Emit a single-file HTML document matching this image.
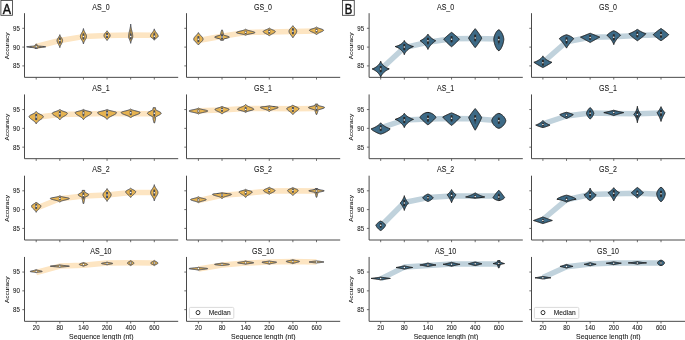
<!DOCTYPE html><html><head><meta charset="utf-8"><style>html,body{margin:0;padding:0;background:#fff;}svg{display:block;will-change:transform;font-family:"Liberation Sans",sans-serif;}text{stroke:#1a1a1a;stroke-width:0.08px;}</style></head><body>
<svg width="685" height="340" viewBox="0 0 685 340">
<rect width="685" height="340" fill="#fff"/>
<text font-size="8.30" fill="#1a1a1a" text-anchor="middle" transform="translate(100.95,9.85) scale(0.850,1)">AS_0</text>
<path d="M36.20,46.50 L59.82,40.50 L83.44,36.60 L107.06,35.60 L130.68,34.95 L154.30,35.20" fill="none" stroke="#FDE5C2" stroke-width="5.50" stroke-linejoin="round"/>
<path d="M36.51,44.00 L36.58,44.11 L36.65,44.22 L36.72,44.33 L36.79,44.44 L36.86,44.55 L36.93,44.66 L36.99,44.77 L37.06,44.88 L37.13,44.99 L37.20,45.10 L37.27,45.21 L37.34,45.32 L37.41,45.43 L37.45,45.54 L37.45,45.65 L37.45,45.76 L37.45,45.87 L37.85,45.98 L38.79,46.09 L39.98,46.20 L41.36,46.31 L42.80,46.42 L44.13,46.53 L45.15,46.64 L45.69,46.75 L45.69,46.86 L45.30,46.97 L44.57,47.08 L43.59,47.19 L42.46,47.30 L41.29,47.41 L40.16,47.52 L39.15,47.63 L38.30,47.74 L37.62,47.85 L37.45,47.96 L37.45,48.07 L37.45,48.18 L37.45,48.29 L37.45,48.40 L34.95,48.40 L34.95,48.29 L34.95,48.18 L34.95,48.07 L34.95,47.96 L34.78,47.85 L34.10,47.74 L33.25,47.63 L32.24,47.52 L31.11,47.41 L29.94,47.30 L28.81,47.19 L27.83,47.08 L27.10,46.97 L26.71,46.86 L26.71,46.75 L27.25,46.64 L28.27,46.53 L29.60,46.42 L31.04,46.31 L32.42,46.20 L33.61,46.09 L34.55,45.98 L34.95,45.87 L34.95,45.76 L34.95,45.65 L34.95,45.54 L34.99,45.43 L35.06,45.32 L35.13,45.21 L35.20,45.10 L35.27,44.99 L35.34,44.88 L35.41,44.77 L35.48,44.66 L35.54,44.55 L35.61,44.44 L35.68,44.33 L35.75,44.22 L35.82,44.11 L35.89,44.00Z" fill="#E6B350" stroke="#474c58" stroke-width="1.0" stroke-linejoin="round"/>
<line x1="36.20" y1="45.20" x2="36.20" y2="47.20" stroke="#474c58" stroke-width="0.6"/>
<rect x="35.25" y="45.60" width="1.9" height="2.40" fill="#474c58"/>
<circle cx="36.20" cy="46.80" r="0.75" fill="#fff"/>
<path d="M59.82,34.70 L59.92,35.02 L60.03,35.34 L60.16,35.67 L60.31,35.99 L60.48,36.31 L60.66,36.63 L60.86,36.96 L61.07,37.28 L61.28,37.60 L61.50,37.92 L61.71,38.25 L61.92,38.57 L62.10,38.89 L62.26,39.21 L62.39,39.54 L62.49,39.86 L62.55,40.18 L62.57,40.50 L62.56,40.83 L62.51,41.15 L62.45,41.47 L62.36,41.80 L62.24,42.12 L62.11,42.44 L61.96,42.76 L61.80,43.09 L61.63,43.41 L61.46,43.73 L61.28,44.05 L61.11,44.38 L60.93,44.70 L60.77,45.02 L60.61,45.34 L60.46,45.66 L60.32,45.99 L60.20,46.31 L60.09,46.63 L59.99,46.95 L59.90,47.28 L59.82,47.60 L59.82,47.60 L59.74,47.28 L59.65,46.95 L59.55,46.63 L59.44,46.31 L59.32,45.99 L59.18,45.66 L59.03,45.34 L58.87,45.02 L58.71,44.70 L58.53,44.38 L58.36,44.05 L58.18,43.73 L58.01,43.41 L57.84,43.09 L57.68,42.76 L57.53,42.44 L57.40,42.12 L57.28,41.80 L57.19,41.47 L57.13,41.15 L57.08,40.83 L57.07,40.50 L57.09,40.18 L57.15,39.86 L57.25,39.54 L57.38,39.21 L57.54,38.89 L57.72,38.57 L57.93,38.25 L58.14,37.92 L58.36,37.60 L58.57,37.28 L58.78,36.96 L58.98,36.63 L59.16,36.31 L59.33,35.99 L59.48,35.67 L59.61,35.34 L59.72,35.02 L59.82,34.70Z" fill="#E6B350" stroke="#474c58" stroke-width="1.0" stroke-linejoin="round"/>
<line x1="59.82" y1="38.45" x2="59.82" y2="43.85" stroke="#474c58" stroke-width="0.6"/>
<rect x="58.87" y="37.50" width="1.9" height="6.00" fill="#474c58"/>
<circle cx="59.82" cy="40.50" r="0.75" fill="#fff"/>
<path d="M83.44,28.60 L83.51,28.99 L83.60,29.37 L83.70,29.76 L83.82,30.14 L83.95,30.53 L84.10,30.91 L84.28,31.30 L84.46,31.68 L84.66,32.06 L84.87,32.45 L85.09,32.84 L85.31,33.22 L85.53,33.61 L85.74,33.99 L85.93,34.38 L86.11,34.76 L86.25,35.15 L86.37,35.53 L86.44,35.91 L86.48,36.30 L86.48,36.69 L86.44,37.07 L86.36,37.45 L86.23,37.84 L86.07,38.23 L85.89,38.61 L85.68,39.00 L85.45,39.38 L85.22,39.77 L84.99,40.15 L84.76,40.53 L84.55,40.92 L84.34,41.30 L84.16,41.69 L83.99,42.08 L83.84,42.46 L83.71,42.84 L83.61,43.23 L83.52,43.61 L83.44,44.00 L83.44,44.00 L83.36,43.61 L83.27,43.23 L83.17,42.84 L83.04,42.46 L82.89,42.08 L82.72,41.69 L82.54,41.30 L82.33,40.92 L82.12,40.53 L81.89,40.15 L81.66,39.77 L81.43,39.38 L81.20,39.00 L80.99,38.61 L80.81,38.23 L80.65,37.84 L80.52,37.45 L80.44,37.07 L80.40,36.69 L80.40,36.30 L80.44,35.91 L80.51,35.53 L80.63,35.15 L80.77,34.76 L80.95,34.38 L81.14,33.99 L81.35,33.61 L81.57,33.22 L81.79,32.84 L82.01,32.45 L82.22,32.06 L82.42,31.68 L82.60,31.30 L82.78,30.91 L82.93,30.53 L83.06,30.14 L83.18,29.76 L83.28,29.37 L83.37,28.99 L83.44,28.60Z" fill="#E6B350" stroke="#474c58" stroke-width="1.0" stroke-linejoin="round"/>
<line x1="83.44" y1="33.10" x2="83.44" y2="39.50" stroke="#474c58" stroke-width="0.6"/>
<rect x="82.49" y="33.50" width="1.9" height="6.00" fill="#474c58"/>
<circle cx="83.44" cy="36.50" r="0.75" fill="#fff"/>
<path d="M107.06,30.80 L107.22,31.04 L107.40,31.29 L107.58,31.53 L107.77,31.77 L107.97,32.01 L108.18,32.26 L108.39,32.50 L108.60,32.74 L108.81,32.98 L109.02,33.23 L109.21,33.47 L109.40,33.71 L109.56,33.95 L109.71,34.20 L109.84,34.44 L109.95,34.68 L110.03,34.92 L110.08,35.16 L110.11,35.41 L110.11,35.65 L110.08,35.89 L110.02,36.13 L109.95,36.38 L109.85,36.62 L109.73,36.86 L109.59,37.11 L109.43,37.35 L109.26,37.59 L109.08,37.83 L108.90,38.08 L108.70,38.32 L108.50,38.56 L108.30,38.80 L108.11,39.05 L107.91,39.29 L107.73,39.53 L107.55,39.77 L107.37,40.02 L107.21,40.26 L107.06,40.50 L107.06,40.50 L106.91,40.26 L106.75,40.02 L106.57,39.77 L106.39,39.53 L106.21,39.29 L106.01,39.05 L105.82,38.80 L105.62,38.56 L105.42,38.32 L105.22,38.08 L105.04,37.83 L104.86,37.59 L104.69,37.35 L104.53,37.11 L104.39,36.86 L104.27,36.62 L104.17,36.38 L104.10,36.13 L104.04,35.89 L104.01,35.65 L104.01,35.41 L104.04,35.16 L104.09,34.92 L104.17,34.68 L104.28,34.44 L104.41,34.20 L104.56,33.95 L104.72,33.71 L104.91,33.47 L105.10,33.23 L105.31,32.98 L105.52,32.74 L105.73,32.50 L105.94,32.26 L106.15,32.01 L106.35,31.77 L106.54,31.53 L106.72,31.29 L106.90,31.04 L107.06,30.80Z" fill="#E6B350" stroke="#474c58" stroke-width="1.0" stroke-linejoin="round"/>
<line x1="107.06" y1="33.59" x2="107.06" y2="37.71" stroke="#474c58" stroke-width="0.6"/>
<rect x="106.11" y="33.03" width="1.9" height="4.94" fill="#474c58"/>
<circle cx="107.06" cy="35.50" r="0.75" fill="#fff"/>
<path d="M130.68,24.10 L130.72,24.58 L130.76,25.06 L130.81,25.54 L130.87,26.02 L130.93,26.50 L131.00,26.98 L131.08,27.46 L131.17,27.94 L131.26,28.42 L131.36,28.90 L131.47,29.38 L131.58,29.86 L131.69,30.34 L131.81,30.82 L131.93,31.30 L132.04,31.78 L132.16,32.26 L132.27,32.74 L132.37,33.22 L132.46,33.70 L132.54,34.18 L132.61,34.66 L132.66,35.14 L132.70,35.62 L132.72,36.10 L132.73,36.58 L132.69,37.06 L132.60,37.54 L132.46,38.02 L132.29,38.50 L132.09,38.98 L131.88,39.46 L131.66,39.94 L131.46,40.42 L131.27,40.90 L131.10,41.38 L130.96,41.86 L130.85,42.34 L130.75,42.82 L130.68,43.30 L130.68,43.30 L130.61,42.82 L130.51,42.34 L130.40,41.86 L130.26,41.38 L130.09,40.90 L129.90,40.42 L129.70,39.94 L129.48,39.46 L129.27,38.98 L129.07,38.50 L128.90,38.02 L128.76,37.54 L128.67,37.06 L128.63,36.58 L128.64,36.10 L128.66,35.62 L128.70,35.14 L128.75,34.66 L128.82,34.18 L128.90,33.70 L128.99,33.22 L129.09,32.74 L129.20,32.26 L129.32,31.78 L129.43,31.30 L129.55,30.82 L129.67,30.34 L129.78,29.86 L129.89,29.38 L130.00,28.90 L130.10,28.42 L130.19,27.94 L130.28,27.46 L130.36,26.98 L130.43,26.50 L130.49,26.02 L130.55,25.54 L130.60,25.06 L130.64,24.58 L130.68,24.10Z" fill="#E6B350" stroke="#474c58" stroke-width="1.0" stroke-linejoin="round"/>
<line x1="130.68" y1="29.74" x2="130.68" y2="37.66" stroke="#474c58" stroke-width="0.6"/>
<rect x="129.73" y="33.50" width="1.9" height="6.00" fill="#474c58"/>
<circle cx="130.68" cy="36.50" r="0.75" fill="#fff"/>
<path d="M154.30,28.90 L154.37,29.18 L154.45,29.47 L154.54,29.75 L154.65,30.03 L154.77,30.31 L154.90,30.60 L155.05,30.88 L155.21,31.16 L155.39,31.44 L155.58,31.73 L155.77,32.01 L155.98,32.29 L156.20,32.57 L156.42,32.86 L156.64,33.14 L156.86,33.42 L157.07,33.70 L157.28,33.98 L157.47,34.27 L157.64,34.55 L157.79,34.83 L157.92,35.12 L158.02,35.40 L158.10,35.68 L158.14,35.96 L158.15,36.25 L158.08,36.53 L157.91,36.81 L157.65,37.09 L157.33,37.38 L156.95,37.66 L156.55,37.94 L156.15,38.22 L155.76,38.51 L155.41,38.79 L155.10,39.07 L154.83,39.35 L154.61,39.64 L154.44,39.92 L154.30,40.20 L154.30,40.20 L154.16,39.92 L153.99,39.64 L153.77,39.35 L153.50,39.07 L153.19,38.79 L152.84,38.51 L152.45,38.22 L152.05,37.94 L151.65,37.66 L151.27,37.38 L150.95,37.09 L150.69,36.81 L150.52,36.53 L150.45,36.25 L150.46,35.96 L150.50,35.68 L150.58,35.40 L150.68,35.12 L150.81,34.83 L150.96,34.55 L151.13,34.27 L151.32,33.98 L151.53,33.70 L151.74,33.42 L151.96,33.14 L152.18,32.86 L152.40,32.57 L152.62,32.29 L152.83,32.01 L153.02,31.73 L153.21,31.44 L153.39,31.16 L153.55,30.88 L153.70,30.60 L153.83,30.31 L153.95,30.03 L154.06,29.75 L154.15,29.47 L154.23,29.18 L154.30,28.90Z" fill="#E6B350" stroke="#474c58" stroke-width="1.0" stroke-linejoin="round"/>
<line x1="154.30" y1="32.17" x2="154.30" y2="36.93" stroke="#474c58" stroke-width="0.6"/>
<rect x="153.35" y="33.34" width="1.9" height="5.71" fill="#474c58"/>
<circle cx="154.30" cy="36.20" r="0.75" fill="#fff"/>
<path d="M24.50,13.20 V77.35 H178.20" fill="none" stroke="#4a4a4a" stroke-width="1.0"/>
<line x1="22.30" y1="65.90" x2="24.50" y2="65.90" stroke="#4a4a4a" stroke-width="0.8"/>
<text font-size="7.20" fill="#1a1a1a" text-anchor="end" transform="translate(19.90,68.30) scale(0.850,1)">85</text>
<line x1="22.30" y1="47.10" x2="24.50" y2="47.10" stroke="#4a4a4a" stroke-width="0.8"/>
<text font-size="7.20" fill="#1a1a1a" text-anchor="end" transform="translate(19.90,49.50) scale(0.850,1)">90</text>
<line x1="22.30" y1="28.30" x2="24.50" y2="28.30" stroke="#4a4a4a" stroke-width="0.8"/>
<text font-size="7.20" fill="#1a1a1a" text-anchor="end" transform="translate(19.90,30.70) scale(0.850,1)">95</text>
<line x1="36.20" y1="77.35" x2="36.20" y2="79.55" stroke="#4a4a4a" stroke-width="0.8"/>
<line x1="59.82" y1="77.35" x2="59.82" y2="79.55" stroke="#4a4a4a" stroke-width="0.8"/>
<line x1="83.44" y1="77.35" x2="83.44" y2="79.55" stroke="#4a4a4a" stroke-width="0.8"/>
<line x1="107.06" y1="77.35" x2="107.06" y2="79.55" stroke="#4a4a4a" stroke-width="0.8"/>
<line x1="130.68" y1="77.35" x2="130.68" y2="79.55" stroke="#4a4a4a" stroke-width="0.8"/>
<line x1="154.30" y1="77.35" x2="154.30" y2="79.55" stroke="#4a4a4a" stroke-width="0.8"/>
<text font-size="6.50" fill="#1a1a1a" text-anchor="middle" transform="translate(8.90,45.88) scale(0.830,1) rotate(-90)">Accuracy</text>
<text font-size="8.30" fill="#1a1a1a" text-anchor="middle" transform="translate(100.95,91.10) scale(0.850,1)">AS_1</text>
<path d="M36.20,117.20 L59.82,114.60 L83.44,113.90 L107.06,113.60 L130.68,113.70 L154.30,113.80" fill="none" stroke="#FDE5C2" stroke-width="5.50" stroke-linejoin="round"/>
<path d="M36.20,111.50 L36.41,111.81 L36.68,112.12 L37.01,112.43 L37.41,112.74 L37.87,113.05 L38.40,113.36 L38.98,113.67 L39.60,113.98 L40.25,114.29 L40.89,114.60 L41.51,114.91 L42.07,115.22 L42.55,115.53 L42.92,115.84 L43.16,116.15 L43.25,116.46 L43.22,116.77 L43.13,117.08 L42.97,117.39 L42.75,117.70 L42.48,118.01 L42.16,118.32 L41.79,118.63 L41.40,118.94 L40.98,119.25 L40.55,119.56 L40.11,119.87 L39.67,120.18 L39.25,120.49 L38.84,120.80 L38.45,121.11 L38.08,121.42 L37.74,121.73 L37.43,122.04 L37.16,122.35 L36.91,122.66 L36.69,122.97 L36.50,123.28 L36.34,123.59 L36.20,123.90 L36.20,123.90 L36.06,123.59 L35.90,123.28 L35.71,122.97 L35.49,122.66 L35.24,122.35 L34.97,122.04 L34.66,121.73 L34.32,121.42 L33.95,121.11 L33.56,120.80 L33.15,120.49 L32.73,120.18 L32.29,119.87 L31.85,119.56 L31.42,119.25 L31.00,118.94 L30.61,118.63 L30.24,118.32 L29.92,118.01 L29.65,117.70 L29.43,117.39 L29.27,117.08 L29.18,116.77 L29.15,116.46 L29.24,116.15 L29.48,115.84 L29.85,115.53 L30.33,115.22 L30.89,114.91 L31.51,114.60 L32.15,114.29 L32.80,113.98 L33.42,113.67 L34.00,113.36 L34.53,113.05 L34.99,112.74 L35.39,112.43 L35.72,112.12 L35.99,111.81 L36.20,111.50Z" fill="#E6B350" stroke="#474c58" stroke-width="1.0" stroke-linejoin="round"/>
<line x1="36.20" y1="115.10" x2="36.20" y2="120.30" stroke="#474c58" stroke-width="0.6"/>
<rect x="35.25" y="114.00" width="1.9" height="6.00" fill="#474c58"/>
<circle cx="36.20" cy="117.00" r="0.75" fill="#fff"/>
<path d="M59.82,109.40 L60.07,109.66 L60.39,109.92 L60.79,110.19 L61.28,110.45 L61.85,110.71 L62.49,110.97 L63.19,111.24 L63.94,111.50 L64.69,111.76 L65.42,112.02 L66.08,112.29 L66.63,112.55 L67.05,112.81 L67.30,113.08 L67.37,113.34 L67.33,113.60 L67.22,113.86 L67.05,114.12 L66.82,114.39 L66.54,114.65 L66.21,114.91 L65.85,115.17 L65.45,115.44 L65.03,115.70 L64.59,115.96 L64.14,116.22 L63.70,116.49 L63.26,116.75 L62.84,117.01 L62.43,117.28 L62.04,117.54 L61.68,117.80 L61.35,118.06 L61.05,118.33 L60.77,118.59 L60.53,118.85 L60.31,119.11 L60.12,119.38 L59.96,119.64 L59.82,119.90 L59.82,119.90 L59.68,119.64 L59.52,119.38 L59.33,119.11 L59.11,118.85 L58.87,118.59 L58.59,118.33 L58.29,118.06 L57.96,117.80 L57.60,117.54 L57.21,117.28 L56.80,117.01 L56.38,116.75 L55.94,116.49 L55.50,116.22 L55.05,115.96 L54.61,115.70 L54.19,115.44 L53.79,115.17 L53.43,114.91 L53.10,114.65 L52.82,114.39 L52.59,114.12 L52.42,113.86 L52.31,113.60 L52.27,113.34 L52.34,113.08 L52.59,112.81 L53.01,112.55 L53.56,112.29 L54.22,112.02 L54.95,111.76 L55.70,111.50 L56.45,111.24 L57.15,110.97 L57.79,110.71 L58.36,110.45 L58.85,110.19 L59.25,109.92 L59.57,109.66 L59.82,109.40Z" fill="#E6B350" stroke="#474c58" stroke-width="1.0" stroke-linejoin="round"/>
<line x1="59.82" y1="112.43" x2="59.82" y2="116.87" stroke="#474c58" stroke-width="0.6"/>
<rect x="58.87" y="111.14" width="1.9" height="5.33" fill="#474c58"/>
<circle cx="59.82" cy="113.80" r="0.75" fill="#fff"/>
<path d="M83.44,109.40 L83.78,109.66 L84.23,109.91 L84.80,110.17 L85.51,110.43 L86.34,110.69 L87.27,110.94 L88.24,111.20 L89.22,111.46 L90.11,111.72 L90.86,111.97 L91.39,112.23 L91.66,112.49 L91.68,112.75 L91.62,113.00 L91.49,113.26 L91.31,113.52 L91.08,113.78 L90.80,114.03 L90.48,114.29 L90.12,114.55 L89.73,114.81 L89.32,115.06 L88.89,115.32 L88.45,115.58 L88.01,115.84 L87.57,116.09 L87.13,116.35 L86.71,116.61 L86.30,116.87 L85.92,117.12 L85.55,117.38 L85.22,117.64 L84.91,117.90 L84.62,118.16 L84.36,118.41 L84.13,118.67 L83.92,118.93 L83.74,119.19 L83.58,119.44 L83.44,119.70 L83.44,119.70 L83.30,119.44 L83.14,119.19 L82.96,118.93 L82.75,118.67 L82.52,118.41 L82.26,118.16 L81.97,117.90 L81.66,117.64 L81.33,117.38 L80.96,117.12 L80.58,116.87 L80.17,116.61 L79.75,116.35 L79.31,116.09 L78.87,115.84 L78.43,115.58 L77.99,115.32 L77.56,115.06 L77.15,114.81 L76.76,114.55 L76.40,114.29 L76.08,114.03 L75.80,113.78 L75.57,113.52 L75.39,113.26 L75.26,113.00 L75.20,112.75 L75.22,112.49 L75.49,112.23 L76.02,111.97 L76.77,111.72 L77.66,111.46 L78.64,111.20 L79.61,110.94 L80.54,110.69 L81.37,110.43 L82.08,110.17 L82.65,109.91 L83.10,109.66 L83.44,109.40Z" fill="#E6B350" stroke="#474c58" stroke-width="1.0" stroke-linejoin="round"/>
<line x1="83.44" y1="112.37" x2="83.44" y2="116.73" stroke="#474c58" stroke-width="0.6"/>
<rect x="82.49" y="110.38" width="1.9" height="5.23" fill="#474c58"/>
<circle cx="83.44" cy="113.00" r="0.75" fill="#fff"/>
<path d="M107.06,109.40 L107.43,109.65 L107.93,109.90 L108.56,110.15 L109.33,110.40 L110.24,110.65 L111.25,110.90 L112.33,111.15 L113.42,111.40 L114.45,111.65 L115.33,111.90 L116.01,112.15 L116.41,112.40 L116.51,112.65 L116.46,112.90 L116.34,113.15 L116.15,113.40 L115.91,113.65 L115.60,113.90 L115.24,114.15 L114.83,114.40 L114.39,114.65 L113.92,114.90 L113.42,115.15 L112.91,115.40 L112.40,115.65 L111.88,115.90 L111.38,116.15 L110.88,116.40 L110.41,116.65 L109.96,116.90 L109.53,117.15 L109.14,117.40 L108.77,117.65 L108.44,117.90 L108.13,118.15 L107.86,118.40 L107.62,118.65 L107.41,118.90 L107.22,119.15 L107.06,119.40 L107.06,119.40 L106.90,119.15 L106.71,118.90 L106.50,118.65 L106.26,118.40 L105.99,118.15 L105.68,117.90 L105.35,117.65 L104.98,117.40 L104.59,117.15 L104.16,116.90 L103.71,116.65 L103.24,116.40 L102.74,116.15 L102.24,115.90 L101.72,115.65 L101.21,115.40 L100.70,115.15 L100.20,114.90 L99.73,114.65 L99.29,114.40 L98.88,114.15 L98.52,113.90 L98.21,113.65 L97.97,113.40 L97.78,113.15 L97.66,112.90 L97.61,112.65 L97.71,112.40 L98.11,112.15 L98.79,111.90 L99.67,111.65 L100.70,111.40 L101.79,111.15 L102.87,110.90 L103.88,110.65 L104.79,110.40 L105.56,110.15 L106.19,109.90 L106.69,109.65 L107.06,109.40Z" fill="#E6B350" stroke="#474c58" stroke-width="1.0" stroke-linejoin="round"/>
<line x1="107.06" y1="112.28" x2="107.06" y2="116.52" stroke="#474c58" stroke-width="0.6"/>
<rect x="106.11" y="110.46" width="1.9" height="5.09" fill="#474c58"/>
<circle cx="107.06" cy="113.00" r="0.75" fill="#fff"/>
<path d="M130.68,109.00 L130.96,109.22 L131.32,109.44 L131.76,109.66 L132.28,109.88 L132.89,110.10 L133.58,110.32 L134.35,110.54 L135.17,110.76 L136.02,110.98 L136.88,111.20 L137.71,111.42 L138.47,111.64 L139.13,111.86 L139.65,112.08 L140.00,112.30 L140.17,112.52 L140.16,112.74 L140.05,112.96 L139.86,113.18 L139.58,113.40 L139.22,113.62 L138.79,113.84 L138.30,114.06 L137.77,114.28 L137.21,114.50 L136.62,114.72 L136.02,114.94 L135.43,115.16 L134.85,115.38 L134.29,115.60 L133.75,115.82 L133.25,116.04 L132.79,116.26 L132.37,116.48 L131.99,116.70 L131.65,116.92 L131.35,117.14 L131.09,117.36 L130.87,117.58 L130.68,117.80 L130.68,117.80 L130.49,117.58 L130.27,117.36 L130.01,117.14 L129.71,116.92 L129.37,116.70 L128.99,116.48 L128.57,116.26 L128.11,116.04 L127.61,115.82 L127.07,115.60 L126.51,115.38 L125.93,115.16 L125.34,114.94 L124.74,114.72 L124.15,114.50 L123.59,114.28 L123.06,114.06 L122.57,113.84 L122.14,113.62 L121.78,113.40 L121.50,113.18 L121.31,112.96 L121.20,112.74 L121.19,112.52 L121.36,112.30 L121.71,112.08 L122.23,111.86 L122.89,111.64 L123.65,111.42 L124.48,111.20 L125.34,110.98 L126.19,110.76 L127.01,110.54 L127.78,110.32 L128.47,110.10 L129.08,109.88 L129.60,109.66 L130.04,109.44 L130.40,109.22 L130.68,109.00Z" fill="#E6B350" stroke="#474c58" stroke-width="1.0" stroke-linejoin="round"/>
<line x1="130.68" y1="111.52" x2="130.68" y2="115.28" stroke="#474c58" stroke-width="0.6"/>
<rect x="129.73" y="110.54" width="1.9" height="4.51" fill="#474c58"/>
<circle cx="130.68" cy="112.80" r="0.75" fill="#fff"/>
<path d="M155.55,107.80 L155.55,108.18 L155.55,108.55 L155.55,108.93 L155.55,109.31 L155.70,109.69 L156.25,110.06 L156.89,110.44 L157.61,110.82 L158.38,111.20 L159.14,111.58 L159.84,111.95 L160.44,112.33 L160.88,112.71 L161.11,113.08 L161.13,113.46 L160.94,113.84 L160.55,114.22 L160.01,114.59 L159.35,114.97 L158.63,115.35 L157.89,115.73 L157.17,116.11 L156.52,116.48 L155.94,116.86 L155.55,117.24 L155.55,117.62 L155.55,117.99 L155.55,118.37 L155.55,118.75 L155.52,119.12 L155.43,119.50 L155.34,119.88 L155.25,120.26 L155.16,120.64 L155.07,121.01 L154.98,121.39 L154.88,121.77 L154.79,122.15 L154.70,122.52 L154.61,122.90 L153.99,122.90 L153.90,122.52 L153.81,122.15 L153.72,121.77 L153.62,121.39 L153.53,121.01 L153.44,120.64 L153.35,120.26 L153.26,119.88 L153.17,119.50 L153.08,119.12 L153.05,118.75 L153.05,118.37 L153.05,117.99 L153.05,117.62 L153.05,117.24 L152.66,116.86 L152.08,116.48 L151.43,116.11 L150.71,115.73 L149.97,115.35 L149.25,114.97 L148.59,114.59 L148.05,114.22 L147.66,113.84 L147.47,113.46 L147.49,113.08 L147.72,112.71 L148.16,112.33 L148.76,111.95 L149.46,111.58 L150.22,111.20 L150.99,110.82 L151.71,110.44 L152.35,110.06 L152.90,109.69 L153.05,109.31 L153.05,108.93 L153.05,108.55 L153.05,108.18 L153.05,107.80Z" fill="#E6B350" stroke="#474c58" stroke-width="1.0" stroke-linejoin="round"/>
<line x1="154.30" y1="112.21" x2="154.30" y2="118.49" stroke="#474c58" stroke-width="0.6"/>
<rect x="153.35" y="110.30" width="1.9" height="6.00" fill="#474c58"/>
<circle cx="154.30" cy="113.30" r="0.75" fill="#fff"/>
<path d="M24.50,94.45 V158.68 H178.20" fill="none" stroke="#4a4a4a" stroke-width="1.0"/>
<line x1="22.30" y1="147.15" x2="24.50" y2="147.15" stroke="#4a4a4a" stroke-width="0.8"/>
<text font-size="7.20" fill="#1a1a1a" text-anchor="end" transform="translate(19.90,149.55) scale(0.850,1)">85</text>
<line x1="22.30" y1="128.35" x2="24.50" y2="128.35" stroke="#4a4a4a" stroke-width="0.8"/>
<text font-size="7.20" fill="#1a1a1a" text-anchor="end" transform="translate(19.90,130.75) scale(0.850,1)">90</text>
<line x1="22.30" y1="109.55" x2="24.50" y2="109.55" stroke="#4a4a4a" stroke-width="0.8"/>
<text font-size="7.20" fill="#1a1a1a" text-anchor="end" transform="translate(19.90,111.95) scale(0.850,1)">95</text>
<line x1="36.20" y1="158.68" x2="36.20" y2="160.88" stroke="#4a4a4a" stroke-width="0.8"/>
<line x1="59.82" y1="158.68" x2="59.82" y2="160.88" stroke="#4a4a4a" stroke-width="0.8"/>
<line x1="83.44" y1="158.68" x2="83.44" y2="160.88" stroke="#4a4a4a" stroke-width="0.8"/>
<line x1="107.06" y1="158.68" x2="107.06" y2="160.88" stroke="#4a4a4a" stroke-width="0.8"/>
<line x1="130.68" y1="158.68" x2="130.68" y2="160.88" stroke="#4a4a4a" stroke-width="0.8"/>
<line x1="154.30" y1="158.68" x2="154.30" y2="160.88" stroke="#4a4a4a" stroke-width="0.8"/>
<text font-size="6.50" fill="#1a1a1a" text-anchor="middle" transform="translate(8.90,127.16) scale(0.830,1) rotate(-90)">Accuracy</text>
<text font-size="8.30" fill="#1a1a1a" text-anchor="middle" transform="translate(100.95,172.35) scale(0.850,1)">AS_2</text>
<path d="M36.20,208.30 L59.82,198.80 L83.44,196.10 L107.06,194.90 L130.68,192.60 L154.30,192.50" fill="none" stroke="#FDE5C2" stroke-width="5.50" stroke-linejoin="round"/>
<path d="M36.20,202.00 L36.39,202.26 L36.62,202.51 L36.89,202.77 L37.21,203.03 L37.56,203.29 L37.94,203.54 L38.35,203.80 L38.77,204.06 L39.20,204.32 L39.60,204.57 L39.98,204.83 L40.30,205.09 L40.56,205.35 L40.74,205.60 L40.84,205.86 L40.85,206.12 L40.81,206.38 L40.74,206.63 L40.63,206.89 L40.49,207.15 L40.32,207.41 L40.12,207.66 L39.90,207.92 L39.66,208.18 L39.41,208.44 L39.15,208.69 L38.88,208.95 L38.61,209.21 L38.34,209.47 L38.08,209.72 L37.83,209.98 L37.59,210.24 L37.36,210.50 L37.14,210.75 L36.94,211.01 L36.76,211.27 L36.60,211.53 L36.45,211.78 L36.32,212.04 L36.20,212.30 L36.20,212.30 L36.08,212.04 L35.95,211.78 L35.80,211.53 L35.64,211.27 L35.46,211.01 L35.26,210.75 L35.04,210.50 L34.81,210.24 L34.57,209.98 L34.32,209.72 L34.06,209.47 L33.79,209.21 L33.52,208.95 L33.25,208.69 L32.99,208.44 L32.74,208.18 L32.50,207.92 L32.28,207.66 L32.08,207.41 L31.91,207.15 L31.77,206.89 L31.66,206.63 L31.59,206.38 L31.55,206.12 L31.56,205.86 L31.66,205.60 L31.84,205.35 L32.10,205.09 L32.42,204.83 L32.80,204.57 L33.20,204.32 L33.63,204.06 L34.05,203.80 L34.46,203.54 L34.84,203.29 L35.19,203.03 L35.51,202.77 L35.78,202.51 L36.01,202.26 L36.20,202.00Z" fill="#E6B350" stroke="#474c58" stroke-width="1.0" stroke-linejoin="round"/>
<line x1="36.20" y1="204.97" x2="36.20" y2="209.33" stroke="#474c58" stroke-width="0.6"/>
<rect x="35.25" y="203.68" width="1.9" height="5.23" fill="#474c58"/>
<circle cx="36.20" cy="206.30" r="0.75" fill="#fff"/>
<path d="M59.82,195.70 L59.97,195.86 L60.18,196.03 L60.46,196.19 L60.82,196.35 L61.27,196.51 L61.82,196.68 L62.47,196.84 L63.21,197.00 L64.04,197.16 L64.92,197.33 L65.82,197.49 L66.71,197.65 L67.54,197.81 L68.26,197.97 L68.82,198.14 L69.20,198.30 L69.36,198.46 L69.33,198.62 L69.17,198.79 L68.89,198.95 L68.49,199.11 L68.00,199.28 L67.43,199.44 L66.81,199.60 L66.14,199.76 L65.46,199.93 L64.77,200.09 L64.11,200.25 L63.47,200.41 L62.88,200.57 L62.34,200.74 L61.85,200.90 L61.42,201.06 L61.05,201.22 L60.74,201.39 L60.47,201.55 L60.25,201.71 L60.07,201.88 L59.93,202.04 L59.82,202.20 L59.82,202.20 L59.71,202.04 L59.57,201.88 L59.39,201.71 L59.17,201.55 L58.90,201.39 L58.59,201.22 L58.22,201.06 L57.79,200.90 L57.30,200.74 L56.76,200.57 L56.17,200.41 L55.53,200.25 L54.87,200.09 L54.18,199.93 L53.50,199.76 L52.83,199.60 L52.21,199.44 L51.64,199.28 L51.15,199.11 L50.75,198.95 L50.47,198.79 L50.31,198.62 L50.28,198.46 L50.44,198.30 L50.82,198.14 L51.38,197.97 L52.10,197.81 L52.93,197.65 L53.82,197.49 L54.72,197.33 L55.60,197.16 L56.43,197.00 L57.17,196.84 L57.82,196.68 L58.37,196.51 L58.82,196.35 L59.18,196.19 L59.46,196.03 L59.67,195.86 L59.82,195.70Z" fill="#E6B350" stroke="#474c58" stroke-width="1.0" stroke-linejoin="round"/>
<line x1="59.82" y1="197.53" x2="59.82" y2="200.37" stroke="#474c58" stroke-width="0.6"/>
<rect x="58.87" y="196.80" width="1.9" height="3.41" fill="#474c58"/>
<circle cx="59.82" cy="198.50" r="0.75" fill="#fff"/>
<path d="M84.69,190.40 L84.69,190.73 L84.69,191.06 L84.69,191.38 L84.69,191.71 L84.69,192.04 L85.18,192.37 L85.75,192.69 L86.37,193.02 L87.01,193.35 L87.61,193.68 L88.12,194.00 L88.48,194.33 L88.67,194.66 L88.65,194.99 L88.42,195.31 L88.00,195.64 L87.44,195.97 L86.79,196.30 L86.12,196.62 L85.49,196.95 L84.92,197.28 L84.69,197.60 L84.69,197.93 L84.69,198.26 L84.69,198.59 L84.69,198.91 L84.64,199.24 L84.57,199.57 L84.50,199.90 L84.43,200.22 L84.37,200.55 L84.30,200.88 L84.23,201.21 L84.16,201.53 L84.09,201.86 L84.03,202.19 L83.96,202.52 L83.89,202.84 L83.82,203.17 L83.75,203.50 L83.13,203.50 L83.06,203.17 L82.99,202.84 L82.92,202.52 L82.85,202.19 L82.79,201.86 L82.72,201.53 L82.65,201.21 L82.58,200.88 L82.51,200.55 L82.45,200.22 L82.38,199.90 L82.31,199.57 L82.24,199.24 L82.19,198.91 L82.19,198.59 L82.19,198.26 L82.19,197.93 L82.19,197.60 L81.96,197.28 L81.39,196.95 L80.76,196.62 L80.09,196.30 L79.44,195.97 L78.88,195.64 L78.46,195.31 L78.23,194.99 L78.21,194.66 L78.40,194.33 L78.76,194.00 L79.27,193.68 L79.87,193.35 L80.51,193.02 L81.13,192.69 L81.70,192.37 L82.19,192.04 L82.19,191.71 L82.19,191.38 L82.19,191.06 L82.19,190.73 L82.19,190.40Z" fill="#E6B350" stroke="#474c58" stroke-width="1.0" stroke-linejoin="round"/>
<line x1="83.44" y1="194.21" x2="83.44" y2="199.69" stroke="#474c58" stroke-width="0.6"/>
<rect x="82.49" y="192.40" width="1.9" height="6.00" fill="#474c58"/>
<circle cx="83.44" cy="195.40" r="0.75" fill="#fff"/>
<path d="M107.06,188.60 L107.23,188.92 L107.42,189.24 L107.63,189.56 L107.85,189.88 L108.10,190.20 L108.36,190.52 L108.63,190.84 L108.91,191.16 L109.20,191.48 L109.48,191.80 L109.76,192.12 L110.03,192.44 L110.28,192.76 L110.50,193.08 L110.70,193.40 L110.86,193.72 L110.99,194.04 L111.07,194.36 L111.11,194.68 L111.10,195.00 L111.06,195.32 L110.98,195.64 L110.86,195.96 L110.70,196.28 L110.52,196.60 L110.31,196.92 L110.08,197.24 L109.84,197.56 L109.58,197.88 L109.31,198.20 L109.04,198.52 L108.78,198.84 L108.51,199.16 L108.26,199.48 L108.02,199.80 L107.80,200.12 L107.59,200.44 L107.39,200.76 L107.22,201.08 L107.06,201.40 L107.06,201.40 L106.90,201.08 L106.73,200.76 L106.53,200.44 L106.32,200.12 L106.10,199.80 L105.86,199.48 L105.61,199.16 L105.34,198.84 L105.08,198.52 L104.81,198.20 L104.54,197.88 L104.28,197.56 L104.04,197.24 L103.81,196.92 L103.60,196.60 L103.42,196.28 L103.26,195.96 L103.14,195.64 L103.06,195.32 L103.02,195.00 L103.01,194.68 L103.05,194.36 L103.13,194.04 L103.26,193.72 L103.42,193.40 L103.62,193.08 L103.84,192.76 L104.09,192.44 L104.36,192.12 L104.64,191.80 L104.92,191.48 L105.21,191.16 L105.49,190.84 L105.76,190.52 L106.02,190.20 L106.27,189.88 L106.49,189.56 L106.70,189.24 L106.89,188.92 L107.06,188.60Z" fill="#E6B350" stroke="#474c58" stroke-width="1.0" stroke-linejoin="round"/>
<line x1="107.06" y1="192.32" x2="107.06" y2="197.68" stroke="#474c58" stroke-width="0.6"/>
<rect x="106.11" y="192.00" width="1.9" height="6.00" fill="#474c58"/>
<circle cx="107.06" cy="195.00" r="0.75" fill="#fff"/>
<path d="M130.68,188.20 L130.95,188.43 L131.26,188.67 L131.61,188.90 L132.00,189.13 L132.41,189.36 L132.85,189.60 L133.30,189.83 L133.74,190.06 L134.17,190.29 L134.57,190.53 L134.93,190.76 L135.22,190.99 L135.44,191.22 L135.58,191.46 L135.63,191.69 L135.62,191.92 L135.57,192.15 L135.49,192.39 L135.38,192.62 L135.24,192.85 L135.07,193.08 L134.88,193.31 L134.67,193.55 L134.44,193.78 L134.20,194.01 L133.94,194.25 L133.67,194.48 L133.41,194.71 L133.13,194.94 L132.86,195.18 L132.60,195.41 L132.34,195.64 L132.09,195.87 L131.85,196.10 L131.62,196.34 L131.40,196.57 L131.20,196.80 L131.01,197.03 L130.84,197.27 L130.68,197.50 L130.68,197.50 L130.52,197.27 L130.35,197.03 L130.16,196.80 L129.96,196.57 L129.74,196.34 L129.51,196.10 L129.27,195.87 L129.02,195.64 L128.76,195.41 L128.50,195.18 L128.23,194.94 L127.95,194.71 L127.69,194.48 L127.42,194.25 L127.16,194.01 L126.92,193.78 L126.69,193.55 L126.48,193.31 L126.29,193.08 L126.12,192.85 L125.98,192.62 L125.87,192.39 L125.79,192.15 L125.74,191.92 L125.73,191.69 L125.78,191.46 L125.92,191.22 L126.14,190.99 L126.43,190.76 L126.79,190.53 L127.19,190.29 L127.62,190.06 L128.06,189.83 L128.51,189.60 L128.95,189.36 L129.36,189.13 L129.75,188.90 L130.10,188.67 L130.41,188.43 L130.68,188.20Z" fill="#E6B350" stroke="#474c58" stroke-width="1.0" stroke-linejoin="round"/>
<line x1="130.68" y1="190.87" x2="130.68" y2="194.83" stroke="#474c58" stroke-width="0.6"/>
<rect x="129.73" y="190.12" width="1.9" height="4.75" fill="#474c58"/>
<circle cx="130.68" cy="192.50" r="0.75" fill="#fff"/>
<path d="M154.30,184.70 L154.39,185.11 L154.50,185.51 L154.63,185.92 L154.79,186.32 L154.97,186.73 L155.17,187.13 L155.40,187.53 L155.65,187.94 L155.91,188.34 L156.19,188.75 L156.47,189.16 L156.75,189.56 L157.02,189.97 L157.26,190.37 L157.49,190.78 L157.67,191.18 L157.81,191.59 L157.91,191.99 L157.95,192.40 L157.94,192.80 L157.88,193.20 L157.78,193.61 L157.63,194.01 L157.46,194.42 L157.25,194.82 L157.02,195.23 L156.77,195.63 L156.51,196.04 L156.25,196.44 L155.99,196.85 L155.74,197.25 L155.50,197.66 L155.28,198.06 L155.08,198.47 L154.90,198.87 L154.74,199.28 L154.60,199.68 L154.48,200.09 L154.38,200.49 L154.30,200.90 L154.30,200.90 L154.22,200.49 L154.12,200.09 L154.00,199.68 L153.86,199.28 L153.70,198.87 L153.52,198.47 L153.32,198.06 L153.10,197.66 L152.86,197.25 L152.61,196.85 L152.35,196.44 L152.09,196.04 L151.83,195.63 L151.58,195.23 L151.35,194.82 L151.14,194.42 L150.97,194.01 L150.82,193.61 L150.72,193.20 L150.66,192.80 L150.65,192.40 L150.69,191.99 L150.79,191.59 L150.93,191.18 L151.11,190.78 L151.34,190.37 L151.58,189.97 L151.85,189.56 L152.13,189.16 L152.41,188.75 L152.69,188.34 L152.95,187.94 L153.20,187.53 L153.43,187.13 L153.63,186.73 L153.81,186.32 L153.97,185.92 L154.10,185.51 L154.21,185.11 L154.30,184.70Z" fill="#E6B350" stroke="#474c58" stroke-width="1.0" stroke-linejoin="round"/>
<line x1="154.30" y1="189.44" x2="154.30" y2="196.16" stroke="#474c58" stroke-width="0.6"/>
<rect x="153.35" y="189.70" width="1.9" height="6.00" fill="#474c58"/>
<circle cx="154.30" cy="192.70" r="0.75" fill="#fff"/>
<path d="M24.50,175.70 V240.01 H178.20" fill="none" stroke="#4a4a4a" stroke-width="1.0"/>
<line x1="22.30" y1="228.40" x2="24.50" y2="228.40" stroke="#4a4a4a" stroke-width="0.8"/>
<text font-size="7.20" fill="#1a1a1a" text-anchor="end" transform="translate(19.90,230.80) scale(0.850,1)">85</text>
<line x1="22.30" y1="209.60" x2="24.50" y2="209.60" stroke="#4a4a4a" stroke-width="0.8"/>
<text font-size="7.20" fill="#1a1a1a" text-anchor="end" transform="translate(19.90,212.00) scale(0.850,1)">90</text>
<line x1="22.30" y1="190.80" x2="24.50" y2="190.80" stroke="#4a4a4a" stroke-width="0.8"/>
<text font-size="7.20" fill="#1a1a1a" text-anchor="end" transform="translate(19.90,193.20) scale(0.850,1)">95</text>
<line x1="36.20" y1="240.01" x2="36.20" y2="242.21" stroke="#4a4a4a" stroke-width="0.8"/>
<line x1="59.82" y1="240.01" x2="59.82" y2="242.21" stroke="#4a4a4a" stroke-width="0.8"/>
<line x1="83.44" y1="240.01" x2="83.44" y2="242.21" stroke="#4a4a4a" stroke-width="0.8"/>
<line x1="107.06" y1="240.01" x2="107.06" y2="242.21" stroke="#4a4a4a" stroke-width="0.8"/>
<line x1="130.68" y1="240.01" x2="130.68" y2="242.21" stroke="#4a4a4a" stroke-width="0.8"/>
<line x1="154.30" y1="240.01" x2="154.30" y2="242.21" stroke="#4a4a4a" stroke-width="0.8"/>
<text font-size="6.50" fill="#1a1a1a" text-anchor="middle" transform="translate(8.90,208.45) scale(0.830,1) rotate(-90)">Accuracy</text>
<text font-size="8.30" fill="#1a1a1a" text-anchor="middle" transform="translate(100.95,253.60) scale(0.850,1)">AS_10</text>
<path d="M36.20,272.50 L59.82,266.10 L83.44,265.30 L107.06,263.10 L130.68,262.80 L154.30,262.90" fill="none" stroke="#FDE5C2" stroke-width="5.50" stroke-linejoin="round"/>
<path d="M36.20,269.40 L36.26,269.48 L36.34,269.57 L36.44,269.65 L36.55,269.73 L36.69,269.81 L36.85,269.90 L37.04,269.98 L37.26,270.06 L37.50,270.14 L37.78,270.23 L38.08,270.31 L38.41,270.39 L38.76,270.47 L39.14,270.56 L39.52,270.64 L39.91,270.72 L40.29,270.80 L40.67,270.88 L41.02,270.97 L41.35,271.05 L41.63,271.13 L41.87,271.22 L42.06,271.30 L42.18,271.38 L42.24,271.46 L42.22,271.55 L42.01,271.63 L41.63,271.71 L41.11,271.79 L40.48,271.88 L39.81,271.96 L39.14,272.04 L38.50,272.12 L37.93,272.20 L37.44,272.29 L37.04,272.37 L36.73,272.45 L36.49,272.53 L36.32,272.62 L36.20,272.70 L36.20,272.70 L36.08,272.62 L35.91,272.53 L35.67,272.45 L35.36,272.37 L34.96,272.29 L34.47,272.20 L33.90,272.12 L33.26,272.04 L32.59,271.96 L31.92,271.88 L31.29,271.79 L30.77,271.71 L30.39,271.63 L30.18,271.55 L30.16,271.46 L30.22,271.38 L30.34,271.30 L30.53,271.22 L30.77,271.13 L31.05,271.05 L31.38,270.97 L31.73,270.88 L32.11,270.80 L32.49,270.72 L32.88,270.64 L33.26,270.56 L33.64,270.47 L33.99,270.39 L34.32,270.31 L34.62,270.23 L34.90,270.14 L35.14,270.06 L35.36,269.98 L35.55,269.90 L35.71,269.81 L35.85,269.73 L35.96,269.65 L36.06,269.57 L36.14,269.48 L36.20,269.40Z" fill="#E6B350" stroke="#474c58" stroke-width="1.0" stroke-linejoin="round"/>
<line x1="36.20" y1="270.27" x2="36.20" y2="271.83" stroke="#474c58" stroke-width="0.6"/>
<rect x="35.25" y="270.56" width="1.9" height="1.87" fill="#474c58"/>
<circle cx="36.20" cy="271.50" r="0.75" fill="#fff"/>
<path d="M59.82,264.70 L59.93,264.77 L60.08,264.83 L60.27,264.90 L60.49,264.97 L60.77,265.04 L61.10,265.10 L61.49,265.17 L61.94,265.24 L62.46,265.31 L63.02,265.38 L63.64,265.44 L64.30,265.51 L64.99,265.58 L65.69,265.64 L66.39,265.71 L67.06,265.78 L67.68,265.85 L68.23,265.91 L68.69,265.98 L69.04,266.05 L69.27,266.12 L69.37,266.19 L69.31,266.25 L69.04,266.32 L68.58,266.39 L67.96,266.45 L67.22,266.52 L66.39,266.59 L65.52,266.66 L64.64,266.72 L63.80,266.79 L63.02,266.86 L62.32,266.93 L61.71,267.00 L61.20,267.06 L60.77,267.13 L60.43,267.20 L60.17,267.26 L59.97,267.33 L59.82,267.40 L59.82,267.40 L59.67,267.33 L59.47,267.26 L59.21,267.20 L58.87,267.13 L58.44,267.06 L57.93,267.00 L57.32,266.93 L56.62,266.86 L55.84,266.79 L55.00,266.72 L54.12,266.66 L53.25,266.59 L52.42,266.52 L51.68,266.45 L51.06,266.39 L50.60,266.32 L50.33,266.25 L50.27,266.19 L50.37,266.12 L50.60,266.05 L50.95,265.98 L51.41,265.91 L51.96,265.85 L52.58,265.78 L53.25,265.71 L53.95,265.64 L54.65,265.58 L55.34,265.51 L56.00,265.44 L56.62,265.38 L57.18,265.31 L57.70,265.24 L58.15,265.17 L58.54,265.10 L58.87,265.04 L59.15,264.97 L59.37,264.90 L59.56,264.83 L59.71,264.77 L59.82,264.70Z" fill="#E6B350" stroke="#474c58" stroke-width="1.0" stroke-linejoin="round"/>
<line x1="59.82" y1="265.39" x2="59.82" y2="266.71" stroke="#474c58" stroke-width="0.6"/>
<rect x="58.87" y="265.41" width="1.9" height="1.58" fill="#474c58"/>
<circle cx="59.82" cy="266.20" r="0.75" fill="#fff"/>
<path d="M83.44,262.50 L83.65,262.59 L83.87,262.69 L84.10,262.78 L84.35,262.87 L84.61,262.96 L84.87,263.06 L85.14,263.15 L85.41,263.24 L85.68,263.33 L85.95,263.43 L86.21,263.52 L86.45,263.61 L86.68,263.70 L86.89,263.80 L87.08,263.89 L87.24,263.98 L87.38,264.07 L87.48,264.17 L87.55,264.26 L87.58,264.35 L87.59,264.44 L87.55,264.53 L87.47,264.63 L87.36,264.72 L87.22,264.81 L87.04,264.90 L86.84,265.00 L86.61,265.09 L86.36,265.18 L86.09,265.27 L85.82,265.37 L85.53,265.46 L85.25,265.55 L84.96,265.64 L84.68,265.74 L84.41,265.83 L84.14,265.92 L83.89,266.01 L83.66,266.11 L83.44,266.20 L83.44,266.20 L83.22,266.11 L82.99,266.01 L82.74,265.92 L82.47,265.83 L82.20,265.74 L81.92,265.64 L81.63,265.55 L81.35,265.46 L81.06,265.37 L80.79,265.27 L80.52,265.18 L80.27,265.09 L80.04,265.00 L79.84,264.90 L79.66,264.81 L79.52,264.72 L79.41,264.63 L79.33,264.53 L79.29,264.44 L79.30,264.35 L79.33,264.26 L79.40,264.17 L79.50,264.07 L79.64,263.98 L79.80,263.89 L79.99,263.80 L80.20,263.70 L80.43,263.61 L80.67,263.52 L80.93,263.43 L81.20,263.33 L81.47,263.24 L81.74,263.15 L82.01,263.06 L82.27,262.96 L82.53,262.87 L82.78,262.78 L83.01,262.69 L83.23,262.59 L83.44,262.50Z" fill="#E6B350" stroke="#474c58" stroke-width="1.0" stroke-linejoin="round"/>
<line x1="83.44" y1="263.49" x2="83.44" y2="265.21" stroke="#474c58" stroke-width="0.6"/>
<rect x="82.49" y="263.37" width="1.9" height="2.06" fill="#474c58"/>
<circle cx="83.44" cy="264.40" r="0.75" fill="#fff"/>
<path d="M107.06,262.00 L107.19,262.07 L107.35,262.14 L107.53,262.22 L107.75,262.29 L108.00,262.36 L108.28,262.44 L108.59,262.51 L108.93,262.58 L109.30,262.65 L109.68,262.73 L110.08,262.80 L110.49,262.87 L110.89,262.94 L111.28,263.01 L111.64,263.09 L111.96,263.16 L112.23,263.23 L112.45,263.31 L112.61,263.38 L112.69,263.45 L112.71,263.52 L112.64,263.59 L112.49,263.67 L112.27,263.74 L111.98,263.81 L111.64,263.88 L111.25,263.96 L110.83,264.03 L110.40,264.10 L109.97,264.17 L109.54,264.25 L109.14,264.32 L108.76,264.39 L108.41,264.46 L108.09,264.54 L107.82,264.61 L107.58,264.68 L107.37,264.75 L107.20,264.83 L107.06,264.90 L107.06,264.90 L106.92,264.83 L106.75,264.75 L106.54,264.68 L106.30,264.61 L106.03,264.54 L105.71,264.46 L105.36,264.39 L104.98,264.32 L104.58,264.25 L104.15,264.17 L103.72,264.10 L103.29,264.03 L102.87,263.96 L102.48,263.88 L102.14,263.81 L101.85,263.74 L101.63,263.67 L101.48,263.59 L101.41,263.52 L101.43,263.45 L101.51,263.38 L101.67,263.31 L101.89,263.23 L102.16,263.16 L102.48,263.09 L102.84,263.01 L103.23,262.94 L103.63,262.87 L104.04,262.80 L104.44,262.73 L104.82,262.65 L105.19,262.58 L105.53,262.51 L105.84,262.44 L106.12,262.36 L106.37,262.29 L106.59,262.22 L106.77,262.14 L106.93,262.07 L107.06,262.00Z" fill="#E6B350" stroke="#474c58" stroke-width="1.0" stroke-linejoin="round"/>
<line x1="107.06" y1="262.75" x2="107.06" y2="264.15" stroke="#474c58" stroke-width="0.6"/>
<rect x="106.11" y="262.66" width="1.9" height="1.68" fill="#474c58"/>
<circle cx="107.06" cy="263.50" r="0.75" fill="#fff"/>
<path d="M130.68,260.60 L130.85,260.73 L131.03,260.85 L131.21,260.98 L131.41,261.10 L131.62,261.23 L131.83,261.35 L132.05,261.48 L132.27,261.60 L132.49,261.73 L132.70,261.85 L132.90,261.98 L133.10,262.10 L133.28,262.23 L133.44,262.35 L133.58,262.48 L133.71,262.60 L133.80,262.73 L133.87,262.85 L133.92,262.98 L133.93,263.10 L133.92,263.22 L133.87,263.35 L133.80,263.47 L133.71,263.60 L133.58,263.72 L133.44,263.85 L133.28,263.97 L133.10,264.10 L132.90,264.22 L132.70,264.35 L132.49,264.47 L132.27,264.60 L132.05,264.72 L131.83,264.85 L131.62,264.97 L131.41,265.10 L131.21,265.22 L131.03,265.35 L130.85,265.47 L130.68,265.60 L130.68,265.60 L130.51,265.47 L130.33,265.35 L130.15,265.22 L129.95,265.10 L129.74,264.97 L129.53,264.85 L129.31,264.72 L129.09,264.60 L128.87,264.47 L128.66,264.35 L128.46,264.22 L128.26,264.10 L128.08,263.97 L127.92,263.85 L127.78,263.72 L127.65,263.60 L127.56,263.47 L127.49,263.35 L127.44,263.22 L127.43,263.10 L127.44,262.98 L127.49,262.85 L127.56,262.73 L127.65,262.60 L127.78,262.48 L127.92,262.35 L128.08,262.23 L128.26,262.10 L128.46,261.98 L128.66,261.85 L128.87,261.73 L129.09,261.60 L129.31,261.48 L129.53,261.35 L129.74,261.23 L129.95,261.10 L130.15,260.98 L130.33,260.85 L130.51,260.73 L130.68,260.60Z" fill="#E6B350" stroke="#474c58" stroke-width="1.0" stroke-linejoin="round"/>
<line x1="130.68" y1="261.98" x2="130.68" y2="264.22" stroke="#474c58" stroke-width="0.6"/>
<rect x="129.73" y="261.76" width="1.9" height="2.69" fill="#474c58"/>
<circle cx="130.68" cy="263.10" r="0.75" fill="#fff"/>
<path d="M154.30,260.40 L154.44,260.53 L154.60,260.66 L154.77,260.79 L154.96,260.92 L155.16,261.05 L155.37,261.18 L155.60,261.31 L155.83,261.44 L156.07,261.57 L156.31,261.70 L156.55,261.83 L156.78,261.96 L157.00,262.09 L157.21,262.22 L157.40,262.35 L157.57,262.48 L157.71,262.61 L157.82,262.74 L157.90,262.87 L157.94,263.00 L157.95,263.13 L157.92,263.26 L157.85,263.39 L157.74,263.52 L157.60,263.65 L157.42,263.78 L157.22,263.91 L157.00,264.04 L156.75,264.17 L156.50,264.30 L156.24,264.43 L155.99,264.56 L155.73,264.69 L155.48,264.82 L155.24,264.95 L155.02,265.08 L154.81,265.21 L154.62,265.34 L154.45,265.47 L154.30,265.60 L154.30,265.60 L154.15,265.47 L153.98,265.34 L153.79,265.21 L153.58,265.08 L153.36,264.95 L153.12,264.82 L152.87,264.69 L152.61,264.56 L152.36,264.43 L152.10,264.30 L151.85,264.17 L151.60,264.04 L151.38,263.91 L151.18,263.78 L151.00,263.65 L150.86,263.52 L150.75,263.39 L150.68,263.26 L150.65,263.13 L150.66,263.00 L150.70,262.87 L150.78,262.74 L150.89,262.61 L151.03,262.48 L151.20,262.35 L151.39,262.22 L151.60,262.09 L151.82,261.96 L152.05,261.83 L152.29,261.70 L152.53,261.57 L152.77,261.44 L153.00,261.31 L153.23,261.18 L153.44,261.05 L153.64,260.92 L153.83,260.79 L154.00,260.66 L154.16,260.53 L154.30,260.40Z" fill="#E6B350" stroke="#474c58" stroke-width="1.0" stroke-linejoin="round"/>
<line x1="154.30" y1="261.84" x2="154.30" y2="264.16" stroke="#474c58" stroke-width="0.6"/>
<rect x="153.35" y="261.71" width="1.9" height="2.78" fill="#474c58"/>
<circle cx="154.30" cy="263.10" r="0.75" fill="#fff"/>
<path d="M24.50,256.95 V321.34 H178.20" fill="none" stroke="#4a4a4a" stroke-width="1.0"/>
<line x1="22.30" y1="309.65" x2="24.50" y2="309.65" stroke="#4a4a4a" stroke-width="0.8"/>
<text font-size="7.20" fill="#1a1a1a" text-anchor="end" transform="translate(19.90,312.05) scale(0.850,1)">85</text>
<line x1="22.30" y1="290.85" x2="24.50" y2="290.85" stroke="#4a4a4a" stroke-width="0.8"/>
<text font-size="7.20" fill="#1a1a1a" text-anchor="end" transform="translate(19.90,293.25) scale(0.850,1)">90</text>
<line x1="22.30" y1="272.05" x2="24.50" y2="272.05" stroke="#4a4a4a" stroke-width="0.8"/>
<text font-size="7.20" fill="#1a1a1a" text-anchor="end" transform="translate(19.90,274.45) scale(0.850,1)">95</text>
<line x1="36.20" y1="321.34" x2="36.20" y2="323.54" stroke="#4a4a4a" stroke-width="0.8"/>
<text font-size="7.20" fill="#1a1a1a" text-anchor="middle" transform="translate(36.20,330.00) scale(0.850,1)">20</text>
<line x1="59.82" y1="321.34" x2="59.82" y2="323.54" stroke="#4a4a4a" stroke-width="0.8"/>
<text font-size="7.20" fill="#1a1a1a" text-anchor="middle" transform="translate(59.82,330.00) scale(0.850,1)">80</text>
<line x1="83.44" y1="321.34" x2="83.44" y2="323.54" stroke="#4a4a4a" stroke-width="0.8"/>
<text font-size="7.20" fill="#1a1a1a" text-anchor="middle" transform="translate(83.44,330.00) scale(0.850,1)">140</text>
<line x1="107.06" y1="321.34" x2="107.06" y2="323.54" stroke="#4a4a4a" stroke-width="0.8"/>
<text font-size="7.20" fill="#1a1a1a" text-anchor="middle" transform="translate(107.06,330.00) scale(0.850,1)">200</text>
<line x1="130.68" y1="321.34" x2="130.68" y2="323.54" stroke="#4a4a4a" stroke-width="0.8"/>
<text font-size="7.20" fill="#1a1a1a" text-anchor="middle" transform="translate(130.68,330.00) scale(0.850,1)">400</text>
<line x1="154.30" y1="321.34" x2="154.30" y2="323.54" stroke="#4a4a4a" stroke-width="0.8"/>
<text font-size="7.20" fill="#1a1a1a" text-anchor="middle" transform="translate(154.30,330.00) scale(0.850,1)">600</text>
<text font-size="6.50" fill="#1a1a1a" text-anchor="middle" transform="translate(8.90,289.75) scale(0.830,1) rotate(-90)">Accuracy</text>
<text font-size="7.10" fill="#1a1a1a" text-anchor="middle" transform="translate(101.35,338.50) scale(0.980,1)">Sequence length (nt)</text>
<text font-size="8.30" fill="#1a1a1a" text-anchor="middle" transform="translate(262.95,9.85) scale(0.850,1)">GS_0</text>
<path d="M198.40,40.50 L222.02,36.30 L245.64,32.50 L269.26,31.90 L292.88,31.40 L316.50,30.90" fill="none" stroke="#FDE5C2" stroke-width="5.50" stroke-linejoin="round"/>
<path d="M198.40,32.60 L198.58,32.91 L198.77,33.22 L198.98,33.53 L199.21,33.84 L199.46,34.15 L199.73,34.46 L200.01,34.77 L200.29,35.08 L200.59,35.39 L200.89,35.70 L201.19,36.01 L201.48,36.32 L201.76,36.63 L202.02,36.94 L202.27,37.25 L202.48,37.56 L202.67,37.87 L202.82,38.18 L202.94,38.49 L203.01,38.80 L203.05,39.11 L203.04,39.42 L202.97,39.73 L202.85,40.04 L202.68,40.35 L202.47,40.66 L202.22,40.97 L201.93,41.28 L201.62,41.59 L201.30,41.90 L200.96,42.21 L200.62,42.52 L200.28,42.83 L199.96,43.14 L199.64,43.45 L199.35,43.76 L199.08,44.07 L198.83,44.38 L198.60,44.69 L198.40,45.00 L198.40,45.00 L198.20,44.69 L197.97,44.38 L197.72,44.07 L197.45,43.76 L197.16,43.45 L196.84,43.14 L196.52,42.83 L196.18,42.52 L195.84,42.21 L195.50,41.90 L195.18,41.59 L194.87,41.28 L194.58,40.97 L194.33,40.66 L194.12,40.35 L193.95,40.04 L193.83,39.73 L193.76,39.42 L193.75,39.11 L193.79,38.80 L193.86,38.49 L193.98,38.18 L194.13,37.87 L194.32,37.56 L194.53,37.25 L194.78,36.94 L195.04,36.63 L195.32,36.32 L195.61,36.01 L195.91,35.70 L196.21,35.39 L196.51,35.08 L196.79,34.77 L197.07,34.46 L197.34,34.15 L197.59,33.84 L197.82,33.53 L198.03,33.22 L198.22,32.91 L198.40,32.60Z" fill="#E6B350" stroke="#474c58" stroke-width="1.0" stroke-linejoin="round"/>
<line x1="198.40" y1="36.20" x2="198.40" y2="41.40" stroke="#474c58" stroke-width="0.6"/>
<rect x="197.45" y="36.20" width="1.9" height="6.00" fill="#474c58"/>
<circle cx="198.40" cy="39.20" r="0.75" fill="#fff"/>
<path d="M222.40,30.00 L222.47,30.25 L222.54,30.51 L222.61,30.77 L222.68,31.02 L222.75,31.27 L222.83,31.53 L222.90,31.79 L222.97,32.04 L223.04,32.30 L223.11,32.55 L223.18,32.80 L223.26,33.06 L223.33,33.31 L223.40,33.57 L223.47,33.83 L223.52,34.08 L223.52,34.34 L223.52,34.59 L223.52,34.84 L223.61,35.10 L224.36,35.36 L225.23,35.61 L226.20,35.87 L227.18,36.12 L228.08,36.38 L228.80,36.63 L229.25,36.89 L229.37,37.14 L229.14,37.40 L228.60,37.65 L227.81,37.91 L226.88,38.16 L225.89,38.42 L224.95,38.67 L224.11,38.93 L223.52,39.18 L223.52,39.44 L223.52,39.69 L223.52,39.95 L223.52,40.20 L220.52,40.20 L220.52,39.95 L220.52,39.69 L220.52,39.44 L220.52,39.18 L219.93,38.93 L219.09,38.67 L218.15,38.42 L217.16,38.16 L216.23,37.91 L215.44,37.65 L214.90,37.40 L214.67,37.14 L214.79,36.89 L215.24,36.63 L215.96,36.38 L216.86,36.12 L217.84,35.87 L218.81,35.61 L219.68,35.36 L220.43,35.10 L220.52,34.84 L220.52,34.59 L220.52,34.34 L220.52,34.08 L220.57,33.83 L220.64,33.57 L220.71,33.31 L220.78,33.06 L220.86,32.80 L220.93,32.55 L221.00,32.30 L221.07,32.04 L221.14,31.79 L221.21,31.53 L221.29,31.27 L221.36,31.02 L221.43,30.77 L221.50,30.51 L221.57,30.25 L221.65,30.00Z" fill="#E6B350" stroke="#474c58" stroke-width="1.0" stroke-linejoin="round"/>
<line x1="222.02" y1="32.94" x2="222.02" y2="37.26" stroke="#474c58" stroke-width="0.6"/>
<rect x="221.07" y="34.31" width="1.9" height="5.18" fill="#474c58"/>
<circle cx="222.02" cy="36.90" r="0.75" fill="#fff"/>
<path d="M245.64,29.20 L245.83,29.35 L246.06,29.50 L246.33,29.65 L246.64,29.80 L246.99,29.95 L247.38,30.10 L247.82,30.25 L248.31,30.40 L248.83,30.55 L249.38,30.70 L249.96,30.85 L250.56,31.00 L251.17,31.15 L251.77,31.30 L252.35,31.45 L252.90,31.60 L253.41,31.75 L253.86,31.90 L254.24,32.05 L254.54,32.20 L254.75,32.35 L254.87,32.50 L254.88,32.65 L254.74,32.80 L254.44,32.95 L253.99,33.10 L253.41,33.25 L252.74,33.40 L251.99,33.55 L251.21,33.70 L250.42,33.85 L249.65,34.00 L248.91,34.15 L248.23,34.30 L247.62,34.45 L247.08,34.60 L246.61,34.75 L246.22,34.90 L245.90,35.05 L245.64,35.20 L245.64,35.20 L245.38,35.05 L245.06,34.90 L244.67,34.75 L244.20,34.60 L243.66,34.45 L243.05,34.30 L242.37,34.15 L241.63,34.00 L240.86,33.85 L240.07,33.70 L239.29,33.55 L238.54,33.40 L237.87,33.25 L237.29,33.10 L236.84,32.95 L236.54,32.80 L236.40,32.65 L236.41,32.50 L236.53,32.35 L236.74,32.20 L237.04,32.05 L237.42,31.90 L237.87,31.75 L238.38,31.60 L238.93,31.45 L239.51,31.30 L240.11,31.15 L240.72,31.00 L241.32,30.85 L241.90,30.70 L242.45,30.55 L242.97,30.40 L243.46,30.25 L243.90,30.10 L244.29,29.95 L244.64,29.80 L244.95,29.65 L245.22,29.50 L245.45,29.35 L245.64,29.20Z" fill="#E6B350" stroke="#474c58" stroke-width="1.0" stroke-linejoin="round"/>
<line x1="245.64" y1="30.88" x2="245.64" y2="33.52" stroke="#474c58" stroke-width="0.6"/>
<rect x="244.69" y="30.72" width="1.9" height="3.17" fill="#474c58"/>
<circle cx="245.64" cy="32.30" r="0.75" fill="#fff"/>
<path d="M269.26,28.00 L269.47,28.20 L269.71,28.39 L270.00,28.59 L270.32,28.79 L270.68,28.99 L271.08,29.19 L271.51,29.38 L271.96,29.58 L272.42,29.78 L272.90,29.98 L273.36,30.17 L273.80,30.37 L274.21,30.57 L274.57,30.77 L274.87,30.96 L275.10,31.16 L275.24,31.36 L275.31,31.56 L275.29,31.75 L275.21,31.95 L275.08,32.15 L274.89,32.35 L274.64,32.54 L274.36,32.74 L274.03,32.94 L273.68,33.14 L273.31,33.33 L272.92,33.53 L272.52,33.73 L272.13,33.93 L271.75,34.12 L271.38,34.32 L271.02,34.52 L270.69,34.72 L270.39,34.91 L270.11,35.11 L269.85,35.31 L269.63,35.51 L269.43,35.70 L269.26,35.90 L269.26,35.90 L269.09,35.70 L268.89,35.51 L268.67,35.31 L268.41,35.11 L268.13,34.91 L267.83,34.72 L267.50,34.52 L267.14,34.32 L266.77,34.12 L266.39,33.93 L266.00,33.73 L265.60,33.53 L265.21,33.33 L264.84,33.14 L264.49,32.94 L264.16,32.74 L263.88,32.54 L263.63,32.35 L263.44,32.15 L263.31,31.95 L263.23,31.75 L263.21,31.56 L263.28,31.36 L263.42,31.16 L263.65,30.96 L263.95,30.77 L264.31,30.57 L264.72,30.37 L265.16,30.17 L265.62,29.98 L266.10,29.78 L266.56,29.58 L267.01,29.38 L267.44,29.19 L267.84,28.99 L268.20,28.79 L268.52,28.59 L268.81,28.39 L269.05,28.20 L269.26,28.00Z" fill="#E6B350" stroke="#474c58" stroke-width="1.0" stroke-linejoin="round"/>
<line x1="269.26" y1="30.25" x2="269.26" y2="33.65" stroke="#474c58" stroke-width="0.6"/>
<rect x="268.31" y="29.56" width="1.9" height="4.08" fill="#474c58"/>
<circle cx="269.26" cy="31.60" r="0.75" fill="#fff"/>
<path d="M292.88,25.70 L293.10,26.00 L293.33,26.30 L293.58,26.61 L293.85,26.91 L294.12,27.21 L294.40,27.52 L294.69,27.82 L294.97,28.12 L295.25,28.42 L295.51,28.73 L295.77,29.03 L296.00,29.33 L296.20,29.63 L296.38,29.94 L296.53,30.24 L296.63,30.54 L296.70,30.84 L296.73,31.15 L296.72,31.45 L296.68,31.75 L296.62,32.05 L296.53,32.36 L296.41,32.66 L296.27,32.96 L296.10,33.26 L295.92,33.57 L295.73,33.87 L295.51,34.17 L295.29,34.47 L295.06,34.78 L294.83,35.08 L294.59,35.38 L294.35,35.68 L294.12,35.98 L293.89,36.29 L293.67,36.59 L293.46,36.89 L293.25,37.20 L293.06,37.50 L292.88,37.80 L292.88,37.80 L292.70,37.50 L292.51,37.20 L292.30,36.89 L292.09,36.59 L291.87,36.29 L291.64,35.98 L291.41,35.68 L291.17,35.38 L290.93,35.08 L290.70,34.78 L290.47,34.47 L290.25,34.17 L290.03,33.87 L289.84,33.57 L289.66,33.26 L289.49,32.96 L289.35,32.66 L289.23,32.36 L289.14,32.05 L289.08,31.75 L289.04,31.45 L289.03,31.15 L289.06,30.84 L289.13,30.54 L289.23,30.24 L289.38,29.94 L289.56,29.63 L289.76,29.33 L289.99,29.03 L290.25,28.73 L290.51,28.42 L290.79,28.12 L291.07,27.82 L291.36,27.52 L291.64,27.21 L291.91,26.91 L292.18,26.61 L292.43,26.30 L292.66,26.00 L292.88,25.70Z" fill="#E6B350" stroke="#474c58" stroke-width="1.0" stroke-linejoin="round"/>
<line x1="292.88" y1="29.21" x2="292.88" y2="34.29" stroke="#474c58" stroke-width="0.6"/>
<rect x="291.93" y="28.20" width="1.9" height="6.00" fill="#474c58"/>
<circle cx="292.88" cy="31.20" r="0.75" fill="#fff"/>
<path d="M316.50,27.00 L316.71,27.19 L316.97,27.39 L317.28,27.58 L317.66,27.77 L318.10,27.96 L318.60,28.16 L319.16,28.35 L319.75,28.54 L320.38,28.73 L321.00,28.93 L321.61,29.12 L322.18,29.31 L322.68,29.50 L323.08,29.70 L323.37,29.89 L323.52,30.08 L323.54,30.27 L323.48,30.46 L323.35,30.66 L323.15,30.85 L322.90,31.04 L322.58,31.23 L322.23,31.43 L321.84,31.62 L321.41,31.81 L320.98,32.01 L320.53,32.20 L320.08,32.39 L319.64,32.58 L319.22,32.78 L318.82,32.97 L318.44,33.16 L318.09,33.35 L317.77,33.55 L317.48,33.74 L317.23,33.93 L317.00,34.12 L316.81,34.32 L316.64,34.51 L316.50,34.70 L316.50,34.70 L316.36,34.51 L316.19,34.32 L316.00,34.12 L315.77,33.93 L315.52,33.74 L315.23,33.55 L314.91,33.35 L314.56,33.16 L314.18,32.97 L313.78,32.78 L313.36,32.58 L312.92,32.39 L312.47,32.20 L312.02,32.01 L311.59,31.81 L311.16,31.62 L310.77,31.43 L310.42,31.23 L310.10,31.04 L309.85,30.85 L309.65,30.66 L309.52,30.46 L309.46,30.27 L309.48,30.08 L309.63,29.89 L309.92,29.70 L310.32,29.50 L310.82,29.31 L311.39,29.12 L312.00,28.93 L312.62,28.73 L313.25,28.54 L313.84,28.35 L314.40,28.16 L314.90,27.96 L315.34,27.77 L315.72,27.58 L316.03,27.39 L316.29,27.19 L316.50,27.00Z" fill="#E6B350" stroke="#474c58" stroke-width="1.0" stroke-linejoin="round"/>
<line x1="316.50" y1="29.19" x2="316.50" y2="32.51" stroke="#474c58" stroke-width="0.6"/>
<rect x="315.55" y="28.51" width="1.9" height="3.98" fill="#474c58"/>
<circle cx="316.50" cy="30.50" r="0.75" fill="#fff"/>
<path d="M186.50,13.20 V77.35 H340.20" fill="none" stroke="#4a4a4a" stroke-width="1.0"/>
<line x1="184.30" y1="65.90" x2="186.50" y2="65.90" stroke="#4a4a4a" stroke-width="0.8"/>
<line x1="184.30" y1="47.10" x2="186.50" y2="47.10" stroke="#4a4a4a" stroke-width="0.8"/>
<line x1="184.30" y1="28.30" x2="186.50" y2="28.30" stroke="#4a4a4a" stroke-width="0.8"/>
<line x1="198.40" y1="77.35" x2="198.40" y2="79.55" stroke="#4a4a4a" stroke-width="0.8"/>
<line x1="222.02" y1="77.35" x2="222.02" y2="79.55" stroke="#4a4a4a" stroke-width="0.8"/>
<line x1="245.64" y1="77.35" x2="245.64" y2="79.55" stroke="#4a4a4a" stroke-width="0.8"/>
<line x1="269.26" y1="77.35" x2="269.26" y2="79.55" stroke="#4a4a4a" stroke-width="0.8"/>
<line x1="292.88" y1="77.35" x2="292.88" y2="79.55" stroke="#4a4a4a" stroke-width="0.8"/>
<line x1="316.50" y1="77.35" x2="316.50" y2="79.55" stroke="#4a4a4a" stroke-width="0.8"/>
<text font-size="8.30" fill="#1a1a1a" text-anchor="middle" transform="translate(262.95,91.10) scale(0.850,1)">GS_1</text>
<path d="M198.40,110.70 L222.02,110.10 L245.64,108.50 L269.26,108.60 L292.88,108.70 L316.50,108.60" fill="none" stroke="#FDE5C2" stroke-width="5.50" stroke-linejoin="round"/>
<path d="M198.40,108.00 L198.57,108.15 L198.79,108.31 L199.06,108.46 L199.39,108.61 L199.78,108.76 L200.24,108.92 L200.76,109.07 L201.35,109.22 L202.00,109.37 L202.70,109.53 L203.42,109.68 L204.16,109.83 L204.89,109.98 L205.59,110.14 L206.23,110.29 L206.78,110.44 L207.22,110.59 L207.54,110.75 L207.72,110.90 L207.74,111.05 L207.63,111.20 L207.37,111.36 L206.99,111.51 L206.51,111.66 L205.93,111.81 L205.28,111.97 L204.59,112.12 L203.88,112.27 L203.16,112.42 L202.47,112.58 L201.81,112.73 L201.20,112.88 L200.64,113.03 L200.14,113.19 L199.71,113.34 L199.34,113.49 L199.03,113.64 L198.77,113.80 L198.57,113.95 L198.40,114.10 L198.40,114.10 L198.23,113.95 L198.03,113.80 L197.77,113.64 L197.46,113.49 L197.09,113.34 L196.66,113.19 L196.16,113.03 L195.60,112.88 L194.99,112.73 L194.33,112.58 L193.64,112.42 L192.92,112.27 L192.21,112.12 L191.52,111.97 L190.87,111.81 L190.29,111.66 L189.81,111.51 L189.43,111.36 L189.17,111.20 L189.06,111.05 L189.08,110.90 L189.26,110.75 L189.58,110.59 L190.02,110.44 L190.57,110.29 L191.21,110.14 L191.91,109.98 L192.64,109.83 L193.38,109.68 L194.10,109.53 L194.80,109.37 L195.45,109.22 L196.04,109.07 L196.56,108.92 L197.02,108.76 L197.41,108.61 L197.74,108.46 L198.01,108.31 L198.23,108.15 L198.40,108.00Z" fill="#E6B350" stroke="#474c58" stroke-width="1.0" stroke-linejoin="round"/>
<line x1="198.40" y1="109.71" x2="198.40" y2="112.39" stroke="#474c58" stroke-width="0.6"/>
<rect x="197.45" y="109.39" width="1.9" height="3.22" fill="#474c58"/>
<circle cx="198.40" cy="111.00" r="0.75" fill="#fff"/>
<path d="M222.02,106.20 L222.23,106.40 L222.50,106.59 L222.83,106.79 L223.22,106.99 L223.68,107.19 L224.21,107.39 L224.78,107.58 L225.40,107.78 L226.04,107.98 L226.69,108.18 L227.30,108.37 L227.86,108.57 L228.34,108.77 L228.72,108.97 L228.96,109.16 L229.07,109.36 L229.05,109.56 L228.96,109.76 L228.81,109.95 L228.59,110.15 L228.32,110.35 L228.00,110.55 L227.63,110.74 L227.24,110.94 L226.82,111.14 L226.39,111.34 L225.95,111.53 L225.51,111.73 L225.08,111.93 L224.67,112.12 L224.28,112.32 L223.91,112.52 L223.57,112.72 L223.26,112.92 L222.98,113.11 L222.73,113.31 L222.51,113.51 L222.32,113.71 L222.16,113.90 L222.02,114.10 L222.02,114.10 L221.88,113.90 L221.72,113.71 L221.53,113.51 L221.31,113.31 L221.06,113.11 L220.78,112.92 L220.47,112.72 L220.13,112.52 L219.76,112.32 L219.37,112.12 L218.96,111.93 L218.53,111.73 L218.09,111.53 L217.65,111.34 L217.22,111.14 L216.80,110.94 L216.41,110.74 L216.04,110.55 L215.72,110.35 L215.45,110.15 L215.23,109.95 L215.08,109.76 L214.99,109.56 L214.97,109.36 L215.08,109.16 L215.32,108.97 L215.70,108.77 L216.18,108.57 L216.74,108.37 L217.35,108.18 L218.00,107.98 L218.64,107.78 L219.26,107.58 L219.83,107.39 L220.36,107.19 L220.82,106.99 L221.21,106.79 L221.54,106.59 L221.81,106.40 L222.02,106.20Z" fill="#E6B350" stroke="#474c58" stroke-width="1.0" stroke-linejoin="round"/>
<line x1="222.02" y1="108.45" x2="222.02" y2="111.85" stroke="#474c58" stroke-width="0.6"/>
<rect x="221.07" y="107.56" width="1.9" height="4.08" fill="#474c58"/>
<circle cx="222.02" cy="109.60" r="0.75" fill="#fff"/>
<path d="M245.64,104.40 L245.76,104.60 L245.90,104.80 L246.08,105.01 L246.28,105.21 L246.52,105.41 L246.80,105.61 L247.11,105.82 L247.47,106.02 L247.86,106.22 L248.29,106.42 L248.75,106.63 L249.23,106.83 L249.74,107.03 L250.27,107.23 L250.79,107.44 L251.31,107.64 L251.80,107.84 L252.27,108.05 L252.69,108.25 L253.05,108.45 L253.36,108.65 L253.58,108.85 L253.73,109.06 L253.79,109.26 L253.72,109.46 L253.46,109.66 L253.02,109.87 L252.43,110.07 L251.73,110.27 L250.95,110.47 L250.15,110.68 L249.36,110.88 L248.61,111.08 L247.94,111.28 L247.34,111.49 L246.84,111.69 L246.42,111.89 L246.09,112.09 L245.83,112.30 L245.64,112.50 L245.64,112.50 L245.45,112.30 L245.19,112.09 L244.86,111.89 L244.44,111.69 L243.94,111.49 L243.34,111.28 L242.67,111.08 L241.92,110.88 L241.13,110.68 L240.33,110.47 L239.55,110.27 L238.85,110.07 L238.26,109.87 L237.82,109.66 L237.56,109.46 L237.49,109.26 L237.55,109.06 L237.70,108.85 L237.92,108.65 L238.23,108.45 L238.59,108.25 L239.01,108.05 L239.48,107.84 L239.97,107.64 L240.49,107.44 L241.01,107.23 L241.54,107.03 L242.05,106.83 L242.53,106.63 L242.99,106.42 L243.42,106.22 L243.81,106.02 L244.17,105.82 L244.48,105.61 L244.76,105.41 L245.00,105.21 L245.20,105.01 L245.38,104.80 L245.52,104.60 L245.64,104.40Z" fill="#E6B350" stroke="#474c58" stroke-width="1.0" stroke-linejoin="round"/>
<line x1="245.64" y1="106.71" x2="245.64" y2="110.19" stroke="#474c58" stroke-width="0.6"/>
<rect x="244.69" y="107.31" width="1.9" height="4.18" fill="#474c58"/>
<circle cx="245.64" cy="109.40" r="0.75" fill="#fff"/>
<path d="M269.26,105.70 L269.59,105.85 L270.08,106.00 L270.77,106.14 L271.66,106.29 L272.75,106.44 L273.99,106.59 L275.27,106.73 L276.46,106.88 L277.43,107.03 L278.04,107.18 L278.21,107.32 L278.17,107.47 L278.06,107.62 L277.89,107.77 L277.66,107.91 L277.37,108.06 L277.04,108.21 L276.66,108.36 L276.25,108.50 L275.81,108.65 L275.35,108.80 L274.88,108.95 L274.40,109.09 L273.93,109.24 L273.46,109.39 L273.00,109.54 L272.56,109.68 L272.15,109.83 L271.75,109.98 L271.39,110.12 L271.05,110.27 L270.75,110.42 L270.47,110.57 L270.22,110.72 L270.00,110.86 L269.81,111.01 L269.64,111.16 L269.49,111.31 L269.37,111.45 L269.26,111.60 L269.26,111.60 L269.15,111.45 L269.03,111.31 L268.88,111.16 L268.71,111.01 L268.52,110.86 L268.30,110.72 L268.05,110.57 L267.77,110.42 L267.47,110.27 L267.13,110.12 L266.77,109.98 L266.37,109.83 L265.96,109.68 L265.52,109.54 L265.06,109.39 L264.59,109.24 L264.12,109.09 L263.64,108.95 L263.17,108.80 L262.71,108.65 L262.27,108.50 L261.86,108.36 L261.48,108.21 L261.15,108.06 L260.86,107.91 L260.63,107.77 L260.46,107.62 L260.35,107.47 L260.31,107.32 L260.48,107.18 L261.09,107.03 L262.06,106.88 L263.25,106.73 L264.53,106.59 L265.77,106.44 L266.86,106.29 L267.75,106.14 L268.44,106.00 L268.93,105.85 L269.26,105.70Z" fill="#E6B350" stroke="#474c58" stroke-width="1.0" stroke-linejoin="round"/>
<line x1="269.26" y1="107.35" x2="269.26" y2="109.95" stroke="#474c58" stroke-width="0.6"/>
<rect x="268.31" y="106.74" width="1.9" height="3.12" fill="#474c58"/>
<circle cx="269.26" cy="108.30" r="0.75" fill="#fff"/>
<path d="M292.88,105.10 L293.15,105.34 L293.48,105.57 L293.88,105.81 L294.34,106.05 L294.85,106.29 L295.41,106.52 L296.00,106.76 L296.60,107.00 L297.19,107.24 L297.72,107.47 L298.19,107.71 L298.56,107.95 L298.81,108.19 L298.92,108.42 L298.92,108.66 L298.87,108.90 L298.77,109.14 L298.64,109.38 L298.46,109.61 L298.25,109.85 L298.01,110.09 L297.74,110.33 L297.45,110.56 L297.14,110.80 L296.82,111.04 L296.49,111.28 L296.15,111.51 L295.82,111.75 L295.49,111.99 L295.17,112.23 L294.86,112.46 L294.57,112.70 L294.29,112.94 L294.03,113.18 L293.79,113.41 L293.57,113.65 L293.37,113.89 L293.19,114.13 L293.02,114.36 L292.88,114.60 L292.88,114.60 L292.74,114.36 L292.57,114.13 L292.39,113.89 L292.19,113.65 L291.97,113.41 L291.73,113.18 L291.47,112.94 L291.19,112.70 L290.90,112.46 L290.59,112.23 L290.27,111.99 L289.94,111.75 L289.61,111.51 L289.27,111.28 L288.94,111.04 L288.62,110.80 L288.31,110.56 L288.02,110.33 L287.75,110.09 L287.51,109.85 L287.30,109.61 L287.12,109.38 L286.99,109.14 L286.89,108.90 L286.84,108.66 L286.84,108.42 L286.95,108.19 L287.20,107.95 L287.57,107.71 L288.04,107.47 L288.57,107.24 L289.16,107.00 L289.76,106.76 L290.35,106.52 L290.91,106.29 L291.42,106.05 L291.88,105.81 L292.28,105.57 L292.61,105.34 L292.88,105.10Z" fill="#E6B350" stroke="#474c58" stroke-width="1.0" stroke-linejoin="round"/>
<line x1="292.88" y1="107.83" x2="292.88" y2="111.87" stroke="#474c58" stroke-width="0.6"/>
<rect x="291.93" y="106.98" width="1.9" height="4.85" fill="#474c58"/>
<circle cx="292.88" cy="109.40" r="0.75" fill="#fff"/>
<path d="M317.75,104.10 L317.75,104.36 L317.75,104.61 L317.75,104.87 L317.75,105.13 L317.97,105.39 L318.69,105.64 L319.58,105.90 L320.60,106.16 L321.69,106.42 L322.74,106.67 L323.64,106.93 L324.27,107.19 L324.54,107.45 L324.47,107.70 L324.16,107.96 L323.63,108.22 L322.94,108.48 L322.14,108.73 L321.28,108.99 L320.42,109.25 L319.62,109.51 L318.89,109.77 L318.28,110.02 L317.77,110.28 L317.75,110.54 L317.75,110.80 L317.75,111.05 L317.75,111.31 L317.75,111.57 L317.74,111.83 L317.65,112.08 L317.56,112.34 L317.46,112.60 L317.37,112.86 L317.28,113.11 L317.18,113.37 L317.09,113.63 L317.00,113.89 L316.91,114.14 L316.81,114.40 L316.19,114.40 L316.09,114.14 L316.00,113.89 L315.91,113.63 L315.82,113.37 L315.72,113.11 L315.63,112.86 L315.54,112.60 L315.44,112.34 L315.35,112.08 L315.26,111.83 L315.25,111.57 L315.25,111.31 L315.25,111.05 L315.25,110.80 L315.25,110.54 L315.23,110.28 L314.72,110.02 L314.11,109.77 L313.38,109.51 L312.58,109.25 L311.72,108.99 L310.86,108.73 L310.06,108.48 L309.37,108.22 L308.84,107.96 L308.53,107.70 L308.46,107.45 L308.73,107.19 L309.36,106.93 L310.26,106.67 L311.31,106.42 L312.40,106.16 L313.42,105.90 L314.31,105.64 L315.03,105.39 L315.25,105.13 L315.25,104.87 L315.25,104.61 L315.25,104.36 L315.25,104.10Z" fill="#E6B350" stroke="#474c58" stroke-width="1.0" stroke-linejoin="round"/>
<line x1="316.50" y1="107.07" x2="316.50" y2="111.43" stroke="#474c58" stroke-width="0.6"/>
<rect x="315.55" y="105.38" width="1.9" height="5.23" fill="#474c58"/>
<circle cx="316.50" cy="108.00" r="0.75" fill="#fff"/>
<path d="M186.50,94.45 V158.68 H340.20" fill="none" stroke="#4a4a4a" stroke-width="1.0"/>
<line x1="184.30" y1="147.15" x2="186.50" y2="147.15" stroke="#4a4a4a" stroke-width="0.8"/>
<line x1="184.30" y1="128.35" x2="186.50" y2="128.35" stroke="#4a4a4a" stroke-width="0.8"/>
<line x1="184.30" y1="109.55" x2="186.50" y2="109.55" stroke="#4a4a4a" stroke-width="0.8"/>
<line x1="198.40" y1="158.68" x2="198.40" y2="160.88" stroke="#4a4a4a" stroke-width="0.8"/>
<line x1="222.02" y1="158.68" x2="222.02" y2="160.88" stroke="#4a4a4a" stroke-width="0.8"/>
<line x1="245.64" y1="158.68" x2="245.64" y2="160.88" stroke="#4a4a4a" stroke-width="0.8"/>
<line x1="269.26" y1="158.68" x2="269.26" y2="160.88" stroke="#4a4a4a" stroke-width="0.8"/>
<line x1="292.88" y1="158.68" x2="292.88" y2="160.88" stroke="#4a4a4a" stroke-width="0.8"/>
<line x1="316.50" y1="158.68" x2="316.50" y2="160.88" stroke="#4a4a4a" stroke-width="0.8"/>
<text font-size="8.30" fill="#1a1a1a" text-anchor="middle" transform="translate(262.95,172.35) scale(0.850,1)">GS_2</text>
<path d="M198.40,200.60 L222.02,195.20 L245.64,193.40 L269.26,191.00 L292.88,190.70 L316.50,191.10" fill="none" stroke="#FDE5C2" stroke-width="5.50" stroke-linejoin="round"/>
<path d="M198.40,196.70 L198.55,196.85 L198.74,197.01 L198.98,197.16 L199.27,197.31 L199.62,197.46 L200.03,197.62 L200.50,197.77 L201.03,197.92 L201.60,198.07 L202.22,198.23 L202.85,198.38 L203.50,198.53 L204.12,198.68 L204.70,198.84 L205.22,198.99 L205.65,199.14 L205.98,199.29 L206.18,199.44 L206.25,199.60 L206.20,199.75 L206.03,199.90 L205.77,200.06 L205.41,200.21 L204.97,200.36 L204.47,200.51 L203.93,200.66 L203.36,200.82 L202.77,200.97 L202.20,201.12 L201.64,201.27 L201.11,201.43 L200.63,201.58 L200.18,201.73 L199.79,201.88 L199.45,202.04 L199.16,202.19 L198.91,202.34 L198.70,202.49 L198.53,202.65 L198.40,202.80 L198.40,202.80 L198.27,202.65 L198.10,202.49 L197.89,202.34 L197.64,202.19 L197.35,202.04 L197.01,201.88 L196.62,201.73 L196.17,201.58 L195.69,201.43 L195.16,201.27 L194.60,201.12 L194.03,200.97 L193.44,200.82 L192.87,200.66 L192.33,200.51 L191.83,200.36 L191.39,200.21 L191.03,200.06 L190.77,199.90 L190.60,199.75 L190.55,199.60 L190.62,199.44 L190.82,199.29 L191.15,199.14 L191.58,198.99 L192.10,198.84 L192.68,198.68 L193.30,198.53 L193.95,198.38 L194.58,198.23 L195.20,198.07 L195.77,197.92 L196.30,197.77 L196.77,197.62 L197.18,197.46 L197.53,197.31 L197.82,197.16 L198.06,197.01 L198.25,196.85 L198.40,196.70Z" fill="#E6B350" stroke="#474c58" stroke-width="1.0" stroke-linejoin="round"/>
<line x1="198.40" y1="198.41" x2="198.40" y2="201.09" stroke="#474c58" stroke-width="0.6"/>
<rect x="197.45" y="198.29" width="1.9" height="3.22" fill="#474c58"/>
<circle cx="198.40" cy="199.90" r="0.75" fill="#fff"/>
<path d="M222.02,192.50 L222.26,192.65 L222.64,192.81 L223.18,192.96 L223.93,193.11 L224.88,193.26 L226.03,193.41 L227.32,193.57 L228.63,193.72 L229.85,193.87 L230.82,194.03 L231.42,194.18 L231.57,194.33 L231.51,194.48 L231.37,194.63 L231.15,194.79 L230.85,194.94 L230.49,195.09 L230.07,195.25 L229.61,195.40 L229.10,195.55 L228.57,195.70 L228.02,195.85 L227.47,196.01 L226.92,196.16 L226.38,196.31 L225.86,196.47 L225.37,196.62 L224.91,196.77 L224.48,196.92 L224.09,197.07 L223.73,197.23 L223.42,197.38 L223.14,197.53 L222.89,197.69 L222.68,197.84 L222.50,197.99 L222.34,198.14 L222.22,198.29 L222.11,198.45 L222.02,198.60 L222.02,198.60 L221.93,198.45 L221.82,198.29 L221.70,198.14 L221.54,197.99 L221.36,197.84 L221.15,197.69 L220.90,197.53 L220.62,197.38 L220.31,197.23 L219.95,197.07 L219.56,196.92 L219.13,196.77 L218.67,196.62 L218.18,196.47 L217.66,196.31 L217.12,196.16 L216.57,196.01 L216.02,195.85 L215.47,195.70 L214.94,195.55 L214.43,195.40 L213.97,195.25 L213.55,195.09 L213.19,194.94 L212.89,194.79 L212.67,194.63 L212.53,194.48 L212.47,194.33 L212.62,194.18 L213.22,194.03 L214.19,193.87 L215.41,193.72 L216.72,193.57 L218.01,193.41 L219.16,193.26 L220.11,193.11 L220.86,192.96 L221.40,192.81 L221.78,192.65 L222.02,192.50Z" fill="#E6B350" stroke="#474c58" stroke-width="1.0" stroke-linejoin="round"/>
<line x1="222.02" y1="194.21" x2="222.02" y2="196.89" stroke="#474c58" stroke-width="0.6"/>
<rect x="221.07" y="193.39" width="1.9" height="3.22" fill="#474c58"/>
<circle cx="222.02" cy="195.00" r="0.75" fill="#fff"/>
<path d="M245.64,189.30 L245.90,189.51 L246.25,189.71 L246.69,189.92 L247.24,190.12 L247.87,190.33 L248.59,190.53 L249.34,190.74 L250.10,190.94 L250.82,191.15 L251.42,191.35 L251.88,191.56 L252.14,191.76 L252.19,191.97 L252.15,192.17 L252.06,192.38 L251.93,192.58 L251.75,192.78 L251.54,192.99 L251.28,193.19 L251.00,193.40 L250.69,193.61 L250.37,193.81 L250.02,194.02 L249.67,194.22 L249.32,194.43 L248.96,194.63 L248.61,194.84 L248.27,195.04 L247.95,195.25 L247.64,195.45 L247.34,195.66 L247.07,195.86 L246.82,196.06 L246.59,196.27 L246.38,196.47 L246.19,196.68 L246.03,196.88 L245.88,197.09 L245.75,197.29 L245.64,197.50 L245.64,197.50 L245.53,197.29 L245.40,197.09 L245.25,196.88 L245.09,196.68 L244.90,196.47 L244.69,196.27 L244.46,196.06 L244.21,195.86 L243.94,195.66 L243.64,195.45 L243.33,195.25 L243.01,195.04 L242.67,194.84 L242.32,194.63 L241.96,194.43 L241.61,194.22 L241.26,194.02 L240.91,193.81 L240.59,193.61 L240.28,193.40 L240.00,193.19 L239.74,192.99 L239.53,192.78 L239.35,192.58 L239.22,192.38 L239.13,192.17 L239.09,191.97 L239.14,191.76 L239.40,191.56 L239.86,191.35 L240.46,191.15 L241.18,190.94 L241.94,190.74 L242.69,190.53 L243.41,190.33 L244.04,190.12 L244.59,189.92 L245.03,189.71 L245.38,189.51 L245.64,189.30Z" fill="#E6B350" stroke="#474c58" stroke-width="1.0" stroke-linejoin="round"/>
<line x1="245.64" y1="191.64" x2="245.64" y2="195.16" stroke="#474c58" stroke-width="0.6"/>
<rect x="244.69" y="190.39" width="1.9" height="4.22" fill="#474c58"/>
<circle cx="245.64" cy="192.50" r="0.75" fill="#fff"/>
<path d="M269.26,187.20 L269.50,187.38 L269.77,187.56 L270.07,187.73 L270.40,187.91 L270.76,188.09 L271.13,188.27 L271.52,188.44 L271.93,188.62 L272.34,188.80 L272.75,188.98 L273.14,189.15 L273.52,189.33 L273.88,189.51 L274.20,189.69 L274.47,189.86 L274.69,190.04 L274.86,190.22 L274.97,190.40 L275.01,190.57 L274.99,190.75 L274.92,190.93 L274.79,191.10 L274.61,191.28 L274.39,191.46 L274.13,191.64 L273.83,191.81 L273.50,191.99 L273.15,192.17 L272.79,192.35 L272.42,192.52 L272.04,192.70 L271.66,192.88 L271.30,193.06 L270.95,193.23 L270.61,193.41 L270.29,193.59 L270.00,193.77 L269.73,193.94 L269.48,194.12 L269.26,194.30 L269.26,194.30 L269.04,194.12 L268.79,193.94 L268.52,193.77 L268.23,193.59 L267.91,193.41 L267.57,193.23 L267.22,193.06 L266.86,192.88 L266.48,192.70 L266.10,192.52 L265.73,192.35 L265.37,192.17 L265.02,191.99 L264.69,191.81 L264.39,191.64 L264.13,191.46 L263.91,191.28 L263.73,191.10 L263.60,190.93 L263.53,190.75 L263.51,190.57 L263.55,190.40 L263.66,190.22 L263.83,190.04 L264.05,189.86 L264.32,189.69 L264.64,189.51 L265.00,189.33 L265.38,189.15 L265.77,188.98 L266.18,188.80 L266.59,188.62 L267.00,188.44 L267.39,188.27 L267.76,188.09 L268.12,187.91 L268.45,187.73 L268.75,187.56 L269.02,187.38 L269.26,187.20Z" fill="#E6B350" stroke="#474c58" stroke-width="1.0" stroke-linejoin="round"/>
<line x1="269.26" y1="189.21" x2="269.26" y2="192.29" stroke="#474c58" stroke-width="0.6"/>
<rect x="268.31" y="188.75" width="1.9" height="3.70" fill="#474c58"/>
<circle cx="269.26" cy="190.60" r="0.75" fill="#fff"/>
<path d="M292.88,187.50 L293.17,187.70 L293.51,187.90 L293.90,188.09 L294.32,188.29 L294.77,188.49 L295.25,188.69 L295.74,188.88 L296.22,189.08 L296.69,189.28 L297.11,189.47 L297.48,189.67 L297.78,189.87 L297.99,190.07 L298.11,190.26 L298.13,190.46 L298.10,190.66 L298.04,190.86 L297.95,191.05 L297.82,191.25 L297.67,191.45 L297.48,191.65 L297.28,191.84 L297.05,192.04 L296.81,192.24 L296.55,192.44 L296.28,192.63 L296.00,192.83 L295.72,193.03 L295.44,193.23 L295.15,193.42 L294.88,193.62 L294.61,193.82 L294.34,194.02 L294.09,194.21 L293.86,194.41 L293.63,194.61 L293.42,194.81 L293.23,195.00 L293.05,195.20 L292.88,195.40 L292.88,195.40 L292.71,195.20 L292.53,195.00 L292.34,194.81 L292.13,194.61 L291.90,194.41 L291.67,194.21 L291.42,194.02 L291.15,193.82 L290.88,193.62 L290.61,193.42 L290.32,193.23 L290.04,193.03 L289.76,192.83 L289.48,192.63 L289.21,192.44 L288.95,192.24 L288.71,192.04 L288.48,191.84 L288.28,191.65 L288.09,191.45 L287.94,191.25 L287.81,191.05 L287.72,190.86 L287.66,190.66 L287.63,190.46 L287.65,190.26 L287.77,190.07 L287.98,189.87 L288.28,189.67 L288.65,189.47 L289.07,189.28 L289.54,189.08 L290.02,188.88 L290.51,188.69 L290.99,188.49 L291.44,188.29 L291.86,188.09 L292.25,187.90 L292.59,187.70 L292.88,187.50Z" fill="#E6B350" stroke="#474c58" stroke-width="1.0" stroke-linejoin="round"/>
<line x1="292.88" y1="189.75" x2="292.88" y2="193.15" stroke="#474c58" stroke-width="0.6"/>
<rect x="291.93" y="188.56" width="1.9" height="4.08" fill="#474c58"/>
<circle cx="292.88" cy="190.60" r="0.75" fill="#fff"/>
<path d="M317.75,188.60 L317.75,188.82 L317.75,189.03 L317.75,189.25 L318.00,189.46 L318.96,189.68 L320.16,189.89 L321.50,190.11 L322.77,190.32 L323.73,190.54 L324.18,190.75 L324.08,190.97 L323.57,191.18 L322.74,191.40 L321.72,191.61 L320.62,191.83 L319.58,192.04 L318.66,192.25 L317.93,192.47 L317.75,192.69 L317.75,192.90 L317.75,193.12 L317.75,193.33 L317.74,193.55 L317.68,193.76 L317.63,193.97 L317.58,194.19 L317.52,194.41 L317.47,194.62 L317.41,194.84 L317.36,195.05 L317.30,195.26 L317.25,195.48 L317.19,195.69 L317.14,195.91 L317.08,196.12 L317.03,196.34 L316.98,196.55 L316.92,196.77 L316.87,196.98 L316.81,197.20 L316.19,197.20 L316.13,196.98 L316.08,196.77 L316.02,196.55 L315.97,196.34 L315.92,196.12 L315.86,195.91 L315.81,195.69 L315.75,195.48 L315.70,195.26 L315.64,195.05 L315.59,194.84 L315.53,194.62 L315.48,194.41 L315.42,194.19 L315.37,193.97 L315.32,193.76 L315.26,193.55 L315.25,193.33 L315.25,193.12 L315.25,192.90 L315.25,192.69 L315.07,192.47 L314.34,192.25 L313.42,192.04 L312.38,191.83 L311.28,191.61 L310.26,191.40 L309.43,191.18 L308.92,190.97 L308.82,190.75 L309.27,190.54 L310.23,190.32 L311.50,190.11 L312.84,189.89 L314.04,189.68 L315.00,189.46 L315.25,189.25 L315.25,189.03 L315.25,188.82 L315.25,188.60Z" fill="#E6B350" stroke="#474c58" stroke-width="1.0" stroke-linejoin="round"/>
<line x1="316.50" y1="191.06" x2="316.50" y2="194.74" stroke="#474c58" stroke-width="0.6"/>
<rect x="315.55" y="188.69" width="1.9" height="4.42" fill="#474c58"/>
<circle cx="316.50" cy="190.90" r="0.75" fill="#fff"/>
<path d="M186.50,175.70 V240.01 H340.20" fill="none" stroke="#4a4a4a" stroke-width="1.0"/>
<line x1="184.30" y1="228.40" x2="186.50" y2="228.40" stroke="#4a4a4a" stroke-width="0.8"/>
<line x1="184.30" y1="209.60" x2="186.50" y2="209.60" stroke="#4a4a4a" stroke-width="0.8"/>
<line x1="184.30" y1="190.80" x2="186.50" y2="190.80" stroke="#4a4a4a" stroke-width="0.8"/>
<line x1="198.40" y1="240.01" x2="198.40" y2="242.21" stroke="#4a4a4a" stroke-width="0.8"/>
<line x1="222.02" y1="240.01" x2="222.02" y2="242.21" stroke="#4a4a4a" stroke-width="0.8"/>
<line x1="245.64" y1="240.01" x2="245.64" y2="242.21" stroke="#4a4a4a" stroke-width="0.8"/>
<line x1="269.26" y1="240.01" x2="269.26" y2="242.21" stroke="#4a4a4a" stroke-width="0.8"/>
<line x1="292.88" y1="240.01" x2="292.88" y2="242.21" stroke="#4a4a4a" stroke-width="0.8"/>
<line x1="316.50" y1="240.01" x2="316.50" y2="242.21" stroke="#4a4a4a" stroke-width="0.8"/>
<text font-size="8.30" fill="#1a1a1a" text-anchor="middle" transform="translate(262.95,253.60) scale(0.850,1)">GS_10</text>
<path d="M198.40,269.00 L222.02,265.10 L245.64,263.10 L269.26,262.10 L292.88,261.60 L316.50,261.90" fill="none" stroke="#FDE5C2" stroke-width="5.50" stroke-linejoin="round"/>
<path d="M198.40,267.30 L198.65,267.37 L198.96,267.44 L199.34,267.52 L199.78,267.59 L200.30,267.66 L200.89,267.74 L201.54,267.81 L202.25,267.88 L203.00,267.95 L203.77,268.02 L204.54,268.10 L205.28,268.17 L205.97,268.24 L206.58,268.31 L207.08,268.39 L207.45,268.46 L207.68,268.53 L207.75,268.61 L207.69,268.68 L207.53,268.75 L207.26,268.82 L206.91,268.89 L206.47,268.97 L205.97,269.04 L205.42,269.11 L204.82,269.19 L204.20,269.26 L203.57,269.33 L202.95,269.40 L202.34,269.48 L201.76,269.55 L201.21,269.62 L200.70,269.69 L200.23,269.76 L199.81,269.84 L199.44,269.91 L199.12,269.98 L198.84,270.06 L198.60,270.13 L198.40,270.20 L198.40,270.20 L198.20,270.13 L197.96,270.06 L197.68,269.98 L197.36,269.91 L196.99,269.84 L196.57,269.76 L196.10,269.69 L195.59,269.62 L195.04,269.55 L194.46,269.48 L193.85,269.40 L193.23,269.33 L192.60,269.26 L191.98,269.19 L191.38,269.11 L190.83,269.04 L190.33,268.97 L189.89,268.89 L189.54,268.82 L189.27,268.75 L189.11,268.68 L189.05,268.61 L189.12,268.53 L189.35,268.46 L189.72,268.39 L190.22,268.31 L190.83,268.24 L191.52,268.17 L192.26,268.10 L193.03,268.02 L193.80,267.95 L194.55,267.88 L195.26,267.81 L195.91,267.74 L196.50,267.66 L197.02,267.59 L197.46,267.52 L197.84,267.44 L198.15,267.37 L198.40,267.30Z" fill="#E6B350" stroke="#474c58" stroke-width="1.0" stroke-linejoin="round"/>
<line x1="198.40" y1="268.05" x2="198.40" y2="269.45" stroke="#474c58" stroke-width="0.6"/>
<rect x="197.45" y="267.76" width="1.9" height="1.68" fill="#474c58"/>
<circle cx="198.40" cy="268.60" r="0.75" fill="#fff"/>
<path d="M222.02,263.10 L222.39,263.16 L222.78,263.23 L223.20,263.29 L223.63,263.35 L224.09,263.41 L224.55,263.48 L225.03,263.54 L225.51,263.60 L225.99,263.66 L226.46,263.73 L226.92,263.79 L227.36,263.85 L227.77,263.91 L228.15,263.98 L228.49,264.04 L228.79,264.10 L229.04,264.16 L229.23,264.23 L229.37,264.29 L229.45,264.35 L229.47,264.41 L229.42,264.47 L229.30,264.54 L229.11,264.60 L228.86,264.66 L228.55,264.72 L228.18,264.79 L227.77,264.85 L227.32,264.91 L226.85,264.97 L226.35,265.04 L225.83,265.10 L225.31,265.16 L224.79,265.22 L224.28,265.29 L223.78,265.35 L223.30,265.41 L222.85,265.47 L222.42,265.54 L222.02,265.60 L222.02,265.60 L221.62,265.54 L221.19,265.47 L220.74,265.41 L220.26,265.35 L219.76,265.29 L219.25,265.22 L218.73,265.16 L218.21,265.10 L217.69,265.04 L217.19,264.97 L216.72,264.91 L216.27,264.85 L215.86,264.79 L215.49,264.72 L215.18,264.66 L214.93,264.60 L214.74,264.54 L214.62,264.47 L214.57,264.41 L214.59,264.35 L214.67,264.29 L214.81,264.23 L215.00,264.16 L215.25,264.10 L215.55,264.04 L215.89,263.98 L216.27,263.91 L216.68,263.85 L217.12,263.79 L217.58,263.73 L218.05,263.66 L218.53,263.60 L219.01,263.54 L219.49,263.48 L219.95,263.41 L220.41,263.35 L220.84,263.29 L221.26,263.23 L221.65,263.16 L222.02,263.10Z" fill="#E6B350" stroke="#474c58" stroke-width="1.0" stroke-linejoin="round"/>
<line x1="222.02" y1="263.73" x2="222.02" y2="264.97" stroke="#474c58" stroke-width="0.6"/>
<rect x="221.07" y="263.66" width="1.9" height="1.49" fill="#474c58"/>
<circle cx="222.02" cy="264.40" r="0.75" fill="#fff"/>
<path d="M245.64,260.90 L245.81,260.99 L246.01,261.07 L246.25,261.16 L246.52,261.24 L246.84,261.33 L247.19,261.41 L247.58,261.50 L248.01,261.58 L248.47,261.67 L248.97,261.75 L249.48,261.84 L250.01,261.92 L250.55,262.01 L251.07,262.09 L251.58,262.18 L252.06,262.26 L252.50,262.35 L252.89,262.43 L253.20,262.52 L253.45,262.60 L253.61,262.69 L253.68,262.77 L253.66,262.86 L253.50,262.94 L253.20,263.03 L252.79,263.11 L252.27,263.19 L251.68,263.28 L251.04,263.37 L250.37,263.45 L249.69,263.54 L249.03,263.62 L248.41,263.71 L247.83,263.79 L247.31,263.88 L246.86,263.96 L246.47,264.05 L246.13,264.13 L245.86,264.22 L245.64,264.30 L245.64,264.30 L245.42,264.22 L245.15,264.13 L244.81,264.05 L244.42,263.96 L243.97,263.88 L243.45,263.79 L242.87,263.71 L242.25,263.62 L241.59,263.54 L240.91,263.45 L240.24,263.37 L239.60,263.28 L239.01,263.19 L238.49,263.11 L238.08,263.03 L237.78,262.94 L237.62,262.86 L237.60,262.77 L237.67,262.69 L237.83,262.60 L238.08,262.52 L238.39,262.43 L238.78,262.35 L239.22,262.26 L239.70,262.18 L240.21,262.09 L240.73,262.01 L241.27,261.92 L241.80,261.84 L242.31,261.75 L242.81,261.67 L243.27,261.58 L243.70,261.50 L244.09,261.41 L244.44,261.33 L244.76,261.24 L245.03,261.16 L245.27,261.07 L245.47,260.99 L245.64,260.90Z" fill="#E6B350" stroke="#474c58" stroke-width="1.0" stroke-linejoin="round"/>
<line x1="245.64" y1="261.80" x2="245.64" y2="263.40" stroke="#474c58" stroke-width="0.6"/>
<rect x="244.69" y="261.84" width="1.9" height="1.92" fill="#474c58"/>
<circle cx="245.64" cy="262.80" r="0.75" fill="#fff"/>
<path d="M269.26,260.90 L269.50,260.99 L269.80,261.07 L270.17,261.16 L270.62,261.24 L271.15,261.33 L271.75,261.41 L272.40,261.50 L273.10,261.58 L273.81,261.67 L274.51,261.75 L275.16,261.84 L275.72,261.92 L276.17,262.01 L276.47,262.09 L276.60,262.18 L276.59,262.26 L276.51,262.35 L276.37,262.43 L276.17,262.52 L275.91,262.60 L275.60,262.69 L275.24,262.77 L274.86,262.86 L274.45,262.94 L274.02,263.03 L273.58,263.11 L273.14,263.19 L272.70,263.28 L272.27,263.37 L271.87,263.45 L271.48,263.54 L271.12,263.62 L270.79,263.71 L270.49,263.79 L270.21,263.88 L269.97,263.96 L269.75,264.05 L269.56,264.13 L269.40,264.22 L269.26,264.30 L269.26,264.30 L269.12,264.22 L268.96,264.13 L268.77,264.05 L268.55,263.96 L268.31,263.88 L268.03,263.79 L267.73,263.71 L267.40,263.62 L267.04,263.54 L266.65,263.45 L266.25,263.37 L265.82,263.28 L265.38,263.19 L264.94,263.11 L264.50,263.03 L264.07,262.94 L263.66,262.86 L263.28,262.77 L262.92,262.69 L262.61,262.60 L262.35,262.52 L262.15,262.43 L262.01,262.35 L261.93,262.26 L261.92,262.18 L262.05,262.09 L262.35,262.01 L262.80,261.92 L263.36,261.84 L264.01,261.75 L264.71,261.67 L265.42,261.58 L266.12,261.50 L266.77,261.41 L267.37,261.33 L267.90,261.24 L268.35,261.16 L268.72,261.07 L269.02,260.99 L269.26,260.90Z" fill="#E6B350" stroke="#474c58" stroke-width="1.0" stroke-linejoin="round"/>
<line x1="269.26" y1="261.80" x2="269.26" y2="263.40" stroke="#474c58" stroke-width="0.6"/>
<rect x="268.31" y="261.24" width="1.9" height="1.92" fill="#474c58"/>
<circle cx="269.26" cy="262.20" r="0.75" fill="#fff"/>
<path d="M292.88,259.60 L293.07,259.71 L293.30,259.81 L293.59,259.92 L293.93,260.02 L294.32,260.12 L294.77,260.23 L295.27,260.34 L295.81,260.44 L296.37,260.55 L296.95,260.65 L297.52,260.75 L298.05,260.86 L298.53,260.97 L298.94,261.07 L299.25,261.18 L299.45,261.28 L299.53,261.38 L299.50,261.49 L299.41,261.60 L299.25,261.70 L299.02,261.81 L298.75,261.91 L298.42,262.02 L298.05,262.12 L297.65,262.23 L297.24,262.33 L296.81,262.44 L296.37,262.54 L295.95,262.65 L295.54,262.75 L295.14,262.86 L294.77,262.96 L294.43,263.06 L294.12,263.17 L293.84,263.28 L293.59,263.38 L293.37,263.49 L293.18,263.59 L293.02,263.69 L292.88,263.80 L292.88,263.80 L292.74,263.69 L292.58,263.59 L292.39,263.49 L292.17,263.38 L291.92,263.28 L291.64,263.17 L291.33,263.06 L290.99,262.96 L290.62,262.86 L290.22,262.75 L289.81,262.65 L289.39,262.54 L288.95,262.44 L288.52,262.33 L288.11,262.23 L287.71,262.12 L287.34,262.02 L287.01,261.91 L286.74,261.81 L286.51,261.70 L286.35,261.60 L286.26,261.49 L286.23,261.38 L286.31,261.28 L286.51,261.18 L286.82,261.07 L287.23,260.97 L287.71,260.86 L288.24,260.75 L288.81,260.65 L289.39,260.55 L289.95,260.44 L290.49,260.34 L290.99,260.23 L291.44,260.12 L291.83,260.02 L292.17,259.92 L292.46,259.81 L292.69,259.71 L292.88,259.60Z" fill="#E6B350" stroke="#474c58" stroke-width="1.0" stroke-linejoin="round"/>
<line x1="292.88" y1="260.74" x2="292.88" y2="262.66" stroke="#474c58" stroke-width="0.6"/>
<rect x="291.93" y="260.25" width="1.9" height="2.30" fill="#474c58"/>
<circle cx="292.88" cy="261.40" r="0.75" fill="#fff"/>
<path d="M316.50,260.90 L316.86,260.95 L317.25,261.01 L317.67,261.06 L318.10,261.11 L318.55,261.16 L319.01,261.22 L319.49,261.27 L319.96,261.32 L320.44,261.37 L320.91,261.43 L321.37,261.48 L321.80,261.53 L322.22,261.58 L322.60,261.64 L322.94,261.69 L323.24,261.74 L323.49,261.79 L323.69,261.85 L323.84,261.90 L323.92,261.95 L323.95,262.00 L323.91,262.06 L323.80,262.11 L323.62,262.16 L323.37,262.21 L323.06,262.26 L322.70,262.32 L322.29,262.37 L321.85,262.42 L321.37,262.48 L320.86,262.53 L320.34,262.58 L319.82,262.63 L319.30,262.69 L318.78,262.74 L318.28,262.79 L317.79,262.84 L317.33,262.89 L316.90,262.95 L316.50,263.00 L316.50,263.00 L316.10,262.95 L315.67,262.89 L315.21,262.84 L314.72,262.79 L314.22,262.74 L313.70,262.69 L313.18,262.63 L312.66,262.58 L312.14,262.53 L311.63,262.48 L311.15,262.42 L310.71,262.37 L310.30,262.32 L309.94,262.26 L309.63,262.21 L309.38,262.16 L309.20,262.11 L309.09,262.06 L309.05,262.00 L309.08,261.95 L309.16,261.90 L309.31,261.85 L309.51,261.79 L309.76,261.74 L310.06,261.69 L310.40,261.64 L310.78,261.58 L311.20,261.53 L311.63,261.48 L312.09,261.43 L312.56,261.37 L313.04,261.32 L313.51,261.27 L313.99,261.22 L314.45,261.16 L314.90,261.11 L315.33,261.06 L315.75,261.01 L316.14,260.95 L316.50,260.90Z" fill="#E6B350" stroke="#474c58" stroke-width="1.0" stroke-linejoin="round"/>
<line x1="316.50" y1="261.41" x2="316.50" y2="262.49" stroke="#474c58" stroke-width="0.6"/>
<rect x="315.55" y="261.35" width="1.9" height="1.30" fill="#474c58"/>
<circle cx="316.50" cy="262.00" r="0.75" fill="#fff"/>
<path d="M186.50,256.95 V321.34 H340.20" fill="none" stroke="#4a4a4a" stroke-width="1.0"/>
<line x1="184.30" y1="309.65" x2="186.50" y2="309.65" stroke="#4a4a4a" stroke-width="0.8"/>
<line x1="184.30" y1="290.85" x2="186.50" y2="290.85" stroke="#4a4a4a" stroke-width="0.8"/>
<line x1="184.30" y1="272.05" x2="186.50" y2="272.05" stroke="#4a4a4a" stroke-width="0.8"/>
<line x1="198.40" y1="321.34" x2="198.40" y2="323.54" stroke="#4a4a4a" stroke-width="0.8"/>
<text font-size="7.20" fill="#1a1a1a" text-anchor="middle" transform="translate(198.40,330.00) scale(0.850,1)">20</text>
<line x1="222.02" y1="321.34" x2="222.02" y2="323.54" stroke="#4a4a4a" stroke-width="0.8"/>
<text font-size="7.20" fill="#1a1a1a" text-anchor="middle" transform="translate(222.02,330.00) scale(0.850,1)">80</text>
<line x1="245.64" y1="321.34" x2="245.64" y2="323.54" stroke="#4a4a4a" stroke-width="0.8"/>
<text font-size="7.20" fill="#1a1a1a" text-anchor="middle" transform="translate(245.64,330.00) scale(0.850,1)">140</text>
<line x1="269.26" y1="321.34" x2="269.26" y2="323.54" stroke="#4a4a4a" stroke-width="0.8"/>
<text font-size="7.20" fill="#1a1a1a" text-anchor="middle" transform="translate(269.26,330.00) scale(0.850,1)">200</text>
<line x1="292.88" y1="321.34" x2="292.88" y2="323.54" stroke="#4a4a4a" stroke-width="0.8"/>
<text font-size="7.20" fill="#1a1a1a" text-anchor="middle" transform="translate(292.88,330.00) scale(0.850,1)">400</text>
<line x1="316.50" y1="321.34" x2="316.50" y2="323.54" stroke="#4a4a4a" stroke-width="0.8"/>
<text font-size="7.20" fill="#1a1a1a" text-anchor="middle" transform="translate(316.50,330.00) scale(0.850,1)">600</text>
<text font-size="7.10" fill="#1a1a1a" text-anchor="middle" transform="translate(263.35,338.50) scale(0.980,1)">Sequence length (nt)</text>
<rect x="189.40" y="307.4" width="44.4" height="11.1" rx="1.2" fill="#fff" fill-opacity="0.8" stroke="#d0d0d0" stroke-width="0.8"/>
<ellipse cx="198.00" cy="312.6" rx="1.95" ry="2.1" fill="#fff" stroke="#2a2a2a" stroke-width="0.95"/>
<text font-size="6.30" fill="#1a1a1a" text-anchor="start" transform="translate(208.80,314.70) scale(1.055,1)">Median</text>
<text font-size="8.30" fill="#1a1a1a" text-anchor="middle" transform="translate(445.55,9.85) scale(0.850,1)">AS_0</text>
<path d="M380.70,69.50 L404.32,47.60 L427.94,42.20 L451.56,38.70 L475.18,38.60 L498.80,39.00" fill="none" stroke="#C0D2DC" stroke-width="5.50" stroke-linejoin="round"/>
<path d="M380.70,61.20 L380.79,61.61 L380.94,62.01 L381.12,62.42 L381.34,62.82 L381.59,63.23 L381.87,63.63 L382.17,64.03 L382.50,64.44 L382.86,64.84 L383.25,65.25 L383.67,65.66 L384.12,66.06 L384.62,66.47 L385.15,66.87 L385.74,67.28 L386.39,67.68 L387.13,68.09 L388.01,68.49 L389.20,68.90 L388.62,69.30 L387.67,69.70 L386.91,70.11 L386.24,70.52 L385.65,70.92 L385.11,71.33 L384.62,71.73 L384.16,72.14 L383.73,72.54 L383.34,72.95 L382.97,73.35 L382.63,73.76 L382.31,74.16 L382.01,74.57 L381.74,74.97 L381.50,75.38 L381.28,75.78 L381.08,76.19 L380.91,76.59 L380.78,77.00 L380.70,77.40 L380.70,77.40 L380.62,77.00 L380.49,76.59 L380.32,76.19 L380.12,75.78 L379.90,75.38 L379.66,74.97 L379.39,74.57 L379.09,74.16 L378.77,73.76 L378.43,73.35 L378.06,72.95 L377.67,72.54 L377.24,72.14 L376.78,71.73 L376.29,71.33 L375.75,70.92 L375.16,70.52 L374.49,70.11 L373.73,69.70 L372.78,69.30 L372.20,68.90 L373.39,68.49 L374.27,68.09 L375.01,67.68 L375.66,67.28 L376.25,66.87 L376.78,66.47 L377.28,66.06 L377.73,65.66 L378.15,65.25 L378.54,64.84 L378.90,64.44 L379.23,64.03 L379.53,63.63 L379.81,63.23 L380.06,62.82 L380.28,62.42 L380.46,62.01 L380.61,61.61 L380.70,61.20Z" fill="#3D6A86" stroke="#1c1c1c" stroke-width="1.0" stroke-linejoin="round"/>
<line x1="380.70" y1="66.02" x2="380.70" y2="72.58" stroke="#2a2a2a" stroke-width="0.6"/>
<rect x="379.75" y="66.00" width="1.9" height="6.00" fill="#2a2a2a"/>
<circle cx="380.70" cy="69.00" r="0.75" fill="#fff"/>
<path d="M404.32,40.50 L404.43,40.85 L404.61,41.21 L404.85,41.56 L405.12,41.92 L405.43,42.27 L405.78,42.63 L406.16,42.98 L406.59,43.34 L407.05,43.70 L407.55,44.05 L408.10,44.41 L408.70,44.76 L409.36,45.11 L410.10,45.47 L410.95,45.82 L411.96,46.18 L413.39,46.53 L412.67,46.89 L411.75,47.24 L411.00,47.60 L410.35,47.95 L409.76,48.31 L409.22,48.66 L408.73,49.02 L408.27,49.38 L407.84,49.73 L407.44,50.08 L407.06,50.44 L406.71,50.80 L406.38,51.15 L406.08,51.50 L405.79,51.86 L405.52,52.21 L405.28,52.57 L405.05,52.92 L404.85,53.28 L404.67,53.63 L404.52,53.99 L404.39,54.34 L404.32,54.70 L404.32,54.70 L404.25,54.34 L404.12,53.99 L403.97,53.63 L403.79,53.28 L403.59,52.92 L403.36,52.57 L403.12,52.21 L402.85,51.86 L402.56,51.50 L402.26,51.15 L401.93,50.80 L401.58,50.44 L401.20,50.08 L400.80,49.73 L400.37,49.38 L399.91,49.02 L399.42,48.66 L398.88,48.31 L398.29,47.95 L397.64,47.60 L396.89,47.24 L395.97,46.89 L395.25,46.53 L396.68,46.18 L397.69,45.82 L398.54,45.47 L399.28,45.11 L399.94,44.76 L400.54,44.41 L401.09,44.05 L401.59,43.70 L402.05,43.34 L402.48,42.98 L402.86,42.63 L403.21,42.27 L403.52,41.92 L403.79,41.56 L404.03,41.21 L404.21,40.85 L404.32,40.50Z" fill="#3D6A86" stroke="#1c1c1c" stroke-width="1.0" stroke-linejoin="round"/>
<line x1="404.32" y1="44.72" x2="404.32" y2="50.48" stroke="#2a2a2a" stroke-width="0.6"/>
<rect x="403.37" y="44.10" width="1.9" height="6.00" fill="#2a2a2a"/>
<circle cx="404.32" cy="47.10" r="0.75" fill="#fff"/>
<path d="M427.94,34.10 L428.11,34.48 L428.35,34.87 L428.63,35.25 L428.94,35.63 L429.27,36.01 L429.63,36.40 L430.01,36.78 L430.41,37.16 L430.83,37.54 L431.28,37.92 L431.75,38.31 L432.25,38.69 L432.78,39.07 L433.34,39.45 L433.96,39.84 L434.64,40.22 L435.44,40.60 L435.57,40.98 L434.91,41.37 L434.34,41.75 L433.83,42.13 L433.36,42.52 L432.91,42.90 L432.49,43.28 L432.09,43.66 L431.70,44.05 L431.33,44.43 L430.98,44.81 L430.64,45.19 L430.32,45.58 L430.01,45.96 L429.71,46.34 L429.43,46.72 L429.16,47.11 L428.90,47.49 L428.67,47.87 L428.44,48.25 L428.24,48.63 L428.07,49.02 L427.94,49.40 L427.94,49.40 L427.81,49.02 L427.64,48.63 L427.44,48.25 L427.21,47.87 L426.98,47.49 L426.72,47.11 L426.45,46.72 L426.17,46.34 L425.87,45.96 L425.56,45.58 L425.24,45.19 L424.90,44.81 L424.55,44.43 L424.18,44.05 L423.79,43.66 L423.39,43.28 L422.97,42.90 L422.52,42.52 L422.05,42.13 L421.54,41.75 L420.97,41.37 L420.31,40.98 L420.44,40.60 L421.24,40.22 L421.92,39.84 L422.54,39.45 L423.10,39.07 L423.63,38.69 L424.13,38.31 L424.60,37.92 L425.05,37.54 L425.47,37.16 L425.87,36.78 L426.25,36.40 L426.61,36.01 L426.94,35.63 L427.25,35.25 L427.53,34.87 L427.77,34.48 L427.94,34.10Z" fill="#3D6A86" stroke="#1c1c1c" stroke-width="1.0" stroke-linejoin="round"/>
<line x1="427.94" y1="38.65" x2="427.94" y2="44.85" stroke="#2a2a2a" stroke-width="0.6"/>
<rect x="426.99" y="37.80" width="1.9" height="6.00" fill="#2a2a2a"/>
<circle cx="427.94" cy="40.80" r="0.75" fill="#fff"/>
<path d="M451.56,32.40 L452.09,32.76 L452.58,33.11 L453.04,33.47 L453.49,33.83 L453.94,34.19 L454.37,34.55 L454.80,34.90 L455.21,35.26 L455.63,35.62 L456.04,35.97 L456.44,36.33 L456.83,36.69 L457.22,37.05 L457.60,37.41 L457.98,37.76 L458.35,38.12 L458.70,38.48 L459.04,38.84 L459.36,39.19 L459.09,39.55 L458.78,39.91 L458.46,40.26 L458.13,40.62 L457.80,40.98 L457.45,41.34 L457.10,41.69 L456.75,42.05 L456.39,42.41 L456.02,42.77 L455.66,43.12 L455.28,43.48 L454.90,43.84 L454.52,44.20 L454.13,44.55 L453.73,44.91 L453.33,45.27 L452.91,45.63 L452.49,45.98 L452.05,46.34 L451.56,46.70 L451.56,46.70 L451.07,46.34 L450.63,45.98 L450.21,45.63 L449.79,45.27 L449.39,44.91 L448.99,44.55 L448.60,44.20 L448.22,43.84 L447.84,43.48 L447.46,43.12 L447.10,42.77 L446.73,42.41 L446.37,42.05 L446.02,41.69 L445.67,41.34 L445.32,40.98 L444.99,40.62 L444.66,40.26 L444.34,39.91 L444.03,39.55 L443.76,39.19 L444.08,38.84 L444.42,38.48 L444.77,38.12 L445.14,37.76 L445.52,37.41 L445.90,37.05 L446.29,36.69 L446.68,36.33 L447.08,35.97 L447.49,35.62 L447.91,35.26 L448.32,34.90 L448.75,34.55 L449.18,34.19 L449.63,33.83 L450.08,33.47 L450.54,33.11 L451.03,32.76 L451.56,32.40Z" fill="#3D6A86" stroke="#1c1c1c" stroke-width="1.0" stroke-linejoin="round"/>
<line x1="451.56" y1="36.65" x2="451.56" y2="42.45" stroke="#2a2a2a" stroke-width="0.6"/>
<rect x="450.61" y="36.20" width="1.9" height="6.00" fill="#2a2a2a"/>
<circle cx="451.56" cy="39.20" r="0.75" fill="#fff"/>
<path d="M475.18,28.70 L475.61,29.17 L476.01,29.65 L476.38,30.12 L476.75,30.59 L477.11,31.06 L477.46,31.54 L477.81,32.01 L478.15,32.48 L478.48,32.95 L478.82,33.43 L479.14,33.90 L479.47,34.37 L479.78,34.84 L480.10,35.32 L480.40,35.79 L480.70,36.26 L481.00,36.73 L481.29,37.20 L481.56,37.68 L481.76,38.15 L481.51,38.62 L481.23,39.09 L480.95,39.57 L480.65,40.04 L480.36,40.51 L480.05,40.98 L479.74,41.46 L479.43,41.93 L479.11,42.40 L478.78,42.88 L478.45,43.35 L478.12,43.82 L477.78,44.29 L477.44,44.77 L477.09,45.24 L476.73,45.71 L476.37,46.18 L476.00,46.66 L475.61,47.13 L475.18,47.60 L475.18,47.60 L474.75,47.13 L474.36,46.66 L473.99,46.18 L473.63,45.71 L473.27,45.24 L472.92,44.77 L472.58,44.29 L472.24,43.82 L471.91,43.35 L471.58,42.88 L471.25,42.40 L470.93,41.93 L470.62,41.46 L470.31,40.98 L470.00,40.51 L469.71,40.04 L469.41,39.57 L469.13,39.09 L468.85,38.62 L468.60,38.15 L468.80,37.68 L469.07,37.20 L469.36,36.73 L469.66,36.26 L469.96,35.79 L470.26,35.32 L470.58,34.84 L470.89,34.37 L471.22,33.90 L471.54,33.43 L471.88,32.95 L472.21,32.48 L472.55,32.01 L472.90,31.54 L473.25,31.06 L473.61,30.59 L473.98,30.12 L474.35,29.65 L474.75,29.17 L475.18,28.70Z" fill="#3D6A86" stroke="#1c1c1c" stroke-width="1.0" stroke-linejoin="round"/>
<line x1="475.18" y1="34.33" x2="475.18" y2="41.97" stroke="#2a2a2a" stroke-width="0.6"/>
<rect x="474.23" y="34.90" width="1.9" height="6.00" fill="#2a2a2a"/>
<circle cx="475.18" cy="37.90" r="0.75" fill="#fff"/>
<path d="M498.80,29.80 L499.82,30.32 L500.37,30.84 L500.82,31.37 L501.21,31.89 L501.55,32.41 L501.86,32.94 L502.14,33.46 L502.39,33.98 L502.62,34.50 L502.83,35.02 L503.02,35.55 L503.19,36.07 L503.35,36.59 L503.48,37.11 L503.60,37.64 L503.69,38.16 L503.76,38.68 L503.80,39.20 L503.77,39.73 L503.72,40.25 L503.65,40.77 L503.57,41.30 L503.47,41.82 L503.36,42.34 L503.23,42.86 L503.10,43.38 L502.95,43.91 L502.79,44.43 L502.62,44.95 L502.43,45.47 L502.23,46.00 L502.01,46.52 L501.77,47.04 L501.52,47.56 L501.24,48.09 L500.93,48.61 L500.59,49.13 L500.19,49.66 L499.69,50.18 L498.80,50.70 L498.80,50.70 L497.91,50.18 L497.41,49.66 L497.01,49.13 L496.67,48.61 L496.36,48.09 L496.08,47.56 L495.83,47.04 L495.59,46.52 L495.37,46.00 L495.17,45.47 L494.98,44.95 L494.81,44.43 L494.65,43.91 L494.50,43.38 L494.37,42.86 L494.24,42.34 L494.13,41.82 L494.03,41.30 L493.95,40.77 L493.88,40.25 L493.83,39.73 L493.80,39.20 L493.84,38.68 L493.91,38.16 L494.00,37.64 L494.12,37.11 L494.25,36.59 L494.41,36.07 L494.58,35.55 L494.77,35.02 L494.98,34.50 L495.21,33.98 L495.46,33.46 L495.74,32.94 L496.05,32.41 L496.39,31.89 L496.78,31.37 L497.23,30.84 L497.78,30.32 L498.80,29.80Z" fill="#3D6A86" stroke="#1c1c1c" stroke-width="1.0" stroke-linejoin="round"/>
<line x1="498.80" y1="36.03" x2="498.80" y2="44.47" stroke="#2a2a2a" stroke-width="0.6"/>
<rect x="497.85" y="36.70" width="1.9" height="6.00" fill="#2a2a2a"/>
<circle cx="498.80" cy="39.70" r="0.75" fill="#fff"/>
<path d="M369.10,13.20 V77.35 H522.80" fill="none" stroke="#4a4a4a" stroke-width="1.0"/>
<line x1="366.90" y1="65.90" x2="369.10" y2="65.90" stroke="#4a4a4a" stroke-width="0.8"/>
<text font-size="7.20" fill="#1a1a1a" text-anchor="end" transform="translate(364.10,68.30) scale(0.850,1)">85</text>
<line x1="366.90" y1="47.10" x2="369.10" y2="47.10" stroke="#4a4a4a" stroke-width="0.8"/>
<text font-size="7.20" fill="#1a1a1a" text-anchor="end" transform="translate(364.10,49.50) scale(0.850,1)">90</text>
<line x1="366.90" y1="28.30" x2="369.10" y2="28.30" stroke="#4a4a4a" stroke-width="0.8"/>
<text font-size="7.20" fill="#1a1a1a" text-anchor="end" transform="translate(364.10,30.70) scale(0.850,1)">95</text>
<line x1="380.70" y1="77.35" x2="380.70" y2="79.55" stroke="#4a4a4a" stroke-width="0.8"/>
<line x1="404.32" y1="77.35" x2="404.32" y2="79.55" stroke="#4a4a4a" stroke-width="0.8"/>
<line x1="427.94" y1="77.35" x2="427.94" y2="79.55" stroke="#4a4a4a" stroke-width="0.8"/>
<line x1="451.56" y1="77.35" x2="451.56" y2="79.55" stroke="#4a4a4a" stroke-width="0.8"/>
<line x1="475.18" y1="77.35" x2="475.18" y2="79.55" stroke="#4a4a4a" stroke-width="0.8"/>
<line x1="498.80" y1="77.35" x2="498.80" y2="79.55" stroke="#4a4a4a" stroke-width="0.8"/>
<text font-size="6.50" fill="#1a1a1a" text-anchor="middle" transform="translate(352.70,45.88) scale(0.830,1) rotate(-90)">Accuracy</text>
<text font-size="8.30" fill="#1a1a1a" text-anchor="middle" transform="translate(445.55,91.10) scale(0.850,1)">AS_1</text>
<path d="M380.70,127.80 L404.32,120.00 L427.94,118.90 L451.56,118.40 L475.18,118.70 L498.80,120.80" fill="none" stroke="#C0D2DC" stroke-width="5.50" stroke-linejoin="round"/>
<path d="M380.70,122.80 L380.86,123.08 L381.09,123.36 L381.35,123.65 L381.63,123.93 L381.94,124.21 L382.27,124.49 L382.62,124.78 L382.99,125.06 L383.37,125.34 L383.78,125.62 L384.20,125.91 L384.64,126.19 L385.10,126.47 L385.58,126.75 L386.09,127.04 L386.62,127.32 L387.18,127.60 L387.79,127.88 L388.44,128.17 L389.17,128.45 L390.07,128.73 L390.25,129.01 L389.99,129.30 L389.67,129.58 L389.33,129.86 L388.95,130.14 L388.56,130.43 L388.14,130.71 L387.70,130.99 L387.23,131.28 L386.75,131.56 L386.24,131.84 L385.71,132.12 L385.16,132.41 L384.58,132.69 L383.96,132.97 L383.30,133.25 L382.59,133.53 L381.79,133.82 L380.70,134.10 L380.70,134.10 L379.61,133.82 L378.81,133.53 L378.10,133.25 L377.44,132.97 L376.82,132.69 L376.24,132.41 L375.69,132.12 L375.16,131.84 L374.65,131.56 L374.17,131.28 L373.70,130.99 L373.26,130.71 L372.84,130.43 L372.45,130.14 L372.07,129.86 L371.73,129.58 L371.41,129.30 L371.15,129.01 L371.33,128.73 L372.23,128.45 L372.96,128.17 L373.61,127.88 L374.22,127.60 L374.78,127.32 L375.31,127.04 L375.82,126.75 L376.30,126.47 L376.76,126.19 L377.20,125.91 L377.62,125.62 L378.03,125.34 L378.41,125.06 L378.78,124.78 L379.13,124.49 L379.46,124.21 L379.77,123.93 L380.05,123.65 L380.31,123.36 L380.54,123.08 L380.70,122.80Z" fill="#3D6A86" stroke="#1c1c1c" stroke-width="1.0" stroke-linejoin="round"/>
<line x1="380.70" y1="126.15" x2="380.70" y2="130.75" stroke="#2a2a2a" stroke-width="0.6"/>
<rect x="379.75" y="125.34" width="1.9" height="5.52" fill="#2a2a2a"/>
<circle cx="380.70" cy="128.10" r="0.75" fill="#fff"/>
<path d="M404.32,113.30 L404.47,113.66 L404.71,114.02 L405.00,114.37 L405.33,114.73 L405.69,115.09 L406.09,115.44 L406.53,115.80 L407.00,116.16 L407.50,116.52 L408.04,116.88 L408.62,117.23 L409.25,117.59 L409.94,117.95 L410.70,118.31 L411.56,118.66 L412.58,119.02 L413.45,119.38 L412.47,119.73 L411.72,120.09 L411.08,120.45 L410.49,120.81 L409.95,121.17 L409.45,121.52 L408.97,121.88 L408.53,122.24 L408.11,122.59 L407.71,122.95 L407.33,123.31 L406.97,123.67 L406.63,124.03 L406.31,124.38 L406.00,124.74 L405.72,125.10 L405.45,125.46 L405.20,125.81 L404.97,126.17 L404.76,126.53 L404.57,126.89 L404.42,127.24 L404.32,127.60 L404.32,127.60 L404.22,127.24 L404.07,126.89 L403.88,126.53 L403.67,126.17 L403.44,125.81 L403.19,125.46 L402.92,125.10 L402.64,124.74 L402.33,124.38 L402.01,124.03 L401.67,123.67 L401.31,123.31 L400.93,122.95 L400.53,122.59 L400.11,122.24 L399.67,121.88 L399.19,121.52 L398.69,121.17 L398.15,120.81 L397.56,120.45 L396.92,120.09 L396.17,119.73 L395.19,119.38 L396.06,119.02 L397.08,118.66 L397.94,118.31 L398.70,117.95 L399.39,117.59 L400.02,117.23 L400.60,116.88 L401.14,116.52 L401.64,116.16 L402.11,115.80 L402.55,115.44 L402.95,115.09 L403.31,114.73 L403.64,114.37 L403.93,114.02 L404.17,113.66 L404.32,113.30Z" fill="#3D6A86" stroke="#1c1c1c" stroke-width="1.0" stroke-linejoin="round"/>
<line x1="404.32" y1="117.55" x2="404.32" y2="123.35" stroke="#2a2a2a" stroke-width="0.6"/>
<rect x="403.37" y="117.00" width="1.9" height="6.00" fill="#2a2a2a"/>
<circle cx="404.32" cy="120.00" r="0.75" fill="#fff"/>
<path d="M427.94,112.40 L429.82,112.71 L430.78,113.02 L431.53,113.34 L432.17,113.65 L432.72,113.96 L433.21,114.27 L433.65,114.59 L434.04,114.90 L434.39,115.21 L434.70,115.52 L434.98,115.84 L435.22,116.15 L435.43,116.46 L435.60,116.77 L435.73,117.09 L435.82,117.40 L435.76,117.71 L435.49,118.02 L435.21,118.34 L434.92,118.65 L434.62,118.96 L434.31,119.28 L434.00,119.59 L433.69,119.90 L433.36,120.21 L433.04,120.53 L432.71,120.84 L432.38,121.15 L432.04,121.46 L431.70,121.78 L431.36,122.09 L431.01,122.40 L430.65,122.71 L430.29,123.03 L429.93,123.34 L429.56,123.65 L429.18,123.96 L428.79,124.28 L428.39,124.59 L427.94,124.90 L427.94,124.90 L427.49,124.59 L427.09,124.28 L426.70,123.96 L426.32,123.65 L425.95,123.34 L425.59,123.03 L425.23,122.71 L424.87,122.40 L424.52,122.09 L424.18,121.78 L423.84,121.46 L423.50,121.15 L423.17,120.84 L422.84,120.53 L422.52,120.21 L422.19,119.90 L421.88,119.59 L421.57,119.28 L421.26,118.96 L420.96,118.65 L420.67,118.34 L420.39,118.02 L420.12,117.71 L420.06,117.40 L420.15,117.09 L420.28,116.77 L420.45,116.46 L420.66,116.15 L420.90,115.84 L421.18,115.52 L421.49,115.21 L421.84,114.90 L422.23,114.59 L422.67,114.27 L423.16,113.96 L423.71,113.65 L424.35,113.34 L425.10,113.02 L426.06,112.71 L427.94,112.40Z" fill="#3D6A86" stroke="#1c1c1c" stroke-width="1.0" stroke-linejoin="round"/>
<line x1="427.94" y1="116.11" x2="427.94" y2="121.19" stroke="#2a2a2a" stroke-width="0.6"/>
<rect x="426.99" y="115.60" width="1.9" height="6.00" fill="#2a2a2a"/>
<circle cx="427.94" cy="118.60" r="0.75" fill="#fff"/>
<path d="M451.56,112.90 L452.41,113.21 L453.18,113.52 L453.92,113.84 L454.63,114.15 L455.33,114.46 L456.01,114.77 L456.68,115.09 L457.33,115.40 L457.97,115.71 L458.59,116.02 L459.19,116.34 L459.77,116.65 L460.31,116.96 L460.15,117.27 L459.89,117.59 L459.61,117.90 L459.33,118.21 L459.04,118.52 L458.74,118.84 L458.44,119.15 L458.14,119.46 L457.83,119.78 L457.52,120.09 L457.21,120.40 L456.89,120.71 L456.57,121.03 L456.24,121.34 L455.91,121.65 L455.58,121.96 L455.25,122.28 L454.91,122.59 L454.56,122.90 L454.22,123.21 L453.86,123.53 L453.51,123.84 L453.14,124.15 L452.77,124.46 L452.39,124.78 L452.00,125.09 L451.56,125.40 L451.56,125.40 L451.12,125.09 L450.73,124.78 L450.35,124.46 L449.98,124.15 L449.61,123.84 L449.26,123.53 L448.90,123.21 L448.56,122.90 L448.21,122.59 L447.87,122.28 L447.54,121.96 L447.21,121.65 L446.88,121.34 L446.55,121.03 L446.23,120.71 L445.91,120.40 L445.60,120.09 L445.29,119.78 L444.98,119.46 L444.68,119.15 L444.38,118.84 L444.08,118.52 L443.79,118.21 L443.51,117.90 L443.23,117.59 L442.97,117.27 L442.81,116.96 L443.35,116.65 L443.93,116.34 L444.53,116.02 L445.15,115.71 L445.79,115.40 L446.44,115.09 L447.11,114.77 L447.79,114.46 L448.49,114.15 L449.20,113.84 L449.94,113.52 L450.71,113.21 L451.56,112.90Z" fill="#3D6A86" stroke="#1c1c1c" stroke-width="1.0" stroke-linejoin="round"/>
<line x1="451.56" y1="116.61" x2="451.56" y2="121.69" stroke="#2a2a2a" stroke-width="0.6"/>
<rect x="450.61" y="115.30" width="1.9" height="6.00" fill="#2a2a2a"/>
<circle cx="451.56" cy="118.30" r="0.75" fill="#fff"/>
<path d="M475.18,108.60 L475.69,109.14 L476.15,109.68 L476.59,110.22 L477.02,110.76 L477.44,111.30 L477.85,111.84 L478.25,112.38 L478.65,112.92 L479.04,113.46 L479.42,114.00 L479.80,114.54 L480.17,115.08 L480.53,115.62 L480.88,116.16 L481.22,116.70 L481.54,117.24 L481.58,117.78 L481.36,118.32 L481.13,118.86 L480.89,119.40 L480.64,119.94 L480.39,120.48 L480.14,121.02 L479.88,121.56 L479.62,122.10 L479.35,122.64 L479.08,123.18 L478.81,123.72 L478.53,124.26 L478.26,124.80 L477.97,125.34 L477.69,125.88 L477.40,126.42 L477.11,126.96 L476.81,127.50 L476.50,128.04 L476.19,128.58 L475.88,129.12 L475.55,129.66 L475.18,130.20 L475.18,130.20 L474.81,129.66 L474.48,129.12 L474.17,128.58 L473.86,128.04 L473.55,127.50 L473.25,126.96 L472.96,126.42 L472.67,125.88 L472.39,125.34 L472.10,124.80 L471.83,124.26 L471.55,123.72 L471.28,123.18 L471.01,122.64 L470.74,122.10 L470.48,121.56 L470.22,121.02 L469.97,120.48 L469.72,119.94 L469.47,119.40 L469.23,118.86 L469.00,118.32 L468.78,117.78 L468.82,117.24 L469.14,116.70 L469.48,116.16 L469.83,115.62 L470.19,115.08 L470.56,114.54 L470.94,114.00 L471.32,113.46 L471.71,112.92 L472.11,112.38 L472.51,111.84 L472.92,111.30 L473.34,110.76 L473.77,110.22 L474.21,109.68 L474.67,109.14 L475.18,108.60Z" fill="#3D6A86" stroke="#1c1c1c" stroke-width="1.0" stroke-linejoin="round"/>
<line x1="475.18" y1="115.04" x2="475.18" y2="123.76" stroke="#2a2a2a" stroke-width="0.6"/>
<rect x="474.23" y="115.30" width="1.9" height="6.00" fill="#2a2a2a"/>
<circle cx="475.18" cy="118.30" r="0.75" fill="#fff"/>
<path d="M498.80,113.40 L500.15,113.77 L500.89,114.14 L501.49,114.52 L502.00,114.89 L502.46,115.26 L502.87,115.63 L503.25,116.01 L503.59,116.38 L503.91,116.75 L504.20,117.12 L504.47,117.50 L504.71,117.87 L504.93,118.24 L505.13,118.61 L505.31,118.99 L505.47,119.36 L505.60,119.73 L505.71,120.11 L505.78,120.48 L505.79,120.85 L505.73,121.22 L505.63,121.59 L505.52,121.97 L505.37,122.34 L505.21,122.71 L505.03,123.09 L504.82,123.46 L504.60,123.83 L504.35,124.20 L504.09,124.58 L503.80,124.95 L503.49,125.32 L503.15,125.69 L502.78,126.07 L502.38,126.44 L501.93,126.81 L501.42,127.18 L500.84,127.56 L500.11,127.93 L498.80,128.30 L498.80,128.30 L497.49,127.93 L496.76,127.56 L496.18,127.18 L495.67,126.81 L495.22,126.44 L494.82,126.07 L494.45,125.69 L494.11,125.32 L493.80,124.95 L493.51,124.58 L493.25,124.20 L493.00,123.83 L492.78,123.46 L492.57,123.09 L492.39,122.71 L492.23,122.34 L492.08,121.97 L491.97,121.59 L491.87,121.22 L491.81,120.85 L491.82,120.48 L491.89,120.11 L492.00,119.73 L492.13,119.36 L492.29,118.99 L492.47,118.61 L492.67,118.24 L492.89,117.87 L493.13,117.50 L493.40,117.12 L493.69,116.75 L494.01,116.38 L494.35,116.01 L494.73,115.63 L495.14,115.26 L495.60,114.89 L496.11,114.52 L496.71,114.14 L497.45,113.77 L498.80,113.40Z" fill="#3D6A86" stroke="#1c1c1c" stroke-width="1.0" stroke-linejoin="round"/>
<line x1="498.80" y1="117.83" x2="498.80" y2="123.87" stroke="#2a2a2a" stroke-width="0.6"/>
<rect x="497.85" y="117.70" width="1.9" height="6.00" fill="#2a2a2a"/>
<circle cx="498.80" cy="120.70" r="0.75" fill="#fff"/>
<path d="M369.10,94.45 V158.68 H522.80" fill="none" stroke="#4a4a4a" stroke-width="1.0"/>
<line x1="366.90" y1="147.15" x2="369.10" y2="147.15" stroke="#4a4a4a" stroke-width="0.8"/>
<text font-size="7.20" fill="#1a1a1a" text-anchor="end" transform="translate(364.10,149.55) scale(0.850,1)">85</text>
<line x1="366.90" y1="128.35" x2="369.10" y2="128.35" stroke="#4a4a4a" stroke-width="0.8"/>
<text font-size="7.20" fill="#1a1a1a" text-anchor="end" transform="translate(364.10,130.75) scale(0.850,1)">90</text>
<line x1="366.90" y1="109.55" x2="369.10" y2="109.55" stroke="#4a4a4a" stroke-width="0.8"/>
<text font-size="7.20" fill="#1a1a1a" text-anchor="end" transform="translate(364.10,111.95) scale(0.850,1)">95</text>
<line x1="380.70" y1="158.68" x2="380.70" y2="160.88" stroke="#4a4a4a" stroke-width="0.8"/>
<line x1="404.32" y1="158.68" x2="404.32" y2="160.88" stroke="#4a4a4a" stroke-width="0.8"/>
<line x1="427.94" y1="158.68" x2="427.94" y2="160.88" stroke="#4a4a4a" stroke-width="0.8"/>
<line x1="451.56" y1="158.68" x2="451.56" y2="160.88" stroke="#4a4a4a" stroke-width="0.8"/>
<line x1="475.18" y1="158.68" x2="475.18" y2="160.88" stroke="#4a4a4a" stroke-width="0.8"/>
<line x1="498.80" y1="158.68" x2="498.80" y2="160.88" stroke="#4a4a4a" stroke-width="0.8"/>
<text font-size="6.50" fill="#1a1a1a" text-anchor="middle" transform="translate(352.70,127.16) scale(0.830,1) rotate(-90)">Accuracy</text>
<text font-size="8.30" fill="#1a1a1a" text-anchor="middle" transform="translate(445.55,172.35) scale(0.850,1)">AS_2</text>
<path d="M380.70,226.20 L404.32,202.50 L427.94,197.60 L451.56,196.00 L475.18,196.10 L498.80,196.00" fill="none" stroke="#C0D2DC" stroke-width="5.50" stroke-linejoin="round"/>
<path d="M380.70,221.10 L381.33,221.34 L381.76,221.57 L382.15,221.81 L382.49,222.04 L382.81,222.28 L383.11,222.51 L383.40,222.75 L383.66,222.98 L383.92,223.22 L384.16,223.45 L384.38,223.69 L384.60,223.92 L384.79,224.16 L384.98,224.39 L385.15,224.62 L385.30,224.86 L385.43,225.09 L385.50,225.33 L385.42,225.56 L385.32,225.80 L385.20,226.03 L385.07,226.27 L384.93,226.50 L384.78,226.74 L384.62,226.97 L384.45,227.21 L384.27,227.44 L384.08,227.68 L383.89,227.91 L383.68,228.15 L383.47,228.38 L383.25,228.62 L383.01,228.85 L382.77,229.09 L382.51,229.32 L382.23,229.56 L381.93,229.79 L381.60,230.03 L381.23,230.26 L380.70,230.50 L380.70,230.50 L380.17,230.26 L379.80,230.03 L379.47,229.79 L379.17,229.56 L378.89,229.32 L378.63,229.09 L378.39,228.85 L378.15,228.62 L377.93,228.38 L377.72,228.15 L377.51,227.91 L377.32,227.68 L377.13,227.44 L376.95,227.21 L376.78,226.97 L376.62,226.74 L376.47,226.50 L376.33,226.27 L376.20,226.03 L376.08,225.80 L375.98,225.56 L375.90,225.33 L375.97,225.09 L376.10,224.86 L376.25,224.62 L376.42,224.39 L376.61,224.16 L376.80,223.92 L377.02,223.69 L377.24,223.45 L377.48,223.22 L377.74,222.98 L378.00,222.75 L378.29,222.51 L378.59,222.28 L378.91,222.04 L379.25,221.81 L379.64,221.57 L380.07,221.34 L380.70,221.10Z" fill="#3D6A86" stroke="#1c1c1c" stroke-width="1.0" stroke-linejoin="round"/>
<line x1="380.70" y1="223.88" x2="380.70" y2="227.72" stroke="#2a2a2a" stroke-width="0.6"/>
<rect x="379.75" y="223.00" width="1.9" height="4.61" fill="#2a2a2a"/>
<circle cx="380.70" cy="225.30" r="0.75" fill="#fff"/>
<path d="M404.32,195.70 L404.40,196.07 L404.50,196.44 L404.63,196.80 L404.76,197.17 L404.91,197.54 L405.07,197.91 L405.23,198.27 L405.41,198.64 L405.59,199.01 L405.78,199.38 L405.99,199.74 L406.20,200.11 L406.42,200.48 L406.65,200.84 L406.90,201.21 L407.16,201.58 L407.44,201.95 L407.75,202.31 L408.09,202.68 L408.52,203.05 L408.19,203.42 L407.83,203.78 L407.51,204.15 L407.22,204.52 L406.95,204.89 L406.70,205.25 L406.46,205.62 L406.23,205.99 L406.02,206.36 L405.81,206.72 L405.62,207.09 L405.43,207.46 L405.25,207.83 L405.08,208.19 L404.92,208.56 L404.77,208.93 L404.63,209.30 L404.51,209.66 L404.40,210.03 L404.32,210.40 L404.32,210.40 L404.24,210.03 L404.13,209.66 L404.01,209.30 L403.87,208.93 L403.72,208.56 L403.56,208.19 L403.39,207.83 L403.21,207.46 L403.02,207.09 L402.83,206.72 L402.62,206.36 L402.41,205.99 L402.18,205.62 L401.94,205.25 L401.69,204.89 L401.42,204.52 L401.13,204.15 L400.81,203.78 L400.45,203.42 L400.12,203.05 L400.55,202.68 L400.89,202.31 L401.20,201.95 L401.48,201.58 L401.74,201.21 L401.99,200.84 L402.22,200.48 L402.44,200.11 L402.65,199.74 L402.86,199.38 L403.05,199.01 L403.23,198.64 L403.41,198.27 L403.57,197.91 L403.73,197.54 L403.88,197.17 L404.01,196.80 L404.14,196.44 L404.24,196.07 L404.32,195.70Z" fill="#3D6A86" stroke="#1c1c1c" stroke-width="1.0" stroke-linejoin="round"/>
<line x1="404.32" y1="200.07" x2="404.32" y2="206.03" stroke="#2a2a2a" stroke-width="0.6"/>
<rect x="403.37" y="200.10" width="1.9" height="6.00" fill="#2a2a2a"/>
<circle cx="404.32" cy="203.10" r="0.75" fill="#fff"/>
<path d="M427.94,194.10 L428.56,194.28 L428.99,194.47 L429.36,194.65 L429.71,194.83 L430.03,195.01 L430.33,195.19 L430.61,195.38 L430.88,195.56 L431.13,195.74 L431.38,195.93 L431.61,196.11 L431.83,196.29 L432.04,196.47 L432.24,196.66 L432.42,196.84 L432.60,197.02 L432.76,197.20 L432.90,197.38 L433.03,197.57 L433.12,197.75 L433.08,197.93 L432.97,198.12 L432.83,198.30 L432.67,198.48 L432.50,198.66 L432.31,198.84 L432.11,199.03 L431.90,199.21 L431.68,199.39 L431.44,199.57 L431.20,199.76 L430.94,199.94 L430.66,200.12 L430.37,200.31 L430.07,200.49 L429.74,200.67 L429.39,200.85 L429.01,201.03 L428.57,201.22 L427.94,201.40 L427.94,201.40 L427.31,201.22 L426.87,201.03 L426.49,200.85 L426.14,200.67 L425.81,200.49 L425.51,200.31 L425.22,200.12 L424.94,199.94 L424.68,199.76 L424.44,199.57 L424.20,199.39 L423.98,199.21 L423.77,199.03 L423.57,198.84 L423.38,198.66 L423.21,198.48 L423.05,198.30 L422.91,198.12 L422.80,197.93 L422.76,197.75 L422.85,197.57 L422.98,197.38 L423.12,197.20 L423.28,197.02 L423.46,196.84 L423.64,196.66 L423.84,196.47 L424.05,196.29 L424.27,196.11 L424.50,195.93 L424.75,195.74 L425.00,195.56 L425.27,195.38 L425.55,195.19 L425.85,195.01 L426.17,194.83 L426.52,194.65 L426.89,194.47 L427.32,194.28 L427.94,194.10Z" fill="#3D6A86" stroke="#1c1c1c" stroke-width="1.0" stroke-linejoin="round"/>
<line x1="427.94" y1="196.25" x2="427.94" y2="199.25" stroke="#2a2a2a" stroke-width="0.6"/>
<rect x="426.99" y="196.00" width="1.9" height="3.60" fill="#2a2a2a"/>
<circle cx="427.94" cy="197.80" r="0.75" fill="#fff"/>
<path d="M451.56,189.60 L451.71,189.93 L451.90,190.25 L452.11,190.58 L452.34,190.91 L452.58,191.24 L452.83,191.56 L453.09,191.89 L453.37,192.22 L453.65,192.55 L453.95,192.88 L454.26,193.20 L454.59,193.53 L454.94,193.86 L455.30,194.19 L455.71,194.51 L456.10,194.84 L455.77,195.17 L455.49,195.50 L455.24,195.82 L454.99,196.15 L454.76,196.48 L454.54,196.81 L454.33,197.13 L454.12,197.46 L453.91,197.79 L453.72,198.12 L453.53,198.44 L453.34,198.77 L453.16,199.10 L452.98,199.43 L452.81,199.75 L452.65,200.08 L452.48,200.41 L452.33,200.74 L452.18,201.06 L452.03,201.39 L451.90,201.72 L451.77,202.05 L451.65,202.37 L451.56,202.70 L451.56,202.70 L451.47,202.37 L451.35,202.05 L451.22,201.72 L451.09,201.39 L450.94,201.06 L450.79,200.74 L450.64,200.41 L450.47,200.08 L450.31,199.75 L450.14,199.43 L449.96,199.10 L449.78,198.77 L449.59,198.44 L449.40,198.12 L449.21,197.79 L449.00,197.46 L448.79,197.13 L448.58,196.81 L448.36,196.48 L448.13,196.15 L447.88,195.82 L447.63,195.50 L447.35,195.17 L447.02,194.84 L447.41,194.51 L447.82,194.19 L448.18,193.86 L448.53,193.53 L448.86,193.20 L449.17,192.88 L449.47,192.55 L449.75,192.22 L450.03,191.89 L450.29,191.56 L450.54,191.24 L450.78,190.91 L451.01,190.58 L451.22,190.25 L451.41,189.93 L451.56,189.60Z" fill="#3D6A86" stroke="#1c1c1c" stroke-width="1.0" stroke-linejoin="round"/>
<line x1="451.56" y1="193.49" x2="451.56" y2="198.81" stroke="#2a2a2a" stroke-width="0.6"/>
<rect x="450.61" y="192.40" width="1.9" height="6.00" fill="#2a2a2a"/>
<circle cx="451.56" cy="195.40" r="0.75" fill="#fff"/>
<path d="M475.18,192.80 L475.32,192.93 L475.50,193.07 L475.70,193.20 L475.91,193.34 L476.13,193.47 L476.36,193.61 L476.60,193.74 L476.85,193.88 L477.10,194.01 L477.36,194.15 L477.63,194.28 L477.90,194.42 L478.18,194.56 L478.46,194.69 L478.76,194.82 L479.05,194.96 L479.36,195.09 L479.67,195.23 L479.98,195.37 L480.31,195.50 L480.64,195.63 L480.98,195.77 L481.32,195.91 L481.68,196.04 L482.05,196.18 L482.43,196.31 L482.82,196.44 L483.23,196.58 L483.66,196.72 L484.13,196.85 L484.69,196.99 L484.02,197.12 L483.07,197.26 L482.07,197.39 L481.03,197.53 L479.96,197.66 L478.86,197.80 L477.71,197.93 L476.51,198.07 L475.18,198.20 L475.18,198.20 L473.85,198.07 L472.65,197.93 L471.50,197.80 L470.40,197.66 L469.33,197.53 L468.29,197.39 L467.29,197.26 L466.34,197.12 L465.67,196.99 L466.23,196.85 L466.70,196.72 L467.13,196.58 L467.54,196.44 L467.93,196.31 L468.31,196.18 L468.68,196.04 L469.04,195.91 L469.38,195.77 L469.72,195.63 L470.05,195.50 L470.38,195.37 L470.69,195.23 L471.00,195.09 L471.31,194.96 L471.60,194.82 L471.90,194.69 L472.18,194.56 L472.46,194.42 L472.73,194.28 L473.00,194.15 L473.26,194.01 L473.51,193.88 L473.76,193.74 L474.00,193.61 L474.23,193.47 L474.45,193.34 L474.66,193.20 L474.86,193.07 L475.04,192.93 L475.18,192.80Z" fill="#3D6A86" stroke="#1c1c1c" stroke-width="1.0" stroke-linejoin="round"/>
<line x1="475.18" y1="194.38" x2="475.18" y2="196.62" stroke="#2a2a2a" stroke-width="0.6"/>
<rect x="474.23" y="195.06" width="1.9" height="2.69" fill="#2a2a2a"/>
<circle cx="475.18" cy="196.40" r="0.75" fill="#fff"/>
<path d="M498.80,190.20 L499.07,190.46 L499.32,190.72 L499.56,190.98 L499.79,191.24 L500.02,191.50 L500.24,191.76 L500.46,192.02 L500.68,192.28 L500.89,192.54 L501.11,192.80 L501.32,193.06 L501.52,193.32 L501.73,193.58 L501.93,193.84 L502.14,194.10 L502.34,194.36 L502.53,194.62 L502.73,194.88 L502.92,195.14 L503.11,195.40 L503.30,195.66 L503.49,195.92 L503.68,196.18 L503.86,196.44 L504.03,196.70 L504.21,196.96 L504.38,197.22 L504.54,197.48 L504.55,197.74 L504.38,198.00 L504.14,198.26 L503.85,198.52 L503.51,198.78 L503.12,199.04 L502.68,199.30 L502.18,199.56 L501.61,199.82 L500.96,200.08 L500.15,200.34 L498.80,200.60 L498.80,200.60 L497.45,200.34 L496.64,200.08 L495.99,199.82 L495.42,199.56 L494.92,199.30 L494.48,199.04 L494.09,198.78 L493.75,198.52 L493.46,198.26 L493.22,198.00 L493.05,197.74 L493.06,197.48 L493.22,197.22 L493.39,196.96 L493.57,196.70 L493.74,196.44 L493.92,196.18 L494.11,195.92 L494.30,195.66 L494.49,195.40 L494.68,195.14 L494.87,194.88 L495.07,194.62 L495.26,194.36 L495.46,194.10 L495.67,193.84 L495.87,193.58 L496.08,193.32 L496.28,193.06 L496.49,192.80 L496.71,192.54 L496.92,192.28 L497.14,192.02 L497.36,191.76 L497.58,191.50 L497.81,191.24 L498.04,190.98 L498.28,190.72 L498.53,190.46 L498.80,190.20Z" fill="#3D6A86" stroke="#1c1c1c" stroke-width="1.0" stroke-linejoin="round"/>
<line x1="498.80" y1="193.28" x2="498.80" y2="197.52" stroke="#2a2a2a" stroke-width="0.6"/>
<rect x="497.85" y="194.36" width="1.9" height="5.09" fill="#2a2a2a"/>
<circle cx="498.80" cy="196.90" r="0.75" fill="#fff"/>
<path d="M369.10,175.70 V240.01 H522.80" fill="none" stroke="#4a4a4a" stroke-width="1.0"/>
<line x1="366.90" y1="228.40" x2="369.10" y2="228.40" stroke="#4a4a4a" stroke-width="0.8"/>
<text font-size="7.20" fill="#1a1a1a" text-anchor="end" transform="translate(364.10,230.80) scale(0.850,1)">85</text>
<line x1="366.90" y1="209.60" x2="369.10" y2="209.60" stroke="#4a4a4a" stroke-width="0.8"/>
<text font-size="7.20" fill="#1a1a1a" text-anchor="end" transform="translate(364.10,212.00) scale(0.850,1)">90</text>
<line x1="366.90" y1="190.80" x2="369.10" y2="190.80" stroke="#4a4a4a" stroke-width="0.8"/>
<text font-size="7.20" fill="#1a1a1a" text-anchor="end" transform="translate(364.10,193.20) scale(0.850,1)">95</text>
<line x1="380.70" y1="240.01" x2="380.70" y2="242.21" stroke="#4a4a4a" stroke-width="0.8"/>
<line x1="404.32" y1="240.01" x2="404.32" y2="242.21" stroke="#4a4a4a" stroke-width="0.8"/>
<line x1="427.94" y1="240.01" x2="427.94" y2="242.21" stroke="#4a4a4a" stroke-width="0.8"/>
<line x1="451.56" y1="240.01" x2="451.56" y2="242.21" stroke="#4a4a4a" stroke-width="0.8"/>
<line x1="475.18" y1="240.01" x2="475.18" y2="242.21" stroke="#4a4a4a" stroke-width="0.8"/>
<line x1="498.80" y1="240.01" x2="498.80" y2="242.21" stroke="#4a4a4a" stroke-width="0.8"/>
<text font-size="6.50" fill="#1a1a1a" text-anchor="middle" transform="translate(352.70,208.45) scale(0.830,1) rotate(-90)">Accuracy</text>
<text font-size="8.30" fill="#1a1a1a" text-anchor="middle" transform="translate(445.55,253.60) scale(0.850,1)">AS_10</text>
<path d="M380.70,278.90 L404.32,267.10 L427.94,265.50 L451.56,264.10 L475.18,264.00 L498.80,264.00" fill="none" stroke="#C0D2DC" stroke-width="5.50" stroke-linejoin="round"/>
<path d="M380.70,277.10 L381.07,277.17 L381.50,277.24 L381.94,277.31 L382.40,277.38 L382.88,277.45 L383.37,277.52 L383.87,277.59 L384.38,277.66 L384.90,277.73 L385.43,277.80 L385.97,277.87 L386.52,277.94 L387.08,278.01 L387.65,278.08 L388.24,278.15 L388.85,278.22 L389.48,278.29 L390.16,278.36 L390.30,278.43 L389.70,278.50 L389.14,278.57 L388.61,278.64 L388.08,278.71 L387.58,278.78 L387.08,278.85 L386.59,278.92 L386.11,278.99 L385.64,279.06 L385.18,279.13 L384.72,279.20 L384.27,279.27 L383.83,279.34 L383.40,279.41 L382.98,279.48 L382.56,279.55 L382.16,279.62 L381.76,279.69 L381.38,279.76 L381.02,279.83 L380.70,279.90 L380.70,279.90 L380.38,279.83 L380.02,279.76 L379.64,279.69 L379.24,279.62 L378.84,279.55 L378.42,279.48 L378.00,279.41 L377.57,279.34 L377.13,279.27 L376.68,279.20 L376.22,279.13 L375.76,279.06 L375.29,278.99 L374.81,278.92 L374.32,278.85 L373.82,278.78 L373.32,278.71 L372.79,278.64 L372.26,278.57 L371.70,278.50 L371.10,278.43 L371.24,278.36 L371.92,278.29 L372.55,278.22 L373.16,278.15 L373.75,278.08 L374.32,278.01 L374.88,277.94 L375.43,277.87 L375.97,277.80 L376.50,277.73 L377.02,277.66 L377.53,277.59 L378.03,277.52 L378.52,277.45 L379.00,277.38 L379.46,277.31 L379.90,277.24 L380.33,277.17 L380.70,277.10Z" fill="#3D6A86" stroke="#1c1c1c" stroke-width="1.0" stroke-linejoin="round"/>
<line x1="380.70" y1="277.90" x2="380.70" y2="279.10" stroke="#2a2a2a" stroke-width="0.6"/>
<rect x="379.75" y="277.68" width="1.9" height="1.44" fill="#2a2a2a"/>
<circle cx="380.70" cy="278.40" r="0.75" fill="#fff"/>
<path d="M404.32,265.80 L404.61,265.88 L404.94,265.97 L405.28,266.06 L405.64,266.14 L406.00,266.23 L406.38,266.31 L406.77,266.39 L407.16,266.48 L407.56,266.56 L407.96,266.65 L408.38,266.74 L408.80,266.82 L409.23,266.91 L409.67,266.99 L410.11,267.07 L410.57,267.16 L411.04,267.25 L411.53,267.33 L412.04,267.42 L412.62,267.50 L412.04,267.58 L411.53,267.67 L411.04,267.75 L410.57,267.84 L410.11,267.93 L409.67,268.01 L409.23,268.09 L408.80,268.18 L408.38,268.26 L407.96,268.35 L407.56,268.44 L407.16,268.52 L406.77,268.61 L406.38,268.69 L406.00,268.77 L405.64,268.86 L405.28,268.94 L404.94,269.03 L404.61,269.12 L404.32,269.20 L404.32,269.20 L404.03,269.12 L403.70,269.03 L403.36,268.94 L403.00,268.86 L402.64,268.77 L402.26,268.69 L401.87,268.61 L401.48,268.52 L401.08,268.44 L400.68,268.35 L400.26,268.26 L399.84,268.18 L399.41,268.09 L398.97,268.01 L398.53,267.93 L398.07,267.84 L397.60,267.75 L397.11,267.67 L396.60,267.58 L396.02,267.50 L396.60,267.42 L397.11,267.33 L397.60,267.25 L398.07,267.16 L398.53,267.07 L398.97,266.99 L399.41,266.91 L399.84,266.82 L400.26,266.74 L400.68,266.65 L401.08,266.56 L401.48,266.48 L401.87,266.39 L402.26,266.31 L402.64,266.23 L403.00,266.14 L403.36,266.06 L403.70,265.97 L404.03,265.88 L404.32,265.80Z" fill="#3D6A86" stroke="#1c1c1c" stroke-width="1.0" stroke-linejoin="round"/>
<line x1="404.32" y1="266.78" x2="404.32" y2="268.22" stroke="#2a2a2a" stroke-width="0.6"/>
<rect x="403.37" y="266.64" width="1.9" height="1.73" fill="#2a2a2a"/>
<circle cx="404.32" cy="267.50" r="0.75" fill="#fff"/>
<path d="M427.94,263.00 L428.19,263.09 L428.48,263.18 L428.78,263.27 L429.10,263.36 L429.42,263.45 L429.75,263.54 L430.09,263.63 L430.43,263.72 L430.78,263.81 L431.14,263.90 L431.50,263.99 L431.87,264.08 L432.24,264.17 L432.62,264.26 L433.01,264.35 L433.40,264.44 L433.80,264.53 L434.21,264.62 L434.63,264.71 L435.06,264.80 L435.52,264.89 L436.01,264.98 L435.63,265.07 L435.06,265.16 L434.52,265.25 L434.00,265.34 L433.50,265.43 L433.01,265.52 L432.52,265.61 L432.05,265.70 L431.59,265.79 L431.14,265.88 L430.69,265.97 L430.26,266.06 L429.84,266.15 L429.42,266.24 L429.02,266.33 L428.63,266.42 L428.26,266.51 L427.94,266.60 L427.94,266.60 L427.62,266.51 L427.25,266.42 L426.86,266.33 L426.46,266.24 L426.04,266.15 L425.62,266.06 L425.19,265.97 L424.74,265.88 L424.29,265.79 L423.83,265.70 L423.36,265.61 L422.87,265.52 L422.38,265.43 L421.88,265.34 L421.36,265.25 L420.82,265.16 L420.25,265.07 L419.87,264.98 L420.36,264.89 L420.82,264.80 L421.25,264.71 L421.67,264.62 L422.08,264.53 L422.48,264.44 L422.87,264.35 L423.26,264.26 L423.64,264.17 L424.01,264.08 L424.38,263.99 L424.74,263.90 L425.10,263.81 L425.45,263.72 L425.79,263.63 L426.13,263.54 L426.46,263.45 L426.78,263.36 L427.10,263.27 L427.40,263.18 L427.69,263.09 L427.94,263.00Z" fill="#3D6A86" stroke="#1c1c1c" stroke-width="1.0" stroke-linejoin="round"/>
<line x1="427.94" y1="264.04" x2="427.94" y2="265.56" stroke="#2a2a2a" stroke-width="0.6"/>
<rect x="426.99" y="264.09" width="1.9" height="1.82" fill="#2a2a2a"/>
<circle cx="427.94" cy="265.00" r="0.75" fill="#fff"/>
<path d="M451.56,262.30 L451.86,262.40 L452.19,262.50 L452.54,262.60 L452.91,262.70 L453.29,262.80 L453.67,262.90 L454.06,263.00 L454.47,263.10 L454.88,263.20 L455.29,263.30 L455.72,263.40 L456.15,263.50 L456.59,263.60 L457.04,263.70 L457.49,263.80 L457.96,263.90 L458.44,264.00 L458.94,264.10 L459.47,264.20 L460.06,264.30 L459.47,264.40 L458.94,264.50 L458.44,264.60 L457.96,264.70 L457.49,264.80 L457.04,264.90 L456.59,265.00 L456.15,265.10 L455.72,265.20 L455.29,265.30 L454.88,265.40 L454.47,265.50 L454.06,265.60 L453.67,265.70 L453.29,265.80 L452.91,265.90 L452.54,266.00 L452.19,266.10 L451.86,266.20 L451.56,266.30 L451.56,266.30 L451.26,266.20 L450.93,266.10 L450.58,266.00 L450.21,265.90 L449.83,265.80 L449.45,265.70 L449.06,265.60 L448.65,265.50 L448.24,265.40 L447.83,265.30 L447.40,265.20 L446.97,265.10 L446.53,265.00 L446.08,264.90 L445.63,264.80 L445.16,264.70 L444.68,264.60 L444.18,264.50 L443.65,264.40 L443.06,264.30 L443.65,264.20 L444.18,264.10 L444.68,264.00 L445.16,263.90 L445.63,263.80 L446.08,263.70 L446.53,263.60 L446.97,263.50 L447.40,263.40 L447.83,263.30 L448.24,263.20 L448.65,263.10 L449.06,263.00 L449.45,262.90 L449.83,262.80 L450.21,262.70 L450.58,262.60 L450.93,262.50 L451.26,262.40 L451.56,262.30Z" fill="#3D6A86" stroke="#1c1c1c" stroke-width="1.0" stroke-linejoin="round"/>
<line x1="451.56" y1="263.46" x2="451.56" y2="265.14" stroke="#2a2a2a" stroke-width="0.6"/>
<rect x="450.61" y="263.29" width="1.9" height="2.02" fill="#2a2a2a"/>
<circle cx="451.56" cy="264.30" r="0.75" fill="#fff"/>
<path d="M475.18,262.00 L475.62,262.09 L476.01,262.18 L476.40,262.27 L476.77,262.36 L477.13,262.45 L477.48,262.54 L477.83,262.63 L478.18,262.72 L478.52,262.81 L478.85,262.90 L479.18,262.99 L479.51,263.08 L479.83,263.17 L480.15,263.26 L480.46,263.35 L480.76,263.44 L481.06,263.53 L481.35,263.62 L481.63,263.71 L481.88,263.80 L481.63,263.89 L481.35,263.98 L481.06,264.07 L480.76,264.16 L480.46,264.25 L480.15,264.34 L479.83,264.43 L479.51,264.52 L479.18,264.61 L478.85,264.70 L478.52,264.79 L478.18,264.88 L477.83,264.97 L477.48,265.06 L477.13,265.15 L476.77,265.24 L476.40,265.33 L476.01,265.42 L475.62,265.51 L475.18,265.60 L475.18,265.60 L474.74,265.51 L474.35,265.42 L473.96,265.33 L473.59,265.24 L473.23,265.15 L472.88,265.06 L472.53,264.97 L472.18,264.88 L471.84,264.79 L471.51,264.70 L471.18,264.61 L470.85,264.52 L470.53,264.43 L470.21,264.34 L469.90,264.25 L469.60,264.16 L469.30,264.07 L469.01,263.98 L468.73,263.89 L468.48,263.80 L468.73,263.71 L469.01,263.62 L469.30,263.53 L469.60,263.44 L469.90,263.35 L470.21,263.26 L470.53,263.17 L470.85,263.08 L471.18,262.99 L471.51,262.90 L471.84,262.81 L472.18,262.72 L472.53,262.63 L472.88,262.54 L473.23,262.45 L473.59,262.36 L473.96,262.27 L474.35,262.18 L474.74,262.09 L475.18,262.00Z" fill="#3D6A86" stroke="#1c1c1c" stroke-width="1.0" stroke-linejoin="round"/>
<line x1="475.18" y1="263.04" x2="475.18" y2="264.56" stroke="#2a2a2a" stroke-width="0.6"/>
<rect x="474.23" y="262.89" width="1.9" height="1.82" fill="#2a2a2a"/>
<circle cx="475.18" cy="263.80" r="0.75" fill="#fff"/>
<path d="M500.05,260.70 L500.05,260.88 L500.05,261.06 L500.05,261.24 L500.05,261.42 L500.05,261.60 L500.15,261.78 L500.45,261.96 L500.78,262.14 L501.12,262.32 L501.48,262.50 L501.87,262.68 L502.28,262.86 L502.72,263.04 L503.21,263.22 L503.76,263.40 L504.47,263.58 L503.47,263.76 L502.58,263.94 L501.82,264.12 L501.14,264.30 L500.53,264.48 L500.05,264.66 L500.05,264.84 L500.05,265.02 L500.05,265.20 L499.99,265.38 L499.93,265.56 L499.86,265.74 L499.80,265.92 L499.74,266.10 L499.68,266.28 L499.61,266.46 L499.55,266.64 L499.49,266.82 L499.43,267.00 L499.36,267.18 L499.30,267.36 L499.24,267.54 L499.18,267.72 L499.11,267.90 L498.49,267.90 L498.43,267.72 L498.36,267.54 L498.30,267.36 L498.24,267.18 L498.18,267.00 L498.11,266.82 L498.05,266.64 L497.99,266.46 L497.93,266.28 L497.86,266.10 L497.80,265.92 L497.74,265.74 L497.68,265.56 L497.61,265.38 L497.55,265.20 L497.55,265.02 L497.55,264.84 L497.55,264.66 L497.07,264.48 L496.46,264.30 L495.78,264.12 L495.02,263.94 L494.13,263.76 L493.13,263.58 L493.84,263.40 L494.39,263.22 L494.88,263.04 L495.32,262.86 L495.73,262.68 L496.12,262.50 L496.48,262.32 L496.82,262.14 L497.15,261.96 L497.45,261.78 L497.55,261.60 L497.55,261.42 L497.55,261.24 L497.55,261.06 L497.55,260.88 L497.55,260.70Z" fill="#3D6A86" stroke="#1c1c1c" stroke-width="1.0" stroke-linejoin="round"/>
<line x1="498.80" y1="262.82" x2="498.80" y2="265.78" stroke="#2a2a2a" stroke-width="0.6"/>
<rect x="497.85" y="261.82" width="1.9" height="3.55" fill="#2a2a2a"/>
<circle cx="498.80" cy="263.60" r="0.75" fill="#fff"/>
<path d="M369.10,256.95 V321.34 H522.80" fill="none" stroke="#4a4a4a" stroke-width="1.0"/>
<line x1="366.90" y1="309.65" x2="369.10" y2="309.65" stroke="#4a4a4a" stroke-width="0.8"/>
<text font-size="7.20" fill="#1a1a1a" text-anchor="end" transform="translate(364.10,312.05) scale(0.850,1)">85</text>
<line x1="366.90" y1="290.85" x2="369.10" y2="290.85" stroke="#4a4a4a" stroke-width="0.8"/>
<text font-size="7.20" fill="#1a1a1a" text-anchor="end" transform="translate(364.10,293.25) scale(0.850,1)">90</text>
<line x1="366.90" y1="272.05" x2="369.10" y2="272.05" stroke="#4a4a4a" stroke-width="0.8"/>
<text font-size="7.20" fill="#1a1a1a" text-anchor="end" transform="translate(364.10,274.45) scale(0.850,1)">95</text>
<line x1="380.70" y1="321.34" x2="380.70" y2="323.54" stroke="#4a4a4a" stroke-width="0.8"/>
<text font-size="7.20" fill="#1a1a1a" text-anchor="middle" transform="translate(380.70,330.00) scale(0.850,1)">20</text>
<line x1="404.32" y1="321.34" x2="404.32" y2="323.54" stroke="#4a4a4a" stroke-width="0.8"/>
<text font-size="7.20" fill="#1a1a1a" text-anchor="middle" transform="translate(404.32,330.00) scale(0.850,1)">80</text>
<line x1="427.94" y1="321.34" x2="427.94" y2="323.54" stroke="#4a4a4a" stroke-width="0.8"/>
<text font-size="7.20" fill="#1a1a1a" text-anchor="middle" transform="translate(427.94,330.00) scale(0.850,1)">140</text>
<line x1="451.56" y1="321.34" x2="451.56" y2="323.54" stroke="#4a4a4a" stroke-width="0.8"/>
<text font-size="7.20" fill="#1a1a1a" text-anchor="middle" transform="translate(451.56,330.00) scale(0.850,1)">200</text>
<line x1="475.18" y1="321.34" x2="475.18" y2="323.54" stroke="#4a4a4a" stroke-width="0.8"/>
<text font-size="7.20" fill="#1a1a1a" text-anchor="middle" transform="translate(475.18,330.00) scale(0.850,1)">400</text>
<line x1="498.80" y1="321.34" x2="498.80" y2="323.54" stroke="#4a4a4a" stroke-width="0.8"/>
<text font-size="7.20" fill="#1a1a1a" text-anchor="middle" transform="translate(498.80,330.00) scale(0.850,1)">600</text>
<text font-size="6.50" fill="#1a1a1a" text-anchor="middle" transform="translate(352.70,289.75) scale(0.830,1) rotate(-90)">Accuracy</text>
<text font-size="7.10" fill="#1a1a1a" text-anchor="middle" transform="translate(445.95,338.50) scale(0.980,1)">Sequence length (nt)</text>
<text font-size="8.30" fill="#1a1a1a" text-anchor="middle" transform="translate(607.95,9.85) scale(0.850,1)">GS_0</text>
<path d="M542.90,62.50 L566.52,41.70 L590.14,37.20 L613.76,36.70 L637.38,35.40 L661.00,34.70" fill="none" stroke="#C0D2DC" stroke-width="5.50" stroke-linejoin="round"/>
<path d="M542.90,55.90 L543.00,56.19 L543.17,56.48 L543.36,56.77 L543.58,57.06 L543.82,57.35 L544.08,57.64 L544.37,57.93 L544.67,58.22 L544.99,58.51 L545.34,58.80 L545.70,59.09 L546.08,59.38 L546.49,59.67 L546.92,59.96 L547.37,60.25 L547.86,60.54 L548.38,60.83 L548.94,61.12 L549.55,61.41 L550.25,61.70 L551.08,61.99 L551.91,62.28 L551.51,62.57 L551.09,62.86 L550.65,63.15 L550.20,63.44 L549.74,63.73 L549.27,64.02 L548.80,64.31 L548.31,64.60 L547.82,64.89 L547.32,65.18 L546.81,65.47 L546.30,65.76 L545.77,66.05 L545.24,66.34 L544.69,66.63 L544.13,66.92 L543.55,67.21 L542.90,67.50 L542.90,67.50 L542.25,67.21 L541.67,66.92 L541.11,66.63 L540.56,66.34 L540.03,66.05 L539.50,65.76 L538.99,65.47 L538.48,65.18 L537.98,64.89 L537.49,64.60 L537.00,64.31 L536.53,64.02 L536.06,63.73 L535.60,63.44 L535.15,63.15 L534.71,62.86 L534.29,62.57 L533.89,62.28 L534.72,61.99 L535.55,61.70 L536.25,61.41 L536.86,61.12 L537.42,60.83 L537.94,60.54 L538.43,60.25 L538.88,59.96 L539.31,59.67 L539.72,59.38 L540.10,59.09 L540.46,58.80 L540.81,58.51 L541.13,58.22 L541.43,57.93 L541.72,57.64 L541.98,57.35 L542.22,57.06 L542.44,56.77 L542.63,56.48 L542.80,56.19 L542.90,55.90Z" fill="#3D6A86" stroke="#1c1c1c" stroke-width="1.0" stroke-linejoin="round"/>
<line x1="542.90" y1="59.34" x2="542.90" y2="64.06" stroke="#2a2a2a" stroke-width="0.6"/>
<rect x="541.95" y="59.97" width="1.9" height="5.66" fill="#2a2a2a"/>
<circle cx="542.90" cy="62.80" r="0.75" fill="#fff"/>
<path d="M566.52,34.80 L567.82,35.13 L568.71,35.47 L569.49,35.80 L570.18,36.13 L570.82,36.46 L571.40,36.80 L571.93,37.13 L572.42,37.46 L572.86,37.79 L573.25,38.12 L573.57,38.46 L573.61,38.79 L573.26,39.12 L572.95,39.46 L572.64,39.79 L572.34,40.12 L572.05,40.45 L571.77,40.79 L571.49,41.12 L571.22,41.45 L570.95,41.78 L570.68,42.12 L570.42,42.45 L570.16,42.78 L569.90,43.11 L569.65,43.45 L569.40,43.78 L569.15,44.11 L568.91,44.44 L568.67,44.78 L568.43,45.11 L568.20,45.44 L567.97,45.77 L567.74,46.11 L567.52,46.44 L567.30,46.77 L567.09,47.10 L566.89,47.44 L566.69,47.77 L566.52,48.10 L566.52,48.10 L566.35,47.77 L566.15,47.44 L565.95,47.10 L565.74,46.77 L565.52,46.44 L565.30,46.11 L565.07,45.77 L564.84,45.44 L564.61,45.11 L564.37,44.78 L564.13,44.44 L563.89,44.11 L563.64,43.78 L563.39,43.45 L563.14,43.11 L562.88,42.78 L562.62,42.45 L562.36,42.12 L562.09,41.78 L561.82,41.45 L561.55,41.12 L561.27,40.79 L560.99,40.45 L560.70,40.12 L560.40,39.79 L560.09,39.46 L559.78,39.12 L559.43,38.79 L559.47,38.46 L559.79,38.12 L560.18,37.79 L560.62,37.46 L561.11,37.13 L561.64,36.80 L562.22,36.46 L562.86,36.13 L563.55,35.80 L564.33,35.47 L565.22,35.13 L566.52,34.80Z" fill="#3D6A86" stroke="#1c1c1c" stroke-width="1.0" stroke-linejoin="round"/>
<line x1="566.52" y1="38.75" x2="566.52" y2="44.15" stroke="#2a2a2a" stroke-width="0.6"/>
<rect x="565.57" y="37.30" width="1.9" height="6.00" fill="#2a2a2a"/>
<circle cx="566.52" cy="40.30" r="0.75" fill="#fff"/>
<path d="M590.14,33.20 L590.69,33.43 L591.26,33.67 L591.82,33.90 L592.39,34.13 L592.96,34.36 L593.54,34.59 L594.11,34.83 L594.69,35.06 L595.27,35.29 L595.85,35.53 L596.43,35.76 L597.01,35.99 L597.60,36.22 L598.19,36.45 L598.78,36.69 L599.37,36.92 L599.74,37.15 L599.31,37.39 L598.88,37.62 L598.45,37.85 L598.02,38.08 L597.60,38.31 L597.18,38.55 L596.75,38.78 L596.33,39.01 L595.91,39.25 L595.49,39.48 L595.08,39.71 L594.66,39.94 L594.24,40.17 L593.83,40.41 L593.41,40.64 L593.00,40.87 L592.58,41.11 L592.17,41.34 L591.76,41.57 L591.35,41.80 L590.94,42.03 L590.54,42.27 L590.14,42.50 L590.14,42.50 L589.74,42.27 L589.34,42.03 L588.93,41.80 L588.52,41.57 L588.11,41.34 L587.70,41.11 L587.28,40.87 L586.87,40.64 L586.45,40.41 L586.04,40.17 L585.62,39.94 L585.20,39.71 L584.79,39.48 L584.37,39.25 L583.95,39.01 L583.53,38.78 L583.10,38.55 L582.68,38.31 L582.26,38.08 L581.83,37.85 L581.40,37.62 L580.97,37.39 L580.54,37.15 L580.91,36.92 L581.50,36.69 L582.09,36.45 L582.68,36.22 L583.27,35.99 L583.85,35.76 L584.43,35.53 L585.01,35.29 L585.59,35.06 L586.17,34.83 L586.74,34.59 L587.32,34.36 L587.89,34.13 L588.46,33.90 L589.02,33.67 L589.59,33.43 L590.14,33.20Z" fill="#3D6A86" stroke="#1c1c1c" stroke-width="1.0" stroke-linejoin="round"/>
<line x1="590.14" y1="35.95" x2="590.14" y2="39.75" stroke="#2a2a2a" stroke-width="0.6"/>
<rect x="589.19" y="35.12" width="1.9" height="4.56" fill="#2a2a2a"/>
<circle cx="590.14" cy="37.40" r="0.75" fill="#fff"/>
<path d="M613.76,30.80 L614.76,31.14 L615.49,31.49 L616.14,31.84 L616.73,32.18 L617.28,32.52 L617.80,32.87 L618.29,33.22 L618.74,33.56 L619.17,33.91 L619.57,34.25 L619.93,34.59 L620.26,34.94 L620.54,35.29 L620.37,35.63 L619.86,35.98 L619.43,36.32 L619.04,36.66 L618.68,37.01 L618.33,37.36 L618.01,37.70 L617.70,38.05 L617.41,38.39 L617.12,38.73 L616.85,39.08 L616.59,39.42 L616.33,39.77 L616.09,40.12 L615.85,40.46 L615.62,40.80 L615.40,41.15 L615.19,41.50 L614.99,41.84 L614.79,42.19 L614.61,42.53 L614.43,42.88 L614.26,43.22 L614.11,43.56 L613.97,43.91 L613.85,44.26 L613.76,44.60 L613.76,44.60 L613.67,44.26 L613.55,43.91 L613.41,43.56 L613.26,43.22 L613.09,42.88 L612.91,42.53 L612.73,42.19 L612.53,41.84 L612.33,41.50 L612.12,41.15 L611.90,40.80 L611.67,40.46 L611.43,40.12 L611.19,39.77 L610.93,39.42 L610.67,39.08 L610.40,38.73 L610.11,38.39 L609.82,38.05 L609.51,37.70 L609.19,37.36 L608.84,37.01 L608.48,36.66 L608.09,36.32 L607.66,35.98 L607.15,35.63 L606.98,35.29 L607.26,34.94 L607.59,34.59 L607.95,34.25 L608.35,33.91 L608.78,33.56 L609.23,33.22 L609.72,32.87 L610.24,32.52 L610.79,32.18 L611.38,31.84 L612.03,31.49 L612.76,31.14 L613.76,30.80Z" fill="#3D6A86" stroke="#1c1c1c" stroke-width="1.0" stroke-linejoin="round"/>
<line x1="613.76" y1="34.90" x2="613.76" y2="40.50" stroke="#2a2a2a" stroke-width="0.6"/>
<rect x="612.81" y="34.30" width="1.9" height="6.00" fill="#2a2a2a"/>
<circle cx="613.76" cy="37.30" r="0.75" fill="#fff"/>
<path d="M637.38,29.20 L637.67,29.49 L638.03,29.78 L638.43,30.06 L638.86,30.35 L639.32,30.64 L639.80,30.93 L640.30,31.21 L640.82,31.50 L641.37,31.79 L641.94,32.08 L642.53,32.36 L643.15,32.65 L643.82,32.94 L644.53,33.23 L645.32,33.51 L645.90,33.80 L645.62,34.09 L645.33,34.38 L645.02,34.66 L644.71,34.95 L644.39,35.24 L644.07,35.52 L643.74,35.81 L643.41,36.10 L643.07,36.39 L642.73,36.67 L642.38,36.96 L642.03,37.25 L641.68,37.54 L641.32,37.82 L640.96,38.11 L640.59,38.40 L640.22,38.69 L639.85,38.97 L639.47,39.26 L639.08,39.55 L638.68,39.84 L638.27,40.12 L637.85,40.41 L637.38,40.70 L637.38,40.70 L636.91,40.41 L636.49,40.12 L636.08,39.84 L635.68,39.55 L635.29,39.26 L634.91,38.97 L634.54,38.69 L634.17,38.40 L633.80,38.11 L633.44,37.82 L633.08,37.54 L632.73,37.25 L632.38,36.96 L632.03,36.67 L631.69,36.39 L631.35,36.10 L631.02,35.81 L630.69,35.52 L630.37,35.24 L630.05,34.95 L629.74,34.66 L629.43,34.38 L629.14,34.09 L628.86,33.80 L629.44,33.51 L630.23,33.23 L630.94,32.94 L631.61,32.65 L632.23,32.36 L632.82,32.08 L633.39,31.79 L633.94,31.50 L634.46,31.21 L634.96,30.93 L635.44,30.64 L635.90,30.35 L636.33,30.06 L636.73,29.78 L637.09,29.49 L637.38,29.20Z" fill="#3D6A86" stroke="#1c1c1c" stroke-width="1.0" stroke-linejoin="round"/>
<line x1="637.38" y1="32.61" x2="637.38" y2="37.29" stroke="#2a2a2a" stroke-width="0.6"/>
<rect x="636.43" y="31.59" width="1.9" height="5.62" fill="#2a2a2a"/>
<circle cx="637.38" cy="34.40" r="0.75" fill="#fff"/>
<path d="M661.00,28.50 L661.50,28.80 L661.96,29.11 L662.39,29.41 L662.82,29.72 L663.23,30.02 L663.64,30.33 L664.04,30.63 L664.44,30.94 L664.83,31.24 L665.21,31.55 L665.59,31.86 L665.97,32.16 L666.34,32.46 L666.70,32.77 L667.06,33.07 L667.41,33.38 L667.75,33.68 L668.09,33.99 L668.41,34.30 L668.71,34.60 L668.61,34.91 L668.28,35.21 L667.94,35.52 L667.59,35.82 L667.23,36.12 L666.87,36.43 L666.49,36.73 L666.12,37.04 L665.73,37.34 L665.34,37.65 L664.95,37.95 L664.54,38.26 L664.14,38.56 L663.72,38.87 L663.30,39.17 L662.87,39.48 L662.44,39.78 L661.99,40.09 L661.52,40.39 L661.00,40.70 L661.00,40.70 L660.48,40.39 L660.01,40.09 L659.56,39.78 L659.13,39.48 L658.70,39.17 L658.28,38.87 L657.86,38.56 L657.46,38.26 L657.05,37.95 L656.66,37.65 L656.27,37.34 L655.88,37.04 L655.51,36.73 L655.13,36.43 L654.77,36.12 L654.41,35.82 L654.06,35.52 L653.72,35.21 L653.39,34.91 L653.29,34.60 L653.59,34.30 L653.91,33.99 L654.25,33.68 L654.59,33.38 L654.94,33.07 L655.30,32.77 L655.66,32.46 L656.03,32.16 L656.41,31.86 L656.79,31.55 L657.17,31.24 L657.56,30.94 L657.96,30.63 L658.36,30.33 L658.77,30.02 L659.18,29.72 L659.61,29.41 L660.04,29.11 L660.50,28.80 L661.00,28.50Z" fill="#3D6A86" stroke="#1c1c1c" stroke-width="1.0" stroke-linejoin="round"/>
<line x1="661.00" y1="32.12" x2="661.00" y2="37.08" stroke="#2a2a2a" stroke-width="0.6"/>
<rect x="660.05" y="31.72" width="1.9" height="5.95" fill="#2a2a2a"/>
<circle cx="661.00" cy="34.70" r="0.75" fill="#fff"/>
<path d="M531.50,13.20 V77.35 H685.20" fill="none" stroke="#4a4a4a" stroke-width="1.0"/>
<line x1="529.30" y1="65.90" x2="531.50" y2="65.90" stroke="#4a4a4a" stroke-width="0.8"/>
<line x1="529.30" y1="47.10" x2="531.50" y2="47.10" stroke="#4a4a4a" stroke-width="0.8"/>
<line x1="529.30" y1="28.30" x2="531.50" y2="28.30" stroke="#4a4a4a" stroke-width="0.8"/>
<line x1="542.90" y1="77.35" x2="542.90" y2="79.55" stroke="#4a4a4a" stroke-width="0.8"/>
<line x1="566.52" y1="77.35" x2="566.52" y2="79.55" stroke="#4a4a4a" stroke-width="0.8"/>
<line x1="590.14" y1="77.35" x2="590.14" y2="79.55" stroke="#4a4a4a" stroke-width="0.8"/>
<line x1="613.76" y1="77.35" x2="613.76" y2="79.55" stroke="#4a4a4a" stroke-width="0.8"/>
<line x1="637.38" y1="77.35" x2="637.38" y2="79.55" stroke="#4a4a4a" stroke-width="0.8"/>
<line x1="661.00" y1="77.35" x2="661.00" y2="79.55" stroke="#4a4a4a" stroke-width="0.8"/>
<text font-size="8.30" fill="#1a1a1a" text-anchor="middle" transform="translate(607.95,91.10) scale(0.850,1)">GS_1</text>
<path d="M542.90,123.80 L566.52,116.00 L590.14,113.10 L613.76,113.60 L637.38,113.70 L661.00,113.10" fill="none" stroke="#C0D2DC" stroke-width="5.50" stroke-linejoin="round"/>
<path d="M542.90,120.50 L542.99,120.67 L543.13,120.85 L543.28,121.03 L543.44,121.20 L543.62,121.38 L543.81,121.55 L544.01,121.72 L544.22,121.90 L544.44,122.08 L544.67,122.25 L544.91,122.42 L545.16,122.60 L545.41,122.78 L545.68,122.95 L545.95,123.12 L546.24,123.30 L546.54,123.47 L546.85,123.65 L547.17,123.83 L547.51,124.00 L547.86,124.17 L548.24,124.35 L548.64,124.53 L549.08,124.70 L549.59,124.88 L550.04,125.05 L549.73,125.22 L549.38,125.40 L548.99,125.58 L548.58,125.75 L548.14,125.92 L547.68,126.10 L547.20,126.28 L546.70,126.45 L546.17,126.62 L545.63,126.80 L545.05,126.97 L544.43,127.15 L543.75,127.33 L542.90,127.50 L542.90,127.50 L542.05,127.33 L541.37,127.15 L540.75,126.97 L540.17,126.80 L539.63,126.62 L539.10,126.45 L538.60,126.28 L538.12,126.10 L537.66,125.92 L537.22,125.75 L536.81,125.58 L536.42,125.40 L536.07,125.22 L535.76,125.05 L536.21,124.88 L536.72,124.70 L537.16,124.53 L537.56,124.35 L537.94,124.17 L538.29,124.00 L538.63,123.83 L538.95,123.65 L539.26,123.47 L539.56,123.30 L539.85,123.12 L540.12,122.95 L540.39,122.78 L540.64,122.60 L540.89,122.42 L541.13,122.25 L541.36,122.08 L541.58,121.90 L541.79,121.72 L541.99,121.55 L542.18,121.38 L542.36,121.20 L542.52,121.03 L542.67,120.85 L542.81,120.67 L542.90,120.50Z" fill="#3D6A86" stroke="#1c1c1c" stroke-width="1.0" stroke-linejoin="round"/>
<line x1="542.90" y1="122.56" x2="542.90" y2="125.44" stroke="#2a2a2a" stroke-width="0.6"/>
<rect x="541.95" y="122.87" width="1.9" height="3.46" fill="#2a2a2a"/>
<circle cx="542.90" cy="124.60" r="0.75" fill="#fff"/>
<path d="M566.52,112.30 L567.27,112.45 L567.87,112.61 L568.41,112.77 L568.93,112.92 L569.42,113.08 L569.88,113.23 L570.33,113.38 L570.76,113.54 L571.17,113.69 L571.56,113.85 L571.94,114.00 L572.30,114.16 L572.64,114.31 L572.95,114.47 L573.22,114.62 L573.22,114.78 L573.00,114.94 L572.77,115.09 L572.53,115.25 L572.28,115.40 L572.03,115.55 L571.78,115.71 L571.52,115.86 L571.26,116.02 L570.99,116.17 L570.72,116.33 L570.45,116.48 L570.18,116.64 L569.90,116.80 L569.62,116.95 L569.33,117.11 L569.05,117.26 L568.75,117.41 L568.46,117.57 L568.16,117.72 L567.85,117.88 L567.54,118.03 L567.22,118.19 L566.89,118.34 L566.52,118.50 L566.52,118.50 L566.15,118.34 L565.82,118.19 L565.50,118.03 L565.19,117.88 L564.88,117.72 L564.58,117.57 L564.29,117.41 L563.99,117.26 L563.71,117.11 L563.42,116.95 L563.14,116.80 L562.86,116.64 L562.59,116.48 L562.32,116.33 L562.05,116.17 L561.78,116.02 L561.52,115.86 L561.26,115.71 L561.01,115.55 L560.76,115.40 L560.51,115.25 L560.27,115.09 L560.04,114.94 L559.82,114.78 L559.82,114.62 L560.09,114.47 L560.40,114.31 L560.74,114.16 L561.10,114.00 L561.48,113.85 L561.87,113.69 L562.28,113.54 L562.71,113.38 L563.16,113.23 L563.62,113.08 L564.11,112.92 L564.63,112.77 L565.17,112.61 L565.77,112.45 L566.52,112.30Z" fill="#3D6A86" stroke="#1c1c1c" stroke-width="1.0" stroke-linejoin="round"/>
<line x1="566.52" y1="114.12" x2="566.52" y2="116.68" stroke="#2a2a2a" stroke-width="0.6"/>
<rect x="565.57" y="113.66" width="1.9" height="3.07" fill="#2a2a2a"/>
<circle cx="566.52" cy="115.20" r="0.75" fill="#fff"/>
<path d="M590.14,107.60 L590.58,107.88 L590.89,108.17 L591.16,108.45 L591.41,108.74 L591.64,109.02 L591.86,109.31 L592.06,109.59 L592.25,109.88 L592.43,110.16 L592.61,110.45 L592.77,110.73 L592.93,111.02 L593.08,111.30 L593.22,111.59 L593.35,111.88 L593.48,112.16 L593.59,112.44 L593.69,112.73 L593.78,113.02 L593.84,113.30 L593.78,113.58 L593.69,113.87 L593.59,114.16 L593.48,114.44 L593.35,114.72 L593.22,115.01 L593.08,115.30 L592.93,115.58 L592.77,115.86 L592.61,116.15 L592.43,116.44 L592.25,116.72 L592.06,117.00 L591.86,117.29 L591.64,117.58 L591.41,117.86 L591.16,118.14 L590.89,118.43 L590.58,118.72 L590.14,119.00 L590.14,119.00 L589.70,118.72 L589.39,118.43 L589.12,118.14 L588.87,117.86 L588.64,117.58 L588.42,117.29 L588.22,117.00 L588.03,116.72 L587.85,116.44 L587.67,116.15 L587.51,115.86 L587.35,115.58 L587.20,115.30 L587.06,115.01 L586.93,114.72 L586.80,114.44 L586.69,114.16 L586.59,113.87 L586.50,113.58 L586.44,113.30 L586.50,113.02 L586.59,112.73 L586.69,112.44 L586.80,112.16 L586.93,111.88 L587.06,111.59 L587.20,111.30 L587.35,111.02 L587.51,110.73 L587.67,110.45 L587.85,110.16 L588.03,109.88 L588.22,109.59 L588.42,109.31 L588.64,109.02 L588.87,108.74 L589.12,108.45 L589.39,108.17 L589.70,107.88 L590.14,107.60Z" fill="#3D6A86" stroke="#1c1c1c" stroke-width="1.0" stroke-linejoin="round"/>
<line x1="590.14" y1="110.98" x2="590.14" y2="115.62" stroke="#2a2a2a" stroke-width="0.6"/>
<rect x="589.19" y="110.52" width="1.9" height="5.57" fill="#2a2a2a"/>
<circle cx="590.14" cy="113.30" r="0.75" fill="#fff"/>
<path d="M613.76,110.20 L614.16,110.33 L614.61,110.47 L615.09,110.60 L615.58,110.74 L616.09,110.87 L616.62,111.01 L617.15,111.14 L617.70,111.28 L618.26,111.41 L618.83,111.55 L619.41,111.68 L620.00,111.82 L620.61,111.95 L621.23,112.09 L621.87,112.22 L622.53,112.36 L623.24,112.49 L623.70,112.63 L623.09,112.77 L622.53,112.90 L622.00,113.03 L621.48,113.17 L620.98,113.31 L620.48,113.44 L620.00,113.58 L619.52,113.71 L619.06,113.84 L618.60,113.98 L618.14,114.12 L617.70,114.25 L617.26,114.39 L616.83,114.52 L616.41,114.66 L615.99,114.79 L615.58,114.93 L615.19,115.06 L614.80,115.20 L614.43,115.33 L614.07,115.47 L613.76,115.60 L613.76,115.60 L613.45,115.47 L613.09,115.33 L612.72,115.20 L612.33,115.06 L611.94,114.93 L611.53,114.79 L611.11,114.66 L610.69,114.52 L610.26,114.39 L609.82,114.25 L609.38,114.12 L608.92,113.98 L608.46,113.84 L608.00,113.71 L607.52,113.58 L607.04,113.44 L606.54,113.31 L606.04,113.17 L605.52,113.03 L604.99,112.90 L604.43,112.77 L603.82,112.63 L604.28,112.49 L604.99,112.36 L605.65,112.22 L606.29,112.09 L606.91,111.95 L607.52,111.82 L608.11,111.68 L608.69,111.55 L609.26,111.41 L609.82,111.28 L610.37,111.14 L610.90,111.01 L611.43,110.87 L611.94,110.74 L612.43,110.60 L612.91,110.47 L613.36,110.33 L613.76,110.20Z" fill="#3D6A86" stroke="#1c1c1c" stroke-width="1.0" stroke-linejoin="round"/>
<line x1="613.76" y1="111.78" x2="613.76" y2="114.02" stroke="#2a2a2a" stroke-width="0.6"/>
<rect x="612.81" y="111.26" width="1.9" height="2.69" fill="#2a2a2a"/>
<circle cx="613.76" cy="112.60" r="0.75" fill="#fff"/>
<path d="M637.38,106.30 L637.42,106.71 L637.48,107.12 L637.55,107.53 L637.64,107.94 L637.75,108.35 L637.86,108.76 L637.99,109.17 L638.12,109.58 L638.27,109.99 L638.43,110.40 L638.60,110.81 L638.79,111.22 L638.99,111.63 L639.20,112.04 L639.44,112.45 L639.70,112.86 L639.99,113.27 L640.33,113.68 L640.75,114.09 L641.04,114.50 L640.54,114.91 L640.18,115.32 L639.87,115.73 L639.60,116.14 L639.35,116.55 L639.13,116.96 L638.92,117.37 L638.73,117.78 L638.55,118.19 L638.39,118.60 L638.24,119.01 L638.10,119.42 L637.96,119.83 L637.84,120.24 L637.73,120.65 L637.64,121.06 L637.55,121.47 L637.47,121.88 L637.42,122.29 L637.38,122.70 L637.38,122.70 L637.34,122.29 L637.29,121.88 L637.21,121.47 L637.12,121.06 L637.03,120.65 L636.92,120.24 L636.80,119.83 L636.66,119.42 L636.52,119.01 L636.37,118.60 L636.21,118.19 L636.03,117.78 L635.84,117.37 L635.63,116.96 L635.41,116.55 L635.16,116.14 L634.89,115.73 L634.58,115.32 L634.22,114.91 L633.72,114.50 L634.01,114.09 L634.43,113.68 L634.77,113.27 L635.06,112.86 L635.32,112.45 L635.56,112.04 L635.77,111.63 L635.97,111.22 L636.16,110.81 L636.33,110.40 L636.49,109.99 L636.64,109.58 L636.77,109.17 L636.90,108.76 L637.01,108.35 L637.12,107.94 L637.21,107.53 L637.28,107.12 L637.34,106.71 L637.38,106.30Z" fill="#3D6A86" stroke="#1c1c1c" stroke-width="1.0" stroke-linejoin="round"/>
<line x1="637.38" y1="111.18" x2="637.38" y2="117.82" stroke="#2a2a2a" stroke-width="0.6"/>
<rect x="636.43" y="111.40" width="1.9" height="6.00" fill="#2a2a2a"/>
<circle cx="637.38" cy="114.40" r="0.75" fill="#fff"/>
<path d="M661.00,106.70 L661.13,107.07 L661.29,107.43 L661.47,107.80 L661.66,108.17 L661.86,108.54 L662.07,108.90 L662.30,109.27 L662.53,109.64 L662.77,110.01 L663.02,110.38 L663.28,110.74 L663.55,111.11 L663.83,111.48 L664.13,111.84 L664.46,112.21 L664.82,112.58 L664.95,112.95 L664.67,113.31 L664.42,113.68 L664.19,114.05 L663.97,114.42 L663.77,114.78 L663.56,115.15 L663.37,115.52 L663.18,115.89 L663.00,116.25 L662.82,116.62 L662.65,116.99 L662.48,117.36 L662.32,117.72 L662.16,118.09 L662.00,118.46 L661.85,118.83 L661.71,119.20 L661.57,119.56 L661.44,119.93 L661.31,120.30 L661.19,120.67 L661.09,121.03 L661.00,121.40 L661.00,121.40 L660.91,121.03 L660.81,120.67 L660.69,120.30 L660.56,119.93 L660.43,119.56 L660.29,119.20 L660.15,118.83 L660.00,118.46 L659.84,118.09 L659.68,117.72 L659.52,117.36 L659.35,116.99 L659.18,116.62 L659.00,116.25 L658.82,115.89 L658.63,115.52 L658.44,115.15 L658.23,114.78 L658.03,114.42 L657.81,114.05 L657.58,113.68 L657.33,113.31 L657.05,112.95 L657.18,112.58 L657.54,112.21 L657.87,111.84 L658.17,111.48 L658.45,111.11 L658.72,110.74 L658.98,110.38 L659.23,110.01 L659.47,109.64 L659.70,109.27 L659.93,108.90 L660.14,108.54 L660.34,108.17 L660.53,107.80 L660.71,107.43 L660.87,107.07 L661.00,106.70Z" fill="#3D6A86" stroke="#1c1c1c" stroke-width="1.0" stroke-linejoin="round"/>
<line x1="661.00" y1="111.07" x2="661.00" y2="117.03" stroke="#2a2a2a" stroke-width="0.6"/>
<rect x="660.05" y="109.80" width="1.9" height="6.00" fill="#2a2a2a"/>
<circle cx="661.00" cy="112.80" r="0.75" fill="#fff"/>
<path d="M531.50,94.45 V158.68 H685.20" fill="none" stroke="#4a4a4a" stroke-width="1.0"/>
<line x1="529.30" y1="147.15" x2="531.50" y2="147.15" stroke="#4a4a4a" stroke-width="0.8"/>
<line x1="529.30" y1="128.35" x2="531.50" y2="128.35" stroke="#4a4a4a" stroke-width="0.8"/>
<line x1="529.30" y1="109.55" x2="531.50" y2="109.55" stroke="#4a4a4a" stroke-width="0.8"/>
<line x1="542.90" y1="158.68" x2="542.90" y2="160.88" stroke="#4a4a4a" stroke-width="0.8"/>
<line x1="566.52" y1="158.68" x2="566.52" y2="160.88" stroke="#4a4a4a" stroke-width="0.8"/>
<line x1="590.14" y1="158.68" x2="590.14" y2="160.88" stroke="#4a4a4a" stroke-width="0.8"/>
<line x1="613.76" y1="158.68" x2="613.76" y2="160.88" stroke="#4a4a4a" stroke-width="0.8"/>
<line x1="637.38" y1="158.68" x2="637.38" y2="160.88" stroke="#4a4a4a" stroke-width="0.8"/>
<line x1="661.00" y1="158.68" x2="661.00" y2="160.88" stroke="#4a4a4a" stroke-width="0.8"/>
<text font-size="8.30" fill="#1a1a1a" text-anchor="middle" transform="translate(607.95,172.35) scale(0.850,1)">GS_2</text>
<path d="M542.90,219.50 L566.52,199.70 L590.14,194.50 L613.76,193.70 L637.38,193.30 L661.00,194.20" fill="none" stroke="#C0D2DC" stroke-width="5.50" stroke-linejoin="round"/>
<path d="M542.90,217.00 L543.33,217.16 L543.76,217.33 L544.20,217.50 L544.64,217.66 L545.08,217.82 L545.52,217.99 L545.97,218.16 L546.41,218.32 L546.86,218.48 L547.30,218.65 L547.75,218.81 L548.20,218.98 L548.65,219.15 L549.10,219.31 L549.55,219.47 L550.01,219.64 L550.46,219.81 L550.92,219.97 L551.37,220.13 L551.83,220.30 L552.30,220.47 L551.98,220.63 L551.46,220.79 L550.94,220.96 L550.43,221.12 L549.92,221.29 L549.41,221.45 L548.90,221.62 L548.39,221.78 L547.88,221.95 L547.38,222.12 L546.87,222.28 L546.37,222.44 L545.87,222.61 L545.37,222.78 L544.87,222.94 L544.37,223.10 L543.88,223.27 L543.38,223.44 L542.90,223.60 L542.90,223.60 L542.42,223.44 L541.92,223.27 L541.43,223.10 L540.93,222.94 L540.43,222.78 L539.93,222.61 L539.43,222.44 L538.93,222.28 L538.42,222.12 L537.92,221.95 L537.41,221.78 L536.90,221.62 L536.39,221.45 L535.88,221.29 L535.37,221.12 L534.86,220.96 L534.34,220.79 L533.82,220.63 L533.50,220.47 L533.97,220.30 L534.43,220.13 L534.88,219.97 L535.34,219.81 L535.79,219.64 L536.25,219.47 L536.70,219.31 L537.15,219.15 L537.60,218.98 L538.05,218.81 L538.50,218.65 L538.94,218.48 L539.39,218.32 L539.83,218.16 L540.28,217.99 L540.72,217.82 L541.16,217.66 L541.60,217.50 L542.04,217.33 L542.47,217.16 L542.90,217.00Z" fill="#3D6A86" stroke="#1c1c1c" stroke-width="1.0" stroke-linejoin="round"/>
<line x1="542.90" y1="218.94" x2="542.90" y2="221.66" stroke="#2a2a2a" stroke-width="0.6"/>
<rect x="541.95" y="218.87" width="1.9" height="3.26" fill="#2a2a2a"/>
<circle cx="542.90" cy="220.50" r="0.75" fill="#fff"/>
<path d="M566.52,195.20 L567.46,195.38 L568.15,195.55 L568.77,195.72 L569.34,195.90 L569.88,196.07 L570.39,196.25 L570.88,196.42 L571.35,196.60 L571.80,196.78 L572.23,196.95 L572.65,197.12 L573.05,197.30 L573.44,197.47 L573.81,197.65 L574.17,197.82 L574.51,198.00 L574.84,198.18 L575.15,198.35 L575.45,198.53 L575.72,198.70 L575.97,198.88 L576.19,199.05 L576.05,199.22 L574.94,199.40 L574.06,199.58 L573.28,199.75 L572.56,199.93 L571.89,200.10 L571.27,200.28 L570.68,200.45 L570.12,200.62 L569.59,200.80 L569.09,200.98 L568.62,201.15 L568.18,201.33 L567.76,201.50 L567.38,201.68 L567.03,201.85 L566.73,202.03 L566.52,202.20 L566.52,202.20 L566.31,202.03 L566.01,201.85 L565.66,201.68 L565.28,201.50 L564.86,201.33 L564.42,201.15 L563.95,200.98 L563.45,200.80 L562.92,200.62 L562.36,200.45 L561.77,200.28 L561.15,200.10 L560.48,199.93 L559.76,199.75 L558.98,199.58 L558.10,199.40 L556.99,199.22 L556.85,199.05 L557.07,198.88 L557.32,198.70 L557.59,198.53 L557.89,198.35 L558.20,198.18 L558.53,198.00 L558.87,197.82 L559.23,197.65 L559.60,197.47 L559.99,197.30 L560.39,197.12 L560.81,196.95 L561.24,196.78 L561.69,196.60 L562.16,196.42 L562.65,196.25 L563.16,196.07 L563.70,195.90 L564.27,195.72 L564.89,195.55 L565.58,195.38 L566.52,195.20Z" fill="#3D6A86" stroke="#1c1c1c" stroke-width="1.0" stroke-linejoin="round"/>
<line x1="566.52" y1="197.26" x2="566.52" y2="200.14" stroke="#2a2a2a" stroke-width="0.6"/>
<rect x="565.57" y="197.67" width="1.9" height="3.46" fill="#2a2a2a"/>
<circle cx="566.52" cy="199.40" r="0.75" fill="#fff"/>
<path d="M590.14,188.10 L590.21,188.41 L590.33,188.72 L590.46,189.04 L590.61,189.35 L590.78,189.66 L590.97,189.97 L591.17,190.29 L591.38,190.60 L591.61,190.91 L591.85,191.22 L592.11,191.54 L592.38,191.85 L592.67,192.16 L592.97,192.47 L593.30,192.79 L593.65,193.10 L594.03,193.41 L594.44,193.72 L594.91,194.04 L595.46,194.35 L596.12,194.66 L595.99,194.97 L595.81,195.29 L595.61,195.60 L595.40,195.91 L595.17,196.22 L594.92,196.54 L594.67,196.85 L594.40,197.16 L594.11,197.47 L593.82,197.79 L593.51,198.10 L593.19,198.41 L592.85,198.72 L592.49,199.04 L592.12,199.35 L591.72,199.66 L591.29,199.97 L590.80,200.29 L590.14,200.60 L590.14,200.60 L589.48,200.29 L588.99,199.97 L588.56,199.66 L588.16,199.35 L587.79,199.04 L587.43,198.72 L587.09,198.41 L586.77,198.10 L586.46,197.79 L586.17,197.47 L585.88,197.16 L585.61,196.85 L585.36,196.54 L585.11,196.22 L584.88,195.91 L584.67,195.60 L584.47,195.29 L584.29,194.97 L584.16,194.66 L584.82,194.35 L585.37,194.04 L585.84,193.72 L586.25,193.41 L586.63,193.10 L586.98,192.79 L587.31,192.47 L587.61,192.16 L587.90,191.85 L588.17,191.54 L588.43,191.22 L588.67,190.91 L588.90,190.60 L589.11,190.29 L589.31,189.97 L589.50,189.66 L589.67,189.35 L589.82,189.04 L589.95,188.72 L590.07,188.41 L590.14,188.10Z" fill="#3D6A86" stroke="#1c1c1c" stroke-width="1.0" stroke-linejoin="round"/>
<line x1="590.14" y1="191.81" x2="590.14" y2="196.89" stroke="#2a2a2a" stroke-width="0.6"/>
<rect x="589.19" y="191.60" width="1.9" height="6.00" fill="#2a2a2a"/>
<circle cx="590.14" cy="194.60" r="0.75" fill="#fff"/>
<path d="M613.76,187.70 L613.96,188.03 L614.22,188.36 L614.50,188.69 L614.80,189.02 L615.12,189.35 L615.46,189.68 L615.81,190.01 L616.18,190.34 L616.56,190.67 L616.96,191.00 L617.38,191.33 L617.83,191.66 L618.30,191.99 L618.82,192.32 L619.43,192.65 L619.18,192.98 L618.83,193.31 L618.51,193.64 L618.21,193.97 L617.92,194.30 L617.64,194.63 L617.37,194.96 L617.11,195.29 L616.86,195.62 L616.62,195.95 L616.38,196.28 L616.15,196.61 L615.92,196.94 L615.70,197.27 L615.49,197.60 L615.28,197.93 L615.08,198.26 L614.88,198.59 L614.70,198.92 L614.51,199.25 L614.34,199.58 L614.17,199.91 L614.01,200.24 L613.87,200.57 L613.76,200.90 L613.76,200.90 L613.65,200.57 L613.51,200.24 L613.35,199.91 L613.18,199.58 L613.01,199.25 L612.82,198.92 L612.64,198.59 L612.44,198.26 L612.24,197.93 L612.03,197.60 L611.82,197.27 L611.60,196.94 L611.37,196.61 L611.14,196.28 L610.90,195.95 L610.66,195.62 L610.41,195.29 L610.15,194.96 L609.88,194.63 L609.60,194.30 L609.31,193.97 L609.01,193.64 L608.69,193.31 L608.34,192.98 L608.09,192.65 L608.70,192.32 L609.22,191.99 L609.69,191.66 L610.14,191.33 L610.56,191.00 L610.96,190.67 L611.34,190.34 L611.71,190.01 L612.06,189.68 L612.40,189.35 L612.72,189.02 L613.02,188.69 L613.30,188.36 L613.56,188.03 L613.76,187.70Z" fill="#3D6A86" stroke="#1c1c1c" stroke-width="1.0" stroke-linejoin="round"/>
<line x1="613.76" y1="191.62" x2="613.76" y2="196.98" stroke="#2a2a2a" stroke-width="0.6"/>
<rect x="612.81" y="190.20" width="1.9" height="6.00" fill="#2a2a2a"/>
<circle cx="613.76" cy="193.20" r="0.75" fill="#fff"/>
<path d="M637.38,187.50 L637.77,187.76 L638.11,188.02 L638.45,188.28 L638.77,188.54 L639.09,188.80 L639.41,189.06 L639.71,189.32 L640.02,189.58 L640.32,189.84 L640.61,190.10 L640.90,190.36 L641.19,190.62 L641.47,190.88 L641.75,191.14 L642.03,191.40 L642.30,191.66 L642.56,191.92 L642.82,192.18 L643.07,192.44 L643.31,192.70 L643.40,192.96 L643.07,193.22 L642.75,193.48 L642.42,193.74 L642.10,194.00 L641.78,194.26 L641.46,194.52 L641.14,194.78 L640.82,195.04 L640.50,195.30 L640.19,195.56 L639.87,195.82 L639.56,196.08 L639.24,196.34 L638.93,196.60 L638.61,196.86 L638.30,197.12 L637.99,197.38 L637.68,197.64 L637.38,197.90 L637.38,197.90 L637.08,197.64 L636.77,197.38 L636.46,197.12 L636.15,196.86 L635.83,196.60 L635.52,196.34 L635.20,196.08 L634.89,195.82 L634.57,195.56 L634.26,195.30 L633.94,195.04 L633.62,194.78 L633.30,194.52 L632.98,194.26 L632.66,194.00 L632.34,193.74 L632.01,193.48 L631.69,193.22 L631.36,192.96 L631.45,192.70 L631.69,192.44 L631.94,192.18 L632.20,191.92 L632.46,191.66 L632.73,191.40 L633.01,191.14 L633.29,190.88 L633.57,190.62 L633.86,190.36 L634.15,190.10 L634.44,189.84 L634.74,189.58 L635.05,189.32 L635.35,189.06 L635.67,188.80 L635.99,188.54 L636.31,188.28 L636.65,188.02 L636.99,187.76 L637.38,187.50Z" fill="#3D6A86" stroke="#1c1c1c" stroke-width="1.0" stroke-linejoin="round"/>
<line x1="637.38" y1="190.58" x2="637.38" y2="194.82" stroke="#2a2a2a" stroke-width="0.6"/>
<rect x="636.43" y="190.66" width="1.9" height="5.09" fill="#2a2a2a"/>
<circle cx="637.38" cy="193.20" r="0.75" fill="#fff"/>
<path d="M661.00,187.30 L661.78,187.66 L662.23,188.01 L662.61,188.37 L662.93,188.73 L663.22,189.09 L663.49,189.44 L663.73,189.80 L663.96,190.16 L664.16,190.52 L664.35,190.88 L664.53,191.23 L664.69,191.59 L664.83,191.95 L664.96,192.30 L665.08,192.66 L665.17,193.02 L665.25,193.38 L665.30,193.73 L665.28,194.09 L665.23,194.45 L665.16,194.81 L665.08,195.16 L664.98,195.52 L664.88,195.88 L664.76,196.24 L664.63,196.59 L664.50,196.95 L664.35,197.31 L664.20,197.67 L664.03,198.02 L663.85,198.38 L663.65,198.74 L663.45,199.10 L663.22,199.45 L662.98,199.81 L662.72,200.17 L662.43,200.53 L662.09,200.88 L661.69,201.24 L661.00,201.60 L661.00,201.60 L660.31,201.24 L659.91,200.88 L659.57,200.53 L659.28,200.17 L659.02,199.81 L658.78,199.45 L658.55,199.10 L658.35,198.74 L658.15,198.38 L657.97,198.02 L657.80,197.67 L657.65,197.31 L657.50,196.95 L657.37,196.59 L657.24,196.24 L657.12,195.88 L657.02,195.52 L656.92,195.16 L656.84,194.81 L656.77,194.45 L656.72,194.09 L656.70,193.73 L656.75,193.38 L656.83,193.02 L656.92,192.66 L657.04,192.30 L657.17,191.95 L657.31,191.59 L657.47,191.23 L657.65,190.88 L657.84,190.52 L658.04,190.16 L658.27,189.80 L658.51,189.44 L658.78,189.09 L659.07,188.73 L659.39,188.37 L659.77,188.01 L660.22,187.66 L661.00,187.30Z" fill="#3D6A86" stroke="#1c1c1c" stroke-width="1.0" stroke-linejoin="round"/>
<line x1="661.00" y1="191.55" x2="661.00" y2="197.35" stroke="#2a2a2a" stroke-width="0.6"/>
<rect x="660.05" y="190.80" width="1.9" height="6.00" fill="#2a2a2a"/>
<circle cx="661.00" cy="193.80" r="0.75" fill="#fff"/>
<path d="M531.50,175.70 V240.01 H685.20" fill="none" stroke="#4a4a4a" stroke-width="1.0"/>
<line x1="529.30" y1="228.40" x2="531.50" y2="228.40" stroke="#4a4a4a" stroke-width="0.8"/>
<line x1="529.30" y1="209.60" x2="531.50" y2="209.60" stroke="#4a4a4a" stroke-width="0.8"/>
<line x1="529.30" y1="190.80" x2="531.50" y2="190.80" stroke="#4a4a4a" stroke-width="0.8"/>
<line x1="542.90" y1="240.01" x2="542.90" y2="242.21" stroke="#4a4a4a" stroke-width="0.8"/>
<line x1="566.52" y1="240.01" x2="566.52" y2="242.21" stroke="#4a4a4a" stroke-width="0.8"/>
<line x1="590.14" y1="240.01" x2="590.14" y2="242.21" stroke="#4a4a4a" stroke-width="0.8"/>
<line x1="613.76" y1="240.01" x2="613.76" y2="242.21" stroke="#4a4a4a" stroke-width="0.8"/>
<line x1="637.38" y1="240.01" x2="637.38" y2="242.21" stroke="#4a4a4a" stroke-width="0.8"/>
<line x1="661.00" y1="240.01" x2="661.00" y2="242.21" stroke="#4a4a4a" stroke-width="0.8"/>
<text font-size="8.30" fill="#1a1a1a" text-anchor="middle" transform="translate(607.95,253.60) scale(0.850,1)">GS_10</text>
<path d="M542.90,277.50 L566.52,266.70 L590.14,264.00 L613.76,263.10 L637.38,263.00 L661.00,263.00" fill="none" stroke="#C0D2DC" stroke-width="5.50" stroke-linejoin="round"/>
<path d="M542.90,276.40 L543.16,276.47 L543.46,276.53 L543.77,276.60 L544.10,276.66 L544.43,276.73 L544.78,276.79 L545.13,276.86 L545.48,276.92 L545.84,276.99 L546.21,277.05 L546.59,277.12 L546.97,277.18 L547.36,277.25 L547.75,277.31 L548.15,277.38 L548.56,277.44 L548.98,277.50 L549.41,277.57 L549.85,277.63 L550.31,277.70 L550.80,277.77 L550.80,277.83 L550.23,277.90 L549.70,277.96 L549.19,278.03 L548.70,278.09 L548.22,278.16 L547.75,278.22 L547.29,278.29 L546.84,278.35 L546.40,278.42 L545.97,278.48 L545.54,278.55 L545.13,278.61 L544.72,278.68 L544.32,278.74 L543.94,278.81 L543.56,278.87 L543.21,278.94 L542.90,279.00 L542.90,279.00 L542.59,278.94 L542.24,278.87 L541.86,278.81 L541.48,278.74 L541.08,278.68 L540.67,278.61 L540.26,278.55 L539.83,278.48 L539.40,278.42 L538.96,278.35 L538.51,278.29 L538.05,278.22 L537.58,278.16 L537.10,278.09 L536.61,278.03 L536.10,277.96 L535.57,277.90 L535.00,277.83 L535.00,277.77 L535.49,277.70 L535.95,277.63 L536.39,277.57 L536.82,277.50 L537.24,277.44 L537.65,277.38 L538.05,277.31 L538.44,277.25 L538.83,277.18 L539.21,277.12 L539.59,277.05 L539.96,276.99 L540.32,276.92 L540.67,276.86 L541.02,276.79 L541.37,276.73 L541.70,276.66 L542.03,276.60 L542.34,276.53 L542.64,276.47 L542.90,276.40Z" fill="#3D6A86" stroke="#1c1c1c" stroke-width="1.0" stroke-linejoin="round"/>
<line x1="542.90" y1="277.14" x2="542.90" y2="278.26" stroke="#2a2a2a" stroke-width="0.6"/>
<rect x="541.95" y="277.13" width="1.9" height="1.34" fill="#2a2a2a"/>
<circle cx="542.90" cy="277.80" r="0.75" fill="#fff"/>
<path d="M566.52,264.40 L566.73,264.49 L566.98,264.59 L567.23,264.68 L567.50,264.77 L567.77,264.86 L568.05,264.96 L568.33,265.05 L568.62,265.14 L568.92,265.23 L569.22,265.33 L569.52,265.42 L569.83,265.51 L570.15,265.60 L570.47,265.69 L570.79,265.79 L571.12,265.88 L571.46,265.97 L571.81,266.06 L572.17,266.16 L572.54,266.25 L572.94,266.34 L573.01,266.44 L572.54,266.53 L572.11,266.62 L571.69,266.71 L571.28,266.81 L570.89,266.90 L570.50,266.99 L570.13,267.08 L569.76,267.17 L569.39,267.27 L569.04,267.36 L568.69,267.45 L568.35,267.54 L568.01,267.64 L567.69,267.73 L567.37,267.82 L567.06,267.91 L566.78,268.01 L566.52,268.10 L566.52,268.10 L566.26,268.01 L565.98,267.91 L565.67,267.82 L565.35,267.73 L565.03,267.64 L564.69,267.54 L564.35,267.45 L564.00,267.36 L563.65,267.27 L563.28,267.17 L562.91,267.08 L562.54,266.99 L562.15,266.90 L561.76,266.81 L561.35,266.71 L560.93,266.62 L560.50,266.53 L560.03,266.44 L560.10,266.34 L560.50,266.25 L560.87,266.16 L561.23,266.06 L561.58,265.97 L561.92,265.88 L562.25,265.79 L562.57,265.69 L562.89,265.60 L563.21,265.51 L563.52,265.42 L563.82,265.33 L564.12,265.23 L564.42,265.14 L564.71,265.05 L564.99,264.96 L565.27,264.86 L565.54,264.77 L565.81,264.68 L566.06,264.59 L566.31,264.49 L566.52,264.40Z" fill="#3D6A86" stroke="#1c1c1c" stroke-width="1.0" stroke-linejoin="round"/>
<line x1="566.52" y1="265.47" x2="566.52" y2="267.03" stroke="#2a2a2a" stroke-width="0.6"/>
<rect x="565.57" y="265.46" width="1.9" height="1.87" fill="#2a2a2a"/>
<circle cx="566.52" cy="266.40" r="0.75" fill="#fff"/>
<path d="M590.14,262.60 L590.34,262.68 L590.56,262.76 L590.80,262.84 L591.05,262.92 L591.30,263.00 L591.56,263.08 L591.82,263.16 L592.09,263.24 L592.36,263.32 L592.64,263.40 L592.93,263.48 L593.21,263.56 L593.51,263.64 L593.80,263.72 L594.11,263.80 L594.42,263.88 L594.74,263.96 L595.06,264.04 L595.40,264.12 L595.75,264.20 L596.13,264.28 L595.89,264.36 L595.49,264.44 L595.10,264.52 L594.74,264.60 L594.38,264.68 L594.03,264.76 L593.68,264.84 L593.35,264.92 L593.02,265.00 L592.70,265.08 L592.38,265.16 L592.07,265.24 L591.77,265.32 L591.47,265.40 L591.18,265.48 L590.90,265.56 L590.63,265.64 L590.37,265.72 L590.14,265.80 L590.14,265.80 L589.91,265.72 L589.65,265.64 L589.38,265.56 L589.10,265.48 L588.81,265.40 L588.51,265.32 L588.21,265.24 L587.90,265.16 L587.58,265.08 L587.26,265.00 L586.93,264.92 L586.60,264.84 L586.25,264.76 L585.90,264.68 L585.54,264.60 L585.18,264.52 L584.79,264.44 L584.39,264.36 L584.15,264.28 L584.53,264.20 L584.88,264.12 L585.22,264.04 L585.54,263.96 L585.86,263.88 L586.17,263.80 L586.48,263.72 L586.77,263.64 L587.07,263.56 L587.35,263.48 L587.64,263.40 L587.92,263.32 L588.19,263.24 L588.46,263.16 L588.72,263.08 L588.98,263.00 L589.23,262.92 L589.48,262.84 L589.72,262.76 L589.94,262.68 L590.14,262.60Z" fill="#3D6A86" stroke="#1c1c1c" stroke-width="1.0" stroke-linejoin="round"/>
<line x1="590.14" y1="263.52" x2="590.14" y2="264.88" stroke="#2a2a2a" stroke-width="0.6"/>
<rect x="589.19" y="263.48" width="1.9" height="1.63" fill="#2a2a2a"/>
<circle cx="590.14" cy="264.30" r="0.75" fill="#fff"/>
<path d="M613.76,261.80 L614.04,261.87 L614.35,261.94 L614.69,262.02 L615.03,262.09 L615.38,262.16 L615.75,262.24 L616.12,262.31 L616.50,262.38 L616.88,262.45 L617.28,262.52 L617.68,262.60 L618.09,262.67 L618.50,262.74 L618.93,262.81 L619.36,262.89 L619.81,262.96 L620.27,263.03 L620.75,263.11 L621.27,263.18 L621.09,263.25 L620.62,263.32 L620.18,263.39 L619.75,263.47 L619.33,263.54 L618.93,263.61 L618.53,263.69 L618.14,263.76 L617.76,263.83 L617.38,263.90 L617.01,263.98 L616.65,264.05 L616.30,264.12 L615.94,264.19 L615.60,264.26 L615.27,264.34 L614.94,264.41 L614.62,264.48 L614.31,264.56 L614.02,264.63 L613.76,264.70 L613.76,264.70 L613.50,264.63 L613.21,264.56 L612.90,264.48 L612.58,264.41 L612.25,264.34 L611.92,264.26 L611.58,264.19 L611.22,264.12 L610.87,264.05 L610.51,263.98 L610.14,263.90 L609.76,263.83 L609.38,263.76 L608.99,263.69 L608.59,263.61 L608.19,263.54 L607.77,263.47 L607.34,263.39 L606.90,263.32 L606.43,263.25 L606.25,263.18 L606.77,263.11 L607.25,263.03 L607.71,262.96 L608.16,262.89 L608.59,262.81 L609.02,262.74 L609.43,262.67 L609.84,262.60 L610.24,262.52 L610.64,262.45 L611.02,262.38 L611.40,262.31 L611.77,262.24 L612.14,262.16 L612.49,262.09 L612.83,262.02 L613.17,261.94 L613.48,261.87 L613.76,261.80Z" fill="#3D6A86" stroke="#1c1c1c" stroke-width="1.0" stroke-linejoin="round"/>
<line x1="613.76" y1="262.63" x2="613.76" y2="263.87" stroke="#2a2a2a" stroke-width="0.6"/>
<rect x="612.81" y="262.46" width="1.9" height="1.49" fill="#2a2a2a"/>
<circle cx="613.76" cy="263.20" r="0.75" fill="#fff"/>
<path d="M637.38,261.50 L637.54,261.57 L637.77,261.63 L638.03,261.70 L638.32,261.77 L638.63,261.84 L638.97,261.90 L639.32,261.97 L639.69,262.04 L640.08,262.11 L640.49,262.18 L640.92,262.24 L641.36,262.31 L641.83,262.38 L642.32,262.44 L642.84,262.51 L643.39,262.58 L643.97,262.65 L644.59,262.71 L645.27,262.78 L646.06,262.85 L646.50,262.92 L645.56,262.99 L644.79,263.05 L644.11,263.12 L643.47,263.19 L642.88,263.25 L642.32,263.32 L641.80,263.39 L641.29,263.46 L640.82,263.52 L640.36,263.59 L639.93,263.66 L639.52,263.73 L639.13,263.80 L638.76,263.86 L638.42,263.93 L638.10,264.00 L637.81,264.06 L637.56,264.13 L637.38,264.20 L637.38,264.20 L637.20,264.13 L636.95,264.06 L636.66,264.00 L636.34,263.93 L636.00,263.86 L635.63,263.80 L635.24,263.73 L634.83,263.66 L634.40,263.59 L633.94,263.52 L633.47,263.46 L632.96,263.39 L632.44,263.32 L631.88,263.25 L631.29,263.19 L630.65,263.12 L629.97,263.05 L629.20,262.99 L628.26,262.92 L628.70,262.85 L629.49,262.78 L630.17,262.71 L630.79,262.65 L631.37,262.58 L631.92,262.51 L632.44,262.44 L632.93,262.38 L633.40,262.31 L633.84,262.24 L634.27,262.18 L634.68,262.11 L635.07,262.04 L635.44,261.97 L635.79,261.90 L636.13,261.84 L636.44,261.77 L636.73,261.70 L636.99,261.63 L637.22,261.57 L637.38,261.50Z" fill="#3D6A86" stroke="#1c1c1c" stroke-width="1.0" stroke-linejoin="round"/>
<line x1="637.38" y1="262.27" x2="637.38" y2="263.43" stroke="#2a2a2a" stroke-width="0.6"/>
<rect x="636.43" y="262.20" width="1.9" height="1.39" fill="#2a2a2a"/>
<circle cx="637.38" cy="262.90" r="0.75" fill="#fff"/>
<path d="M661.00,260.20 L661.74,260.34 L662.13,260.47 L662.43,260.61 L662.69,260.74 L662.91,260.88 L663.12,261.01 L663.30,261.15 L663.47,261.28 L663.62,261.42 L663.75,261.55 L663.88,261.69 L663.99,261.82 L664.10,261.96 L664.19,262.09 L664.27,262.23 L664.34,262.36 L664.40,262.50 L664.45,262.63 L664.48,262.76 L664.50,262.90 L664.48,263.04 L664.45,263.17 L664.40,263.31 L664.34,263.44 L664.27,263.57 L664.19,263.71 L664.10,263.84 L663.99,263.98 L663.88,264.12 L663.75,264.25 L663.62,264.38 L663.47,264.52 L663.30,264.65 L663.12,264.79 L662.91,264.92 L662.69,265.06 L662.43,265.19 L662.13,265.33 L661.74,265.46 L661.00,265.60 L661.00,265.60 L660.26,265.46 L659.87,265.33 L659.57,265.19 L659.31,265.06 L659.09,264.92 L658.88,264.79 L658.70,264.65 L658.53,264.52 L658.38,264.38 L658.25,264.25 L658.12,264.12 L658.01,263.98 L657.90,263.84 L657.81,263.71 L657.73,263.57 L657.66,263.44 L657.60,263.31 L657.55,263.17 L657.52,263.04 L657.50,262.90 L657.52,262.76 L657.55,262.63 L657.60,262.50 L657.66,262.36 L657.73,262.23 L657.81,262.09 L657.90,261.96 L658.01,261.82 L658.12,261.69 L658.25,261.55 L658.38,261.42 L658.53,261.28 L658.70,261.15 L658.88,261.01 L659.09,260.88 L659.31,260.74 L659.57,260.61 L659.87,260.47 L660.26,260.34 L661.00,260.20Z" fill="#3D6A86" stroke="#1c1c1c" stroke-width="1.0" stroke-linejoin="round"/>
<line x1="661.00" y1="261.78" x2="661.00" y2="264.02" stroke="#2a2a2a" stroke-width="0.6"/>
<rect x="660.05" y="261.56" width="1.9" height="2.69" fill="#2a2a2a"/>
<circle cx="661.00" cy="262.90" r="0.75" fill="#fff"/>
<path d="M531.50,256.95 V321.34 H685.20" fill="none" stroke="#4a4a4a" stroke-width="1.0"/>
<line x1="529.30" y1="309.65" x2="531.50" y2="309.65" stroke="#4a4a4a" stroke-width="0.8"/>
<line x1="529.30" y1="290.85" x2="531.50" y2="290.85" stroke="#4a4a4a" stroke-width="0.8"/>
<line x1="529.30" y1="272.05" x2="531.50" y2="272.05" stroke="#4a4a4a" stroke-width="0.8"/>
<line x1="542.90" y1="321.34" x2="542.90" y2="323.54" stroke="#4a4a4a" stroke-width="0.8"/>
<text font-size="7.20" fill="#1a1a1a" text-anchor="middle" transform="translate(542.90,330.00) scale(0.850,1)">20</text>
<line x1="566.52" y1="321.34" x2="566.52" y2="323.54" stroke="#4a4a4a" stroke-width="0.8"/>
<text font-size="7.20" fill="#1a1a1a" text-anchor="middle" transform="translate(566.52,330.00) scale(0.850,1)">80</text>
<line x1="590.14" y1="321.34" x2="590.14" y2="323.54" stroke="#4a4a4a" stroke-width="0.8"/>
<text font-size="7.20" fill="#1a1a1a" text-anchor="middle" transform="translate(590.14,330.00) scale(0.850,1)">140</text>
<line x1="613.76" y1="321.34" x2="613.76" y2="323.54" stroke="#4a4a4a" stroke-width="0.8"/>
<text font-size="7.20" fill="#1a1a1a" text-anchor="middle" transform="translate(613.76,330.00) scale(0.850,1)">200</text>
<line x1="637.38" y1="321.34" x2="637.38" y2="323.54" stroke="#4a4a4a" stroke-width="0.8"/>
<text font-size="7.20" fill="#1a1a1a" text-anchor="middle" transform="translate(637.38,330.00) scale(0.850,1)">400</text>
<line x1="661.00" y1="321.34" x2="661.00" y2="323.54" stroke="#4a4a4a" stroke-width="0.8"/>
<text font-size="7.20" fill="#1a1a1a" text-anchor="middle" transform="translate(661.00,330.00) scale(0.850,1)">600</text>
<text font-size="7.10" fill="#1a1a1a" text-anchor="middle" transform="translate(608.35,338.50) scale(0.980,1)">Sequence length (nt)</text>
<rect x="534.40" y="307.4" width="44.4" height="11.1" rx="1.2" fill="#fff" fill-opacity="0.8" stroke="#d0d0d0" stroke-width="0.8"/>
<ellipse cx="543.00" cy="312.6" rx="1.95" ry="2.1" fill="#fff" stroke="#2a2a2a" stroke-width="0.95"/>
<text font-size="6.30" fill="#1a1a1a" text-anchor="start" transform="translate(553.80,314.70) scale(1.055,1)">Median</text>
<rect x="0.9" y="0.4" width="11.6" height="14.9" fill="none" stroke="#333" stroke-width="0.8"/>
<text font-size="13.8" fill="#111" text-anchor="middle" style="stroke:#111;stroke-width:0.45px" transform="translate(6.95,13.5) scale(0.9,1)">A</text>
<rect x="342.4" y="0.4" width="11.85" height="14.9" fill="none" stroke="#333" stroke-width="0.8"/>
<text font-size="13.8" fill="#111" text-anchor="middle" style="stroke:#111;stroke-width:0.45px" transform="translate(348.6,13.5) scale(0.82,1)">B</text>
</svg></body></html>
